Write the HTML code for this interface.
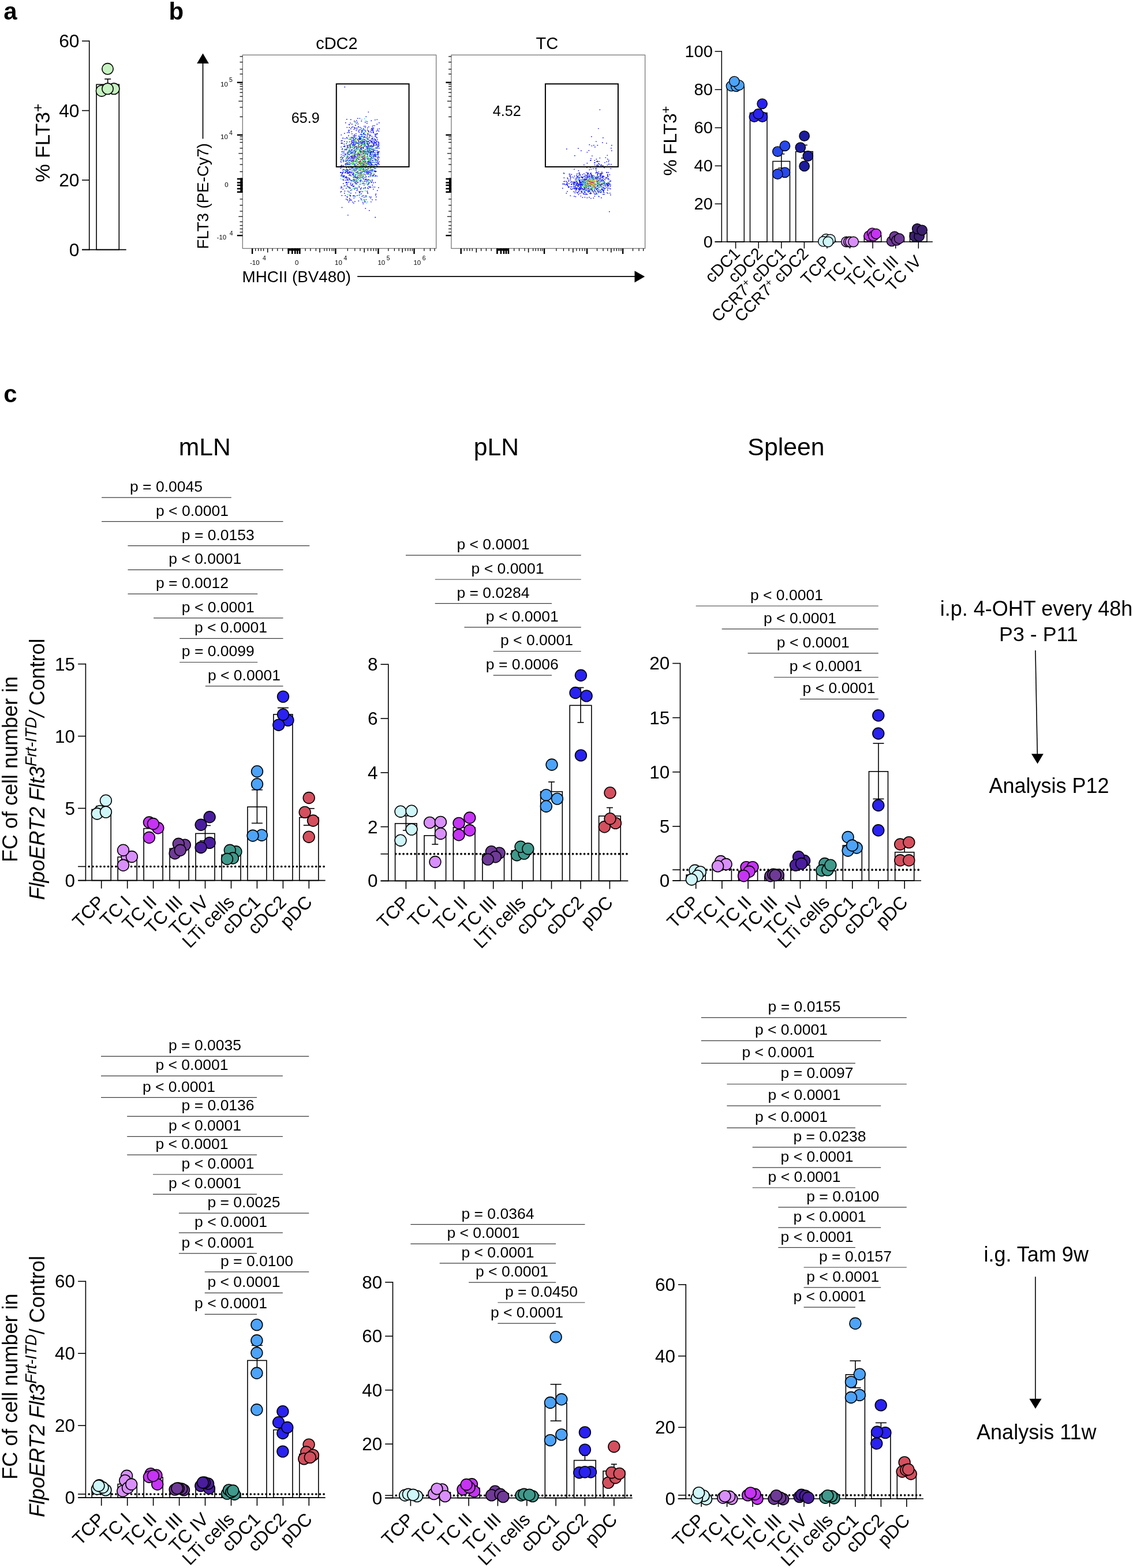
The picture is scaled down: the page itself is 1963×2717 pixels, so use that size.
<!DOCTYPE html>
<html lang="en">
<head>
<meta charset="utf-8">
<title>Figure</title>
<style>
html,body{margin:0;padding:0;background:#fff;}
body{width:1963px;height:2717px;overflow:hidden;font-family:"Liberation Sans", Arial, Helvetica, sans-serif;}
svg{display:block;position:absolute;left:0;top:0;}
svg text{white-space:pre;}
</style>
</head>
<body>
<svg width="1963" height="2717" viewBox="0 0 1963 2717" font-family='"Liberation Sans", Arial, Helvetica, sans-serif' fill="#000" stroke-linecap="butt">
<g class="c">
<text x="6.3" y="34.2" font-size="42" font-weight="bold">a</text>
<text x="292.5" y="34.2" font-size="42" font-weight="bold">b</text>
<text x="6.3" y="697" font-size="42" font-weight="bold">c</text>
<rect x="167.1" y="146.4" width="39.2" height="286.2" fill="#fff" stroke="#000" stroke-width="1.6"/>
<line x1="186.7" y1="136.9" x2="186.7" y2="146.4" stroke="#000" stroke-width="1.6"/>
<line x1="181.2" y1="136.9" x2="192.2" y2="136.9" stroke="#000" stroke-width="1.6"/>
<line x1="154.7" y1="70.3" x2="154.7" y2="433.4" stroke="#000" stroke-width="1.6"/>
<line x1="142" y1="432.6" x2="218.7" y2="432.6" stroke="#000" stroke-width="1.6"/>
<line x1="142" y1="71.1" x2="154.7" y2="71.1" stroke="#000" stroke-width="1.6"/>
<text x="137.5" y="82.1" font-size="31.8" text-anchor="end">60</text>
<line x1="142" y1="191.6" x2="154.7" y2="191.6" stroke="#000" stroke-width="1.6"/>
<text x="137.5" y="202.6" font-size="31.8" text-anchor="end">40</text>
<line x1="142" y1="312.1" x2="154.7" y2="312.1" stroke="#000" stroke-width="1.6"/>
<text x="137.5" y="323.1" font-size="31.8" text-anchor="end">20</text>
<line x1="142" y1="432.6" x2="154.7" y2="432.6" stroke="#000" stroke-width="1.6"/>
<text x="137.5" y="443.6" font-size="31.8" text-anchor="end">0</text>
<g stroke="#000" stroke-width="1.6">
<circle cx="176.1" cy="157.4" r="9.7" fill="#c6f1c0"/>
<circle cx="197.3" cy="153.8" r="9.7" fill="#c6f1c0"/>
<circle cx="186.5" cy="153.8" r="9.7" fill="#c6f1c0"/>
<circle cx="186.5" cy="119.3" r="9.7" fill="#c6f1c0"/>
</g>
<text font-size="35.6" text-anchor="middle" transform="translate(86.2 247.6) rotate(-90)">% FLT3<tspan font-size="25" dy="-12.5">+</tspan></text>
<rect x="420.3" y="95.3" width="335.4" height="335.2" fill="#fff" stroke="#777" stroke-width="1.3"/>
<line x1="410.8" y1="142.9" x2="420.3" y2="142.9" stroke="#000" stroke-width="2.4"/>
<line x1="410.8" y1="233.9" x2="420.3" y2="233.9" stroke="#000" stroke-width="2.4"/>
<line x1="410.8" y1="408.1" x2="420.3" y2="408.1" stroke="#000" stroke-width="2.4"/>
<line x1="415.5" y1="97.9" x2="420.3" y2="97.9" stroke="#000" stroke-width="1.2"/>
<line x1="415.5" y1="107.6" x2="420.3" y2="107.6" stroke="#000" stroke-width="1.2"/>
<line x1="415.5" y1="119.9" x2="420.3" y2="119.9" stroke="#000" stroke-width="1.2"/>
<line x1="415.5" y1="128.3" x2="420.3" y2="128.3" stroke="#000" stroke-width="1.2"/>
<line x1="415.5" y1="146" x2="420.3" y2="146" stroke="#000" stroke-width="1.2"/>
<line x1="415.5" y1="149.7" x2="420.3" y2="149.7" stroke="#000" stroke-width="1.2"/>
<line x1="415.5" y1="154.3" x2="420.3" y2="154.3" stroke="#000" stroke-width="1.2"/>
<line x1="415.5" y1="160.3" x2="420.3" y2="160.3" stroke="#000" stroke-width="1.2"/>
<line x1="415.5" y1="167.1" x2="420.3" y2="167.1" stroke="#000" stroke-width="1.2"/>
<line x1="413.3" y1="175.3" x2="420.3" y2="175.3" stroke="#000" stroke-width="1.2"/>
<line x1="415.5" y1="185.9" x2="420.3" y2="185.9" stroke="#000" stroke-width="1.2"/>
<line x1="415.5" y1="202.4" x2="420.3" y2="202.4" stroke="#000" stroke-width="1.2"/>
<line x1="415.5" y1="237" x2="420.3" y2="237" stroke="#000" stroke-width="1.2"/>
<line x1="415.5" y1="241.2" x2="420.3" y2="241.2" stroke="#000" stroke-width="1.2"/>
<line x1="415.5" y1="246.7" x2="420.3" y2="246.7" stroke="#000" stroke-width="1.2"/>
<line x1="415.5" y1="256.8" x2="420.3" y2="256.8" stroke="#000" stroke-width="1.2"/>
<line x1="413.3" y1="265.9" x2="420.3" y2="265.9" stroke="#000" stroke-width="1.2"/>
<line x1="415.5" y1="275.1" x2="420.3" y2="275.1" stroke="#000" stroke-width="1.2"/>
<line x1="415.5" y1="285.1" x2="420.3" y2="285.1" stroke="#000" stroke-width="1.2"/>
<line x1="415.5" y1="297.5" x2="420.3" y2="297.5" stroke="#000" stroke-width="1.2"/>
<line x1="415.5" y1="345" x2="420.3" y2="345" stroke="#000" stroke-width="1.2"/>
<line x1="415.5" y1="355.6" x2="420.3" y2="355.6" stroke="#000" stroke-width="1.2"/>
<line x1="415.5" y1="366" x2="420.3" y2="366" stroke="#000" stroke-width="1.2"/>
<line x1="413.3" y1="375.2" x2="420.3" y2="375.2" stroke="#000" stroke-width="1.2"/>
<line x1="415.5" y1="384.3" x2="420.3" y2="384.3" stroke="#000" stroke-width="1.2"/>
<line x1="415.5" y1="390.7" x2="420.3" y2="390.7" stroke="#000" stroke-width="1.2"/>
<line x1="415.5" y1="396.6" x2="420.3" y2="396.6" stroke="#000" stroke-width="1.2"/>
<line x1="415.5" y1="402.3" x2="420.3" y2="402.3" stroke="#000" stroke-width="1.2"/>
<rect x="416.3" y="308.4" width="4" height="25.6" fill="#000" stroke="none" stroke-width="0"/>
<line x1="410.8" y1="310" x2="420.3" y2="310" stroke="#000" stroke-width="2.6"/>
<line x1="410.8" y1="316.5" x2="420.3" y2="316.5" stroke="#000" stroke-width="2.6"/>
<line x1="410.8" y1="321" x2="420.3" y2="321" stroke="#000" stroke-width="2.6"/>
<line x1="410.8" y1="327" x2="420.3" y2="327" stroke="#000" stroke-width="2.6"/>
<line x1="410.8" y1="332.7" x2="420.3" y2="332.7" stroke="#000" stroke-width="2.6"/>
<line x1="437.1" y1="430.5" x2="437.1" y2="440" stroke="#000" stroke-width="2.4"/>
<line x1="581.4" y1="430.5" x2="581.4" y2="440" stroke="#000" stroke-width="2.4"/>
<line x1="655.4" y1="430.5" x2="655.4" y2="440" stroke="#000" stroke-width="2.4"/>
<line x1="717.5" y1="430.5" x2="717.5" y2="440" stroke="#000" stroke-width="2.4"/>
<line x1="442.7" y1="430.5" x2="442.7" y2="435" stroke="#000" stroke-width="1.2"/>
<line x1="447.6" y1="430.5" x2="447.6" y2="435" stroke="#000" stroke-width="1.2"/>
<line x1="452.2" y1="430.5" x2="452.2" y2="435" stroke="#000" stroke-width="1.2"/>
<line x1="456.6" y1="430.5" x2="456.6" y2="435" stroke="#000" stroke-width="1.2"/>
<line x1="472" y1="430.5" x2="472" y2="435" stroke="#000" stroke-width="1.2"/>
<line x1="480.8" y1="430.5" x2="480.8" y2="435" stroke="#000" stroke-width="1.2"/>
<line x1="489.6" y1="430.5" x2="489.6" y2="435" stroke="#000" stroke-width="1.2"/>
<line x1="529.1" y1="430.5" x2="529.1" y2="435" stroke="#000" stroke-width="1.2"/>
<line x1="537.9" y1="430.5" x2="537.9" y2="435" stroke="#000" stroke-width="1.2"/>
<line x1="547.4" y1="430.5" x2="547.4" y2="435" stroke="#000" stroke-width="1.2"/>
<line x1="562" y1="430.5" x2="562" y2="435" stroke="#000" stroke-width="1.2"/>
<line x1="566.4" y1="430.5" x2="566.4" y2="435" stroke="#000" stroke-width="1.2"/>
<line x1="570.8" y1="430.5" x2="570.8" y2="435" stroke="#000" stroke-width="1.2"/>
<line x1="575.2" y1="430.5" x2="575.2" y2="435" stroke="#000" stroke-width="1.2"/>
<line x1="578.2" y1="430.5" x2="578.2" y2="435" stroke="#000" stroke-width="1.2"/>
<line x1="602.3" y1="430.5" x2="602.3" y2="435" stroke="#000" stroke-width="1.2"/>
<line x1="614.8" y1="430.5" x2="614.8" y2="435" stroke="#000" stroke-width="1.2"/>
<line x1="624" y1="430.5" x2="624" y2="435" stroke="#000" stroke-width="1.2"/>
<line x1="637.3" y1="430.5" x2="637.3" y2="435" stroke="#000" stroke-width="1.2"/>
<line x1="642.6" y1="430.5" x2="642.6" y2="435" stroke="#000" stroke-width="1.2"/>
<line x1="647.3" y1="430.5" x2="647.3" y2="435" stroke="#000" stroke-width="1.2"/>
<line x1="651.5" y1="430.5" x2="651.5" y2="435" stroke="#000" stroke-width="1.2"/>
<line x1="672.9" y1="430.5" x2="672.9" y2="435" stroke="#000" stroke-width="1.2"/>
<line x1="683.4" y1="430.5" x2="683.4" y2="435" stroke="#000" stroke-width="1.2"/>
<line x1="691.1" y1="430.5" x2="691.1" y2="435" stroke="#000" stroke-width="1.2"/>
<line x1="702.3" y1="430.5" x2="702.3" y2="435" stroke="#000" stroke-width="1.2"/>
<line x1="706.8" y1="430.5" x2="706.8" y2="435" stroke="#000" stroke-width="1.2"/>
<line x1="710.7" y1="430.5" x2="710.7" y2="435" stroke="#000" stroke-width="1.2"/>
<line x1="714.3" y1="430.5" x2="714.3" y2="435" stroke="#000" stroke-width="1.2"/>
<line x1="734.9" y1="430.5" x2="734.9" y2="435" stroke="#000" stroke-width="1.2"/>
<line x1="745.4" y1="430.5" x2="745.4" y2="435" stroke="#000" stroke-width="1.2"/>
<line x1="753" y1="430.5" x2="753" y2="435" stroke="#000" stroke-width="1.2"/>
<line x1="463.7" y1="430.5" x2="463.7" y2="437.5" stroke="#000" stroke-width="1.5"/>
<line x1="554" y1="430.5" x2="554" y2="437.5" stroke="#000" stroke-width="1.5"/>
<line x1="631.2" y1="430.5" x2="631.2" y2="437.5" stroke="#000" stroke-width="1.5"/>
<line x1="697.2" y1="430.5" x2="697.2" y2="437.5" stroke="#000" stroke-width="1.5"/>
<rect x="498.5" y="430.5" width="21.9" height="4" fill="#000" stroke="none" stroke-width="0"/>
<line x1="499.8" y1="430.5" x2="499.8" y2="440" stroke="#000" stroke-width="2.6"/>
<line x1="506.3" y1="430.5" x2="506.3" y2="440" stroke="#000" stroke-width="2.6"/>
<line x1="511.3" y1="430.5" x2="511.3" y2="440" stroke="#000" stroke-width="2.6"/>
<line x1="515.3" y1="430.5" x2="515.3" y2="440" stroke="#000" stroke-width="2.6"/>
<line x1="519.3" y1="430.5" x2="519.3" y2="440" stroke="#000" stroke-width="2.6"/>
<rect x="781.9" y="95.3" width="335.7" height="335.2" fill="#fff" stroke="#777" stroke-width="1.3"/>
<line x1="772.4" y1="142.9" x2="781.9" y2="142.9" stroke="#000" stroke-width="2.4"/>
<line x1="772.4" y1="233.9" x2="781.9" y2="233.9" stroke="#000" stroke-width="2.4"/>
<line x1="772.4" y1="408.1" x2="781.9" y2="408.1" stroke="#000" stroke-width="2.4"/>
<line x1="777.1" y1="97.9" x2="781.9" y2="97.9" stroke="#000" stroke-width="1.2"/>
<line x1="777.1" y1="107.6" x2="781.9" y2="107.6" stroke="#000" stroke-width="1.2"/>
<line x1="777.1" y1="119.9" x2="781.9" y2="119.9" stroke="#000" stroke-width="1.2"/>
<line x1="777.1" y1="128.3" x2="781.9" y2="128.3" stroke="#000" stroke-width="1.2"/>
<line x1="777.1" y1="146" x2="781.9" y2="146" stroke="#000" stroke-width="1.2"/>
<line x1="777.1" y1="149.7" x2="781.9" y2="149.7" stroke="#000" stroke-width="1.2"/>
<line x1="777.1" y1="154.3" x2="781.9" y2="154.3" stroke="#000" stroke-width="1.2"/>
<line x1="777.1" y1="160.3" x2="781.9" y2="160.3" stroke="#000" stroke-width="1.2"/>
<line x1="777.1" y1="167.1" x2="781.9" y2="167.1" stroke="#000" stroke-width="1.2"/>
<line x1="774.9" y1="175.3" x2="781.9" y2="175.3" stroke="#000" stroke-width="1.2"/>
<line x1="777.1" y1="185.9" x2="781.9" y2="185.9" stroke="#000" stroke-width="1.2"/>
<line x1="777.1" y1="202.4" x2="781.9" y2="202.4" stroke="#000" stroke-width="1.2"/>
<line x1="777.1" y1="237" x2="781.9" y2="237" stroke="#000" stroke-width="1.2"/>
<line x1="777.1" y1="241.2" x2="781.9" y2="241.2" stroke="#000" stroke-width="1.2"/>
<line x1="777.1" y1="246.7" x2="781.9" y2="246.7" stroke="#000" stroke-width="1.2"/>
<line x1="777.1" y1="256.8" x2="781.9" y2="256.8" stroke="#000" stroke-width="1.2"/>
<line x1="774.9" y1="265.9" x2="781.9" y2="265.9" stroke="#000" stroke-width="1.2"/>
<line x1="777.1" y1="275.1" x2="781.9" y2="275.1" stroke="#000" stroke-width="1.2"/>
<line x1="777.1" y1="285.1" x2="781.9" y2="285.1" stroke="#000" stroke-width="1.2"/>
<line x1="777.1" y1="297.5" x2="781.9" y2="297.5" stroke="#000" stroke-width="1.2"/>
<line x1="777.1" y1="345" x2="781.9" y2="345" stroke="#000" stroke-width="1.2"/>
<line x1="777.1" y1="355.6" x2="781.9" y2="355.6" stroke="#000" stroke-width="1.2"/>
<line x1="777.1" y1="366" x2="781.9" y2="366" stroke="#000" stroke-width="1.2"/>
<line x1="774.9" y1="375.2" x2="781.9" y2="375.2" stroke="#000" stroke-width="1.2"/>
<line x1="777.1" y1="384.3" x2="781.9" y2="384.3" stroke="#000" stroke-width="1.2"/>
<line x1="777.1" y1="390.7" x2="781.9" y2="390.7" stroke="#000" stroke-width="1.2"/>
<line x1="777.1" y1="396.6" x2="781.9" y2="396.6" stroke="#000" stroke-width="1.2"/>
<line x1="777.1" y1="402.3" x2="781.9" y2="402.3" stroke="#000" stroke-width="1.2"/>
<rect x="777.9" y="308.4" width="4" height="25.6" fill="#000" stroke="none" stroke-width="0"/>
<line x1="772.4" y1="310" x2="781.9" y2="310" stroke="#000" stroke-width="2.6"/>
<line x1="772.4" y1="316.5" x2="781.9" y2="316.5" stroke="#000" stroke-width="2.6"/>
<line x1="772.4" y1="321" x2="781.9" y2="321" stroke="#000" stroke-width="2.6"/>
<line x1="772.4" y1="327" x2="781.9" y2="327" stroke="#000" stroke-width="2.6"/>
<line x1="772.4" y1="332.7" x2="781.9" y2="332.7" stroke="#000" stroke-width="2.6"/>
<line x1="798.7" y1="430.5" x2="798.7" y2="440" stroke="#000" stroke-width="2.4"/>
<line x1="943" y1="430.5" x2="943" y2="440" stroke="#000" stroke-width="2.4"/>
<line x1="1017" y1="430.5" x2="1017" y2="440" stroke="#000" stroke-width="2.4"/>
<line x1="1079.1" y1="430.5" x2="1079.1" y2="440" stroke="#000" stroke-width="2.4"/>
<line x1="804.3" y1="430.5" x2="804.3" y2="435" stroke="#000" stroke-width="1.2"/>
<line x1="809.2" y1="430.5" x2="809.2" y2="435" stroke="#000" stroke-width="1.2"/>
<line x1="813.8" y1="430.5" x2="813.8" y2="435" stroke="#000" stroke-width="1.2"/>
<line x1="818.2" y1="430.5" x2="818.2" y2="435" stroke="#000" stroke-width="1.2"/>
<line x1="833.6" y1="430.5" x2="833.6" y2="435" stroke="#000" stroke-width="1.2"/>
<line x1="842.4" y1="430.5" x2="842.4" y2="435" stroke="#000" stroke-width="1.2"/>
<line x1="851.2" y1="430.5" x2="851.2" y2="435" stroke="#000" stroke-width="1.2"/>
<line x1="890.7" y1="430.5" x2="890.7" y2="435" stroke="#000" stroke-width="1.2"/>
<line x1="899.5" y1="430.5" x2="899.5" y2="435" stroke="#000" stroke-width="1.2"/>
<line x1="909" y1="430.5" x2="909" y2="435" stroke="#000" stroke-width="1.2"/>
<line x1="923.6" y1="430.5" x2="923.6" y2="435" stroke="#000" stroke-width="1.2"/>
<line x1="928" y1="430.5" x2="928" y2="435" stroke="#000" stroke-width="1.2"/>
<line x1="932.4" y1="430.5" x2="932.4" y2="435" stroke="#000" stroke-width="1.2"/>
<line x1="936.8" y1="430.5" x2="936.8" y2="435" stroke="#000" stroke-width="1.2"/>
<line x1="939.8" y1="430.5" x2="939.8" y2="435" stroke="#000" stroke-width="1.2"/>
<line x1="963.9" y1="430.5" x2="963.9" y2="435" stroke="#000" stroke-width="1.2"/>
<line x1="976.4" y1="430.5" x2="976.4" y2="435" stroke="#000" stroke-width="1.2"/>
<line x1="985.6" y1="430.5" x2="985.6" y2="435" stroke="#000" stroke-width="1.2"/>
<line x1="998.9" y1="430.5" x2="998.9" y2="435" stroke="#000" stroke-width="1.2"/>
<line x1="1004.2" y1="430.5" x2="1004.2" y2="435" stroke="#000" stroke-width="1.2"/>
<line x1="1008.9" y1="430.5" x2="1008.9" y2="435" stroke="#000" stroke-width="1.2"/>
<line x1="1013.1" y1="430.5" x2="1013.1" y2="435" stroke="#000" stroke-width="1.2"/>
<line x1="1034.5" y1="430.5" x2="1034.5" y2="435" stroke="#000" stroke-width="1.2"/>
<line x1="1045" y1="430.5" x2="1045" y2="435" stroke="#000" stroke-width="1.2"/>
<line x1="1052.7" y1="430.5" x2="1052.7" y2="435" stroke="#000" stroke-width="1.2"/>
<line x1="1063.9" y1="430.5" x2="1063.9" y2="435" stroke="#000" stroke-width="1.2"/>
<line x1="1068.4" y1="430.5" x2="1068.4" y2="435" stroke="#000" stroke-width="1.2"/>
<line x1="1072.3" y1="430.5" x2="1072.3" y2="435" stroke="#000" stroke-width="1.2"/>
<line x1="1075.9" y1="430.5" x2="1075.9" y2="435" stroke="#000" stroke-width="1.2"/>
<line x1="1096.5" y1="430.5" x2="1096.5" y2="435" stroke="#000" stroke-width="1.2"/>
<line x1="1107" y1="430.5" x2="1107" y2="435" stroke="#000" stroke-width="1.2"/>
<line x1="1114.6" y1="430.5" x2="1114.6" y2="435" stroke="#000" stroke-width="1.2"/>
<line x1="825.3" y1="430.5" x2="825.3" y2="437.5" stroke="#000" stroke-width="1.5"/>
<line x1="915.6" y1="430.5" x2="915.6" y2="437.5" stroke="#000" stroke-width="1.5"/>
<line x1="992.8" y1="430.5" x2="992.8" y2="437.5" stroke="#000" stroke-width="1.5"/>
<line x1="1058.8" y1="430.5" x2="1058.8" y2="437.5" stroke="#000" stroke-width="1.5"/>
<rect x="860.1" y="430.5" width="21.9" height="4" fill="#000" stroke="none" stroke-width="0"/>
<line x1="861.4" y1="430.5" x2="861.4" y2="440" stroke="#000" stroke-width="2.6"/>
<line x1="867.9" y1="430.5" x2="867.9" y2="440" stroke="#000" stroke-width="2.6"/>
<line x1="872.9" y1="430.5" x2="872.9" y2="440" stroke="#000" stroke-width="2.6"/>
<line x1="876.9" y1="430.5" x2="876.9" y2="440" stroke="#000" stroke-width="2.6"/>
<line x1="880.9" y1="430.5" x2="880.9" y2="440" stroke="#000" stroke-width="2.6"/>
<path d="M635.5 238.5h1.6v1.6h-1.6zM611.5 303h1.6v1.6h-1.6zM628 235.5h1.6v1.6h-1.6zM643 288h1.6v1.6h-1.6zM631 294.5h1.6v1.6h-1.6zM637.5 318.5h1.6v1.6h-1.6zM620 271h1.6v1.6h-1.6zM606 251h1.6v1.6h-1.6zM624.5 264h1.6v1.6h-1.6zM636.5 282h1.6v1.6h-1.6zM643.5 222h1.6v1.6h-1.6zM626 233h1.6v1.6h-1.6zM629.5 231.5h1.6v1.6h-1.6zM597 298.5h1.6v1.6h-1.6zM631.5 271.5h1.6v1.6h-1.6zM605.5 277h1.6v1.6h-1.6zM610 301.5h1.6v1.6h-1.6zM631.5 310.5h1.6v1.6h-1.6zM609.5 278h1.6v1.6h-1.6zM630.5 296.5h1.6v1.6h-1.6zM612 321.5h1.6v1.6h-1.6zM627.5 282h1.6v1.6h-1.6zM613 279.5h1.6v1.6h-1.6zM620.5 244.5h1.6v1.6h-1.6zM640.5 302.5h1.6v1.6h-1.6zM634.5 296.5h1.6v1.6h-1.6zM638 279.5h1.6v1.6h-1.6zM638 279h1.6v1.6h-1.6zM649.5 275.5h1.6v1.6h-1.6zM615 306.5h1.6v1.6h-1.6zM614 222h1.6v1.6h-1.6zM636.5 274h1.6v1.6h-1.6zM630 262h1.6v1.6h-1.6zM653 277.5h1.6v1.6h-1.6zM648.5 295h1.6v1.6h-1.6zM628 293h1.6v1.6h-1.6zM617.5 221h1.6v1.6h-1.6zM622 260h1.6v1.6h-1.6zM616 316h1.6v1.6h-1.6zM603.5 260h1.6v1.6h-1.6zM621.5 337.5h1.6v1.6h-1.6zM646 229.5h1.6v1.6h-1.6zM616 239.5h1.6v1.6h-1.6zM633 310.5h1.6v1.6h-1.6zM643.5 222.5h1.6v1.6h-1.6zM624.5 312.5h1.6v1.6h-1.6zM628.5 253h1.6v1.6h-1.6zM603 225h1.6v1.6h-1.6zM652.5 260h1.6v1.6h-1.6zM605 309.5h1.6v1.6h-1.6zM645.5 217h1.6v1.6h-1.6zM642 284h1.6v1.6h-1.6zM590.5 303.5h1.6v1.6h-1.6zM636 271h1.6v1.6h-1.6zM631.5 252h1.6v1.6h-1.6zM618.5 305.5h1.6v1.6h-1.6zM620 280h1.6v1.6h-1.6zM602.5 264.5h1.6v1.6h-1.6zM628 279.5h1.6v1.6h-1.6zM608.5 245h1.6v1.6h-1.6zM613.5 270h1.6v1.6h-1.6zM642 270.5h1.6v1.6h-1.6zM604.5 262.5h1.6v1.6h-1.6zM608.5 237.5h1.6v1.6h-1.6zM619 284.5h1.6v1.6h-1.6zM607 316.5h1.6v1.6h-1.6zM644.5 247h1.6v1.6h-1.6zM597.5 311.5h1.6v1.6h-1.6zM615.5 262.5h1.6v1.6h-1.6zM605 245h1.6v1.6h-1.6zM623 224h1.6v1.6h-1.6zM609 290.5h1.6v1.6h-1.6zM655.5 248h1.6v1.6h-1.6zM627 227.5h1.6v1.6h-1.6zM597.5 298h1.6v1.6h-1.6zM613.5 306h1.6v1.6h-1.6zM620.5 285.5h1.6v1.6h-1.6zM646 280.5h1.6v1.6h-1.6zM655 262.5h1.6v1.6h-1.6zM602.5 294.5h1.6v1.6h-1.6zM642.5 263.5h1.6v1.6h-1.6zM623.5 240.5h1.6v1.6h-1.6zM622.5 268.5h1.6v1.6h-1.6zM649 231.5h1.6v1.6h-1.6zM623.5 245h1.6v1.6h-1.6zM605.5 337.5h1.6v1.6h-1.6zM645.5 270h1.6v1.6h-1.6zM636 295.5h1.6v1.6h-1.6zM646.5 288.5h1.6v1.6h-1.6zM620.5 275h1.6v1.6h-1.6zM610.5 264h1.6v1.6h-1.6zM647.5 249h1.6v1.6h-1.6zM638.5 311h1.6v1.6h-1.6zM637 299h1.6v1.6h-1.6zM624.5 257h1.6v1.6h-1.6zM610 251h1.6v1.6h-1.6zM601 297.5h1.6v1.6h-1.6zM591 271h1.6v1.6h-1.6zM612.5 294.5h1.6v1.6h-1.6zM633 273h1.6v1.6h-1.6zM590.5 247.5h1.6v1.6h-1.6zM627 280.5h1.6v1.6h-1.6zM621.5 241h1.6v1.6h-1.6zM635 282h1.6v1.6h-1.6zM637.5 226h1.6v1.6h-1.6zM592.5 257h1.6v1.6h-1.6zM625 269h1.6v1.6h-1.6zM599 315h1.6v1.6h-1.6zM595.5 321.5h1.6v1.6h-1.6zM605.5 277h1.6v1.6h-1.6zM624 246h1.6v1.6h-1.6zM619.5 315.5h1.6v1.6h-1.6zM596.5 259h1.6v1.6h-1.6zM643.5 273h1.6v1.6h-1.6zM626 292h1.6v1.6h-1.6zM621.5 241h1.6v1.6h-1.6zM618.5 315.5h1.6v1.6h-1.6zM617 278h1.6v1.6h-1.6zM628.5 338h1.6v1.6h-1.6zM641.5 290.5h1.6v1.6h-1.6zM621.5 266.5h1.6v1.6h-1.6zM625 235.5h1.6v1.6h-1.6zM637.5 258h1.6v1.6h-1.6zM654.5 264.5h1.6v1.6h-1.6zM647 301h1.6v1.6h-1.6zM655.5 226.5h1.6v1.6h-1.6zM618.5 274h1.6v1.6h-1.6zM635.5 330.5h1.6v1.6h-1.6zM637 244h1.6v1.6h-1.6zM613.5 327h1.6v1.6h-1.6zM613 251.5h1.6v1.6h-1.6zM630 276.5h1.6v1.6h-1.6zM631 252.5h1.6v1.6h-1.6zM618 247.5h1.6v1.6h-1.6zM611 272h1.6v1.6h-1.6zM644.5 320h1.6v1.6h-1.6zM614.5 239.5h1.6v1.6h-1.6zM612.5 274.5h1.6v1.6h-1.6zM599 325.5h1.6v1.6h-1.6zM624 263h1.6v1.6h-1.6zM621 235h1.6v1.6h-1.6zM642.5 251h1.6v1.6h-1.6zM640 280.5h1.6v1.6h-1.6zM589.5 272h1.6v1.6h-1.6zM598.5 288.5h1.6v1.6h-1.6zM611.5 276.5h1.6v1.6h-1.6zM617 276h1.6v1.6h-1.6zM650 284h1.6v1.6h-1.6zM632.5 264.5h1.6v1.6h-1.6zM596 334h1.6v1.6h-1.6zM611 300.5h1.6v1.6h-1.6zM642 274.5h1.6v1.6h-1.6zM640 255.5h1.6v1.6h-1.6zM601 284.5h1.6v1.6h-1.6zM650 296h1.6v1.6h-1.6zM623.5 308.5h1.6v1.6h-1.6zM622.5 238h1.6v1.6h-1.6zM621 225h1.6v1.6h-1.6zM627 284.5h1.6v1.6h-1.6zM633.5 309.5h1.6v1.6h-1.6zM645 303.5h1.6v1.6h-1.6zM654.5 283h1.6v1.6h-1.6zM626 225h1.6v1.6h-1.6zM637.5 253.5h1.6v1.6h-1.6zM629.5 238h1.6v1.6h-1.6zM597 265.5h1.6v1.6h-1.6zM611.5 299.5h1.6v1.6h-1.6zM594 306h1.6v1.6h-1.6zM605 284h1.6v1.6h-1.6zM642 282.5h1.6v1.6h-1.6zM627.5 297h1.6v1.6h-1.6zM638.5 305.5h1.6v1.6h-1.6zM612.5 277h1.6v1.6h-1.6zM628.5 303.5h1.6v1.6h-1.6zM610.5 219h1.6v1.6h-1.6zM625 287.5h1.6v1.6h-1.6zM635.5 282h1.6v1.6h-1.6zM637 283.5h1.6v1.6h-1.6zM649.5 297h1.6v1.6h-1.6zM619 204.5h1.6v1.6h-1.6zM630 341h1.6v1.6h-1.6zM614.5 262.5h1.6v1.6h-1.6zM652.5 238h1.6v1.6h-1.6zM638.5 264h1.6v1.6h-1.6zM605.5 298h1.6v1.6h-1.6zM646.5 303h1.6v1.6h-1.6zM618.5 328h1.6v1.6h-1.6zM629.5 294h1.6v1.6h-1.6zM613 311h1.6v1.6h-1.6zM610.5 289.5h1.6v1.6h-1.6zM612 283h1.6v1.6h-1.6zM622.5 240h1.6v1.6h-1.6zM640.5 264.5h1.6v1.6h-1.6zM649.5 246h1.6v1.6h-1.6zM598.5 294.5h1.6v1.6h-1.6zM645.5 240.5h1.6v1.6h-1.6zM608.5 269.5h1.6v1.6h-1.6zM601 254h1.6v1.6h-1.6zM612 301h1.6v1.6h-1.6zM589.5 279.5h1.6v1.6h-1.6zM614.5 325h1.6v1.6h-1.6zM605.5 253h1.6v1.6h-1.6zM623.5 300h1.6v1.6h-1.6zM649.5 251h1.6v1.6h-1.6zM628.5 223h1.6v1.6h-1.6zM647.5 301h1.6v1.6h-1.6zM618.5 309h1.6v1.6h-1.6zM591.5 262h1.6v1.6h-1.6zM616 234.5h1.6v1.6h-1.6zM643 253h1.6v1.6h-1.6zM653 329.5h1.6v1.6h-1.6zM649.5 315.5h1.6v1.6h-1.6zM622.5 238h1.6v1.6h-1.6zM599.5 290h1.6v1.6h-1.6zM613 283h1.6v1.6h-1.6zM623.5 263h1.6v1.6h-1.6zM624.5 292h1.6v1.6h-1.6zM613 260.5h1.6v1.6h-1.6zM621 275.5h1.6v1.6h-1.6zM643 284h1.6v1.6h-1.6zM625.5 251.5h1.6v1.6h-1.6zM616.5 266.5h1.6v1.6h-1.6zM613.5 312h1.6v1.6h-1.6zM631.5 244.5h1.6v1.6h-1.6zM593.5 276.5h1.6v1.6h-1.6zM638.5 248h1.6v1.6h-1.6zM615 216.5h1.6v1.6h-1.6zM625 239h1.6v1.6h-1.6zM608.5 274.5h1.6v1.6h-1.6zM636 296.5h1.6v1.6h-1.6zM627.5 245h1.6v1.6h-1.6zM628.5 316.5h1.6v1.6h-1.6zM631.5 275h1.6v1.6h-1.6zM591.5 338h1.6v1.6h-1.6zM596 244.5h1.6v1.6h-1.6zM646 228h1.6v1.6h-1.6zM653.5 282.5h1.6v1.6h-1.6zM638.5 316h1.6v1.6h-1.6zM637.5 299.5h1.6v1.6h-1.6zM640 275h1.6v1.6h-1.6zM637.5 252h1.6v1.6h-1.6zM622.5 266.5h1.6v1.6h-1.6zM625 335h1.6v1.6h-1.6zM646 262h1.6v1.6h-1.6zM629 254.5h1.6v1.6h-1.6zM608 288h1.6v1.6h-1.6zM597 321.5h1.6v1.6h-1.6zM615 270.5h1.6v1.6h-1.6zM639.5 278h1.6v1.6h-1.6zM613 269.5h1.6v1.6h-1.6zM599.5 248h1.6v1.6h-1.6zM647.5 244.5h1.6v1.6h-1.6zM607.5 312.5h1.6v1.6h-1.6zM637 241h1.6v1.6h-1.6zM624.5 265.5h1.6v1.6h-1.6zM648 267.5h1.6v1.6h-1.6zM623 281.5h1.6v1.6h-1.6zM637.5 227h1.6v1.6h-1.6zM626.5 255.5h1.6v1.6h-1.6zM641.5 227.5h1.6v1.6h-1.6zM612.5 236.5h1.6v1.6h-1.6zM623 307.5h1.6v1.6h-1.6zM618.5 241h1.6v1.6h-1.6zM635.5 289h1.6v1.6h-1.6zM626 298.5h1.6v1.6h-1.6zM649.5 270.5h1.6v1.6h-1.6zM636 260.5h1.6v1.6h-1.6zM621.5 290h1.6v1.6h-1.6zM636.5 255h1.6v1.6h-1.6zM622.5 253.5h1.6v1.6h-1.6zM642.5 208.5h1.6v1.6h-1.6zM616.5 313.5h1.6v1.6h-1.6zM620 268h1.6v1.6h-1.6zM603 299.5h1.6v1.6h-1.6zM608 298.5h1.6v1.6h-1.6zM652 230.5h1.6v1.6h-1.6zM644 281h1.6v1.6h-1.6zM644.5 262.5h1.6v1.6h-1.6zM636.5 283.5h1.6v1.6h-1.6zM594.5 278.5h1.6v1.6h-1.6zM642.5 261.5h1.6v1.6h-1.6zM655.5 251.5h1.6v1.6h-1.6zM635 257h1.6v1.6h-1.6zM598 267.5h1.6v1.6h-1.6zM633 286h1.6v1.6h-1.6zM654 265.5h1.6v1.6h-1.6zM637.5 250.5h1.6v1.6h-1.6zM613 288h1.6v1.6h-1.6zM641.5 267h1.6v1.6h-1.6zM616.5 225.5h1.6v1.6h-1.6zM592 243h1.6v1.6h-1.6zM619.5 265.5h1.6v1.6h-1.6zM635.5 248h1.6v1.6h-1.6zM645.5 258h1.6v1.6h-1.6zM635.5 271h1.6v1.6h-1.6zM603.5 263h1.6v1.6h-1.6zM621 272h1.6v1.6h-1.6zM638 252.5h1.6v1.6h-1.6zM628.5 301h1.6v1.6h-1.6zM628 306h1.6v1.6h-1.6zM617 246h1.6v1.6h-1.6zM624 300.5h1.6v1.6h-1.6zM606 303h1.6v1.6h-1.6zM652.5 271h1.6v1.6h-1.6zM642 287h1.6v1.6h-1.6zM646 249.5h1.6v1.6h-1.6zM607.5 320.5h1.6v1.6h-1.6zM609.5 246h1.6v1.6h-1.6zM609.5 294.5h1.6v1.6h-1.6zM642 264h1.6v1.6h-1.6zM620.5 310.5h1.6v1.6h-1.6zM630.5 232h1.6v1.6h-1.6zM621.5 235.5h1.6v1.6h-1.6zM653.5 256h1.6v1.6h-1.6zM643.5 296h1.6v1.6h-1.6zM630.5 236.5h1.6v1.6h-1.6zM606 282.5h1.6v1.6h-1.6zM611.5 269.5h1.6v1.6h-1.6zM592 304h1.6v1.6h-1.6zM620 246.5h1.6v1.6h-1.6zM601 263h1.6v1.6h-1.6zM635 294h1.6v1.6h-1.6zM627 276h1.6v1.6h-1.6zM609 214.5h1.6v1.6h-1.6zM608 262.5h1.6v1.6h-1.6zM613 254h1.6v1.6h-1.6zM622.5 288.5h1.6v1.6h-1.6zM643 268h1.6v1.6h-1.6zM607.5 237.5h1.6v1.6h-1.6zM604 261.5h1.6v1.6h-1.6zM616.5 294h1.6v1.6h-1.6zM627 259.5h1.6v1.6h-1.6zM622 259h1.6v1.6h-1.6zM625.5 284h1.6v1.6h-1.6zM628.5 308.5h1.6v1.6h-1.6zM605.5 251.5h1.6v1.6h-1.6zM643 222.5h1.6v1.6h-1.6zM613.5 271h1.6v1.6h-1.6zM652 243.5h1.6v1.6h-1.6zM623.5 278h1.6v1.6h-1.6zM594 286.5h1.6v1.6h-1.6zM615.5 302h1.6v1.6h-1.6zM629.5 286.5h1.6v1.6h-1.6zM636.5 253h1.6v1.6h-1.6zM655 253h1.6v1.6h-1.6zM651 340.5h1.6v1.6h-1.6zM614 269h1.6v1.6h-1.6zM653 267.5h1.6v1.6h-1.6zM639 285h1.6v1.6h-1.6zM622 290.5h1.6v1.6h-1.6zM613 255.5h1.6v1.6h-1.6zM604 229h1.6v1.6h-1.6zM601 299.5h1.6v1.6h-1.6zM642.5 315.5h1.6v1.6h-1.6zM607 262h1.6v1.6h-1.6zM609.5 258.5h1.6v1.6h-1.6zM612.5 252h1.6v1.6h-1.6zM614.5 241.5h1.6v1.6h-1.6zM608.5 272h1.6v1.6h-1.6zM599 296.5h1.6v1.6h-1.6zM605 324.5h1.6v1.6h-1.6zM599.5 305.5h1.6v1.6h-1.6zM614 286.5h1.6v1.6h-1.6zM631 307h1.6v1.6h-1.6zM602.5 282h1.6v1.6h-1.6zM595.5 304.5h1.6v1.6h-1.6zM619.5 214h1.6v1.6h-1.6zM653 231h1.6v1.6h-1.6zM603.5 227.5h1.6v1.6h-1.6zM599.5 307.5h1.6v1.6h-1.6zM649 288h1.6v1.6h-1.6zM639.5 260.5h1.6v1.6h-1.6zM611.5 238.5h1.6v1.6h-1.6zM606.5 262.5h1.6v1.6h-1.6zM630 284h1.6v1.6h-1.6zM607.5 271.5h1.6v1.6h-1.6zM643.5 263h1.6v1.6h-1.6zM642.5 299h1.6v1.6h-1.6zM651.5 248.5h1.6v1.6h-1.6zM631.5 261h1.6v1.6h-1.6zM589 298h1.6v1.6h-1.6zM641.5 324h1.6v1.6h-1.6zM631 297.5h1.6v1.6h-1.6zM611 261h1.6v1.6h-1.6zM590.5 331h1.6v1.6h-1.6zM631 247h1.6v1.6h-1.6zM631 249.5h1.6v1.6h-1.6zM620 303h1.6v1.6h-1.6zM598.5 294h1.6v1.6h-1.6zM644.5 239.5h1.6v1.6h-1.6zM641 281h1.6v1.6h-1.6zM607.5 240h1.6v1.6h-1.6zM636 298h1.6v1.6h-1.6zM621.5 331h1.6v1.6h-1.6zM604 332h1.6v1.6h-1.6zM623.5 239h1.6v1.6h-1.6zM641 313h1.6v1.6h-1.6zM646.5 263h1.6v1.6h-1.6zM616.5 282h1.6v1.6h-1.6zM614.5 284h1.6v1.6h-1.6zM596 269.5h1.6v1.6h-1.6zM600.5 239h1.6v1.6h-1.6zM629 294h1.6v1.6h-1.6zM612.5 309.5h1.6v1.6h-1.6zM632 211h1.6v1.6h-1.6zM636.5 254.5h1.6v1.6h-1.6zM641.5 253.5h1.6v1.6h-1.6zM636.5 245h1.6v1.6h-1.6zM622.5 246h1.6v1.6h-1.6zM646.5 248h1.6v1.6h-1.6zM612.5 244h1.6v1.6h-1.6zM646 260.5h1.6v1.6h-1.6zM627 225.5h1.6v1.6h-1.6zM625.5 286h1.6v1.6h-1.6zM653 264h1.6v1.6h-1.6zM597.5 284h1.6v1.6h-1.6zM618.5 211h1.6v1.6h-1.6zM605.5 271.5h1.6v1.6h-1.6zM643 315h1.6v1.6h-1.6zM606.5 255.5h1.6v1.6h-1.6zM629 285h1.6v1.6h-1.6zM623 220h1.6v1.6h-1.6zM646 316h1.6v1.6h-1.6zM635 248.5h1.6v1.6h-1.6zM590.5 243.5h1.6v1.6h-1.6zM643.5 293.5h1.6v1.6h-1.6zM619.5 299.5h1.6v1.6h-1.6zM612.5 267h1.6v1.6h-1.6zM655 270.5h1.6v1.6h-1.6zM620.5 254h1.6v1.6h-1.6zM632 324h1.6v1.6h-1.6zM610.5 301h1.6v1.6h-1.6zM628 253h1.6v1.6h-1.6zM619 240.5h1.6v1.6h-1.6zM634.5 265.5h1.6v1.6h-1.6zM616 278.5h1.6v1.6h-1.6zM645 285h1.6v1.6h-1.6zM599.5 277.5h1.6v1.6h-1.6zM593.5 327h1.6v1.6h-1.6zM609.5 263.5h1.6v1.6h-1.6zM610.5 318h1.6v1.6h-1.6zM610.5 270.5h1.6v1.6h-1.6zM637.5 296.5h1.6v1.6h-1.6zM640 270.5h1.6v1.6h-1.6zM647 268h1.6v1.6h-1.6zM615.5 286h1.6v1.6h-1.6zM602 270.5h1.6v1.6h-1.6zM610 277.5h1.6v1.6h-1.6zM644.5 277.5h1.6v1.6h-1.6zM650 242h1.6v1.6h-1.6zM620.5 249.5h1.6v1.6h-1.6zM622.5 260.5h1.6v1.6h-1.6zM620.5 299h1.6v1.6h-1.6zM619 281h1.6v1.6h-1.6zM624.5 311h1.6v1.6h-1.6zM616 318h1.6v1.6h-1.6zM595 305h1.6v1.6h-1.6zM624.5 255.5h1.6v1.6h-1.6zM625 247.5h1.6v1.6h-1.6zM607 265.5h1.6v1.6h-1.6zM626.5 262.5h1.6v1.6h-1.6zM631 237h1.6v1.6h-1.6zM616 310.5h1.6v1.6h-1.6zM623 307.5h1.6v1.6h-1.6zM614 237h1.6v1.6h-1.6zM611.5 243.5h1.6v1.6h-1.6zM590.5 276.5h1.6v1.6h-1.6zM641 260.5h1.6v1.6h-1.6zM621.5 323.5h1.6v1.6h-1.6zM649.5 271h1.6v1.6h-1.6zM625 248h1.6v1.6h-1.6zM608 259.5h1.6v1.6h-1.6zM645.5 273.5h1.6v1.6h-1.6zM598 267.5h1.6v1.6h-1.6zM591.5 286.5h1.6v1.6h-1.6zM655.5 247h1.6v1.6h-1.6zM637 256.5h1.6v1.6h-1.6zM612.5 234.5h1.6v1.6h-1.6zM636 221h1.6v1.6h-1.6zM606 339h1.6v1.6h-1.6zM644 303h1.6v1.6h-1.6zM618.5 292h1.6v1.6h-1.6zM642 302.5h1.6v1.6h-1.6zM614.5 304.5h1.6v1.6h-1.6zM627.5 290.5h1.6v1.6h-1.6zM636.5 267.5h1.6v1.6h-1.6zM637 299.5h1.6v1.6h-1.6zM623 237.5h1.6v1.6h-1.6zM601.5 276.5h1.6v1.6h-1.6zM620.5 285.5h1.6v1.6h-1.6zM631.5 276h1.6v1.6h-1.6zM656 256h1.6v1.6h-1.6zM635.5 236h1.6v1.6h-1.6zM648.5 296h1.6v1.6h-1.6zM656 284h1.6v1.6h-1.6zM629 256h1.6v1.6h-1.6zM641.5 263h1.6v1.6h-1.6zM605 302.5h1.6v1.6h-1.6zM639.5 242.5h1.6v1.6h-1.6zM631.5 248.5h1.6v1.6h-1.6zM615.5 286.5h1.6v1.6h-1.6zM646.5 252.5h1.6v1.6h-1.6zM626.5 246h1.6v1.6h-1.6zM649 269.5h1.6v1.6h-1.6zM632.5 232.5h1.6v1.6h-1.6zM619 297h1.6v1.6h-1.6zM628.5 262.5h1.6v1.6h-1.6zM592.5 298.5h1.6v1.6h-1.6zM630 241h1.6v1.6h-1.6zM627.5 247.5h1.6v1.6h-1.6zM636 280.5h1.6v1.6h-1.6zM596.5 253.5h1.6v1.6h-1.6zM655 245.5h1.6v1.6h-1.6zM609 312h1.6v1.6h-1.6zM650 337.5h1.6v1.6h-1.6zM611 291.5h1.6v1.6h-1.6zM597 307.5h1.6v1.6h-1.6zM610.5 252.5h1.6v1.6h-1.6zM638.5 253.5h1.6v1.6h-1.6zM614 294.5h1.6v1.6h-1.6zM611 322.5h1.6v1.6h-1.6zM610.5 273.5h1.6v1.6h-1.6zM626 282.5h1.6v1.6h-1.6zM645 252h1.6v1.6h-1.6zM637 248.5h1.6v1.6h-1.6zM645 277h1.6v1.6h-1.6zM641 233.5h1.6v1.6h-1.6zM596 230.5h1.6v1.6h-1.6zM614 292h1.6v1.6h-1.6zM624.5 255.5h1.6v1.6h-1.6zM654.5 267.5h1.6v1.6h-1.6zM606 265.5h1.6v1.6h-1.6zM629.5 261.5h1.6v1.6h-1.6zM644 239.5h1.6v1.6h-1.6zM627.5 317.5h1.6v1.6h-1.6zM628 260.5h1.6v1.6h-1.6zM653.5 225.5h1.6v1.6h-1.6zM607.5 297h1.6v1.6h-1.6zM609 272.5h1.6v1.6h-1.6zM640 235h1.6v1.6h-1.6zM655 281.5h1.6v1.6h-1.6zM618 258.5h1.6v1.6h-1.6zM590 298h1.6v1.6h-1.6zM643.5 244h1.6v1.6h-1.6zM600.5 273h1.6v1.6h-1.6zM653.5 273.5h1.6v1.6h-1.6zM608 279h1.6v1.6h-1.6zM649 268.5h1.6v1.6h-1.6zM624.5 240.5h1.6v1.6h-1.6zM644.5 294h1.6v1.6h-1.6zM603.5 307.5h1.6v1.6h-1.6zM631 260h1.6v1.6h-1.6zM615 248.5h1.6v1.6h-1.6zM613 209h1.6v1.6h-1.6zM607 287.5h1.6v1.6h-1.6zM636 274h1.6v1.6h-1.6zM646 271h1.6v1.6h-1.6zM620.5 271.5h1.6v1.6h-1.6zM630 249h1.6v1.6h-1.6zM642.5 224.5h1.6v1.6h-1.6zM643.5 257h1.6v1.6h-1.6zM645 224.5h1.6v1.6h-1.6zM638 287h1.6v1.6h-1.6zM612.5 268.5h1.6v1.6h-1.6zM594 317.5h1.6v1.6h-1.6zM641.5 278h1.6v1.6h-1.6zM622.5 237h1.6v1.6h-1.6zM602.5 251.5h1.6v1.6h-1.6zM605 292.5h1.6v1.6h-1.6zM600 311h1.6v1.6h-1.6zM609 243.5h1.6v1.6h-1.6zM605.5 262h1.6v1.6h-1.6zM637 249.5h1.6v1.6h-1.6zM628 241.5h1.6v1.6h-1.6zM624.5 239h1.6v1.6h-1.6zM636.5 270h1.6v1.6h-1.6zM594 311.5h1.6v1.6h-1.6zM600.5 256h1.6v1.6h-1.6zM601 322h1.6v1.6h-1.6zM604.5 296.5h1.6v1.6h-1.6zM637 291h1.6v1.6h-1.6zM643.5 280.5h1.6v1.6h-1.6zM623 248.5h1.6v1.6h-1.6zM615.5 259h1.6v1.6h-1.6zM632.5 286.5h1.6v1.6h-1.6zM608.5 247.5h1.6v1.6h-1.6zM621.5 282h1.6v1.6h-1.6zM620.5 247.5h1.6v1.6h-1.6zM616 317h1.6v1.6h-1.6zM628.5 305.5h1.6v1.6h-1.6zM608.5 220h1.6v1.6h-1.6zM642.5 288.5h1.6v1.6h-1.6zM630.5 224.5h1.6v1.6h-1.6zM621.5 254.5h1.6v1.6h-1.6zM636 325h1.6v1.6h-1.6zM594.5 277h1.6v1.6h-1.6zM629.5 325.5h1.6v1.6h-1.6zM601 296.5h1.6v1.6h-1.6zM632.5 279h1.6v1.6h-1.6zM633 282.5h1.6v1.6h-1.6zM641 296h1.6v1.6h-1.6zM627 245.5h1.6v1.6h-1.6zM642.5 246h1.6v1.6h-1.6zM619 288.5h1.6v1.6h-1.6zM648 240h1.6v1.6h-1.6zM649 242.5h1.6v1.6h-1.6zM640 269h1.6v1.6h-1.6zM592 274h1.6v1.6h-1.6zM640 285.5h1.6v1.6h-1.6zM596 304h1.6v1.6h-1.6zM650.5 335.5h1.6v1.6h-1.6zM607 334h1.6v1.6h-1.6zM622.5 260h1.6v1.6h-1.6zM615.5 258h1.6v1.6h-1.6zM642 285.5h1.6v1.6h-1.6zM642.5 272h1.6v1.6h-1.6zM614 267.5h1.6v1.6h-1.6zM613 285.5h1.6v1.6h-1.6zM621.5 249.5h1.6v1.6h-1.6zM636.5 254h1.6v1.6h-1.6zM632 264h1.6v1.6h-1.6zM629 275h1.6v1.6h-1.6zM629.5 279.5h1.6v1.6h-1.6zM624.5 259h1.6v1.6h-1.6zM609 231h1.6v1.6h-1.6zM633 266h1.6v1.6h-1.6zM601 252h1.6v1.6h-1.6zM605.5 301.5h1.6v1.6h-1.6zM650 270.5h1.6v1.6h-1.6zM645 266h1.6v1.6h-1.6zM656.5 222.5h1.6v1.6h-1.6zM630 247h1.6v1.6h-1.6zM623.5 283h1.6v1.6h-1.6zM616 266.5h1.6v1.6h-1.6zM627 275h1.6v1.6h-1.6zM607.5 299h1.6v1.6h-1.6zM643 281h1.6v1.6h-1.6zM609.5 255h1.6v1.6h-1.6zM600.5 315.5h1.6v1.6h-1.6zM636 333h1.6v1.6h-1.6zM653.5 254h1.6v1.6h-1.6zM600.5 316.5h1.6v1.6h-1.6zM626 307h1.6v1.6h-1.6zM639.5 297.5h1.6v1.6h-1.6zM606.5 329h1.6v1.6h-1.6zM635.5 267h1.6v1.6h-1.6zM593.5 272h1.6v1.6h-1.6zM643 258.5h1.6v1.6h-1.6zM598 258.5h1.6v1.6h-1.6zM628.5 260h1.6v1.6h-1.6zM603.5 289.5h1.6v1.6h-1.6zM616 313h1.6v1.6h-1.6zM641.5 305h1.6v1.6h-1.6zM613.5 241.5h1.6v1.6h-1.6zM599 279h1.6v1.6h-1.6zM643.5 239h1.6v1.6h-1.6zM647.5 246h1.6v1.6h-1.6zM593.5 303.5h1.6v1.6h-1.6zM595.5 249h1.6v1.6h-1.6zM645.5 242.5h1.6v1.6h-1.6zM642 300h1.6v1.6h-1.6zM656 272.5h1.6v1.6h-1.6zM638 281h1.6v1.6h-1.6zM634 253h1.6v1.6h-1.6zM628.5 282.5h1.6v1.6h-1.6zM644 311h1.6v1.6h-1.6zM633.5 305h1.6v1.6h-1.6zM628 284.5h1.6v1.6h-1.6zM636 224.5h1.6v1.6h-1.6zM624.5 244.5h1.6v1.6h-1.6zM589.5 287h1.6v1.6h-1.6zM625.5 290.5h1.6v1.6h-1.6zM617.5 298h1.6v1.6h-1.6zM621 252.5h1.6v1.6h-1.6zM607.5 278.5h1.6v1.6h-1.6zM593.5 303.5h1.6v1.6h-1.6zM639.5 324h1.6v1.6h-1.6zM625 254.5h1.6v1.6h-1.6zM630.5 252.5h1.6v1.6h-1.6zM624 236.5h1.6v1.6h-1.6zM650 303.5h1.6v1.6h-1.6zM590 276h1.6v1.6h-1.6zM610 301.5h1.6v1.6h-1.6zM634.5 293h1.6v1.6h-1.6zM651 276.5h1.6v1.6h-1.6zM631.5 246.5h1.6v1.6h-1.6zM622 259h1.6v1.6h-1.6zM628.5 269.5h1.6v1.6h-1.6zM606 325.5h1.6v1.6h-1.6zM621.5 323h1.6v1.6h-1.6zM653.5 279.5h1.6v1.6h-1.6zM638.5 283.5h1.6v1.6h-1.6zM604 215h1.6v1.6h-1.6zM615 279h1.6v1.6h-1.6zM598 297.5h1.6v1.6h-1.6zM605 297h1.6v1.6h-1.6zM637 263h1.6v1.6h-1.6zM640.5 243h1.6v1.6h-1.6zM642 243.5h1.6v1.6h-1.6zM629 246h1.6v1.6h-1.6zM630.5 273h1.6v1.6h-1.6zM640 267h1.6v1.6h-1.6zM627 279.5h1.6v1.6h-1.6zM636.5 241h1.6v1.6h-1.6zM601.5 310.5h1.6v1.6h-1.6zM607 222.5h1.6v1.6h-1.6zM645.5 304h1.6v1.6h-1.6zM609.5 278h1.6v1.6h-1.6zM634 314h1.6v1.6h-1.6zM618 273h1.6v1.6h-1.6zM611.5 306.5h1.6v1.6h-1.6zM590 325h1.6v1.6h-1.6zM652.5 267.5h1.6v1.6h-1.6zM638.5 238h1.6v1.6h-1.6zM600 319.5h1.6v1.6h-1.6zM638 277h1.6v1.6h-1.6zM636 233.5h1.6v1.6h-1.6zM616.5 253h1.6v1.6h-1.6zM638 276h1.6v1.6h-1.6zM605 267h1.6v1.6h-1.6zM593 273h1.6v1.6h-1.6zM625.5 232h1.6v1.6h-1.6zM650.5 255.5h1.6v1.6h-1.6zM605 343h1.6v1.6h-1.6zM602.5 323.5h1.6v1.6h-1.6zM593 305h1.6v1.6h-1.6zM619 278.5h1.6v1.6h-1.6zM635 213h1.6v1.6h-1.6zM602.5 254.5h1.6v1.6h-1.6zM609 264.5h1.6v1.6h-1.6zM602.5 311.5h1.6v1.6h-1.6zM603.5 284.5h1.6v1.6h-1.6zM605 258.5h1.6v1.6h-1.6zM635 256.5h1.6v1.6h-1.6zM643.5 235.5h1.6v1.6h-1.6zM622.5 332h1.6v1.6h-1.6zM610 237.5h1.6v1.6h-1.6zM620 269h1.6v1.6h-1.6zM591 247h1.6v1.6h-1.6zM602 300h1.6v1.6h-1.6zM599.5 293.5h1.6v1.6h-1.6zM595.5 304h1.6v1.6h-1.6zM619.5 306.5h1.6v1.6h-1.6zM610.5 297.5h1.6v1.6h-1.6zM643 264h1.6v1.6h-1.6zM645.5 228h1.6v1.6h-1.6zM625 251.5h1.6v1.6h-1.6zM624.5 263.5h1.6v1.6h-1.6zM638.5 260h1.6v1.6h-1.6zM598 306h1.6v1.6h-1.6zM642 294.5h1.6v1.6h-1.6zM610 246h1.6v1.6h-1.6zM655 324.5h1.6v1.6h-1.6zM619 302.5h1.6v1.6h-1.6zM631.5 313h1.6v1.6h-1.6zM651.5 256h1.6v1.6h-1.6zM591.5 324h1.6v1.6h-1.6zM603 266.5h1.6v1.6h-1.6zM618.5 325.5h1.6v1.6h-1.6zM603 288h1.6v1.6h-1.6zM626.5 267.5h1.6v1.6h-1.6zM625.5 209h1.6v1.6h-1.6zM597 266h1.6v1.6h-1.6zM618.5 247.5h1.6v1.6h-1.6zM625 251h1.6v1.6h-1.6zM653.5 245h1.6v1.6h-1.6zM635 261.5h1.6v1.6h-1.6zM629 279h1.6v1.6h-1.6zM637 276h1.6v1.6h-1.6zM627.5 278h1.6v1.6h-1.6zM629 244h1.6v1.6h-1.6zM624.5 261h1.6v1.6h-1.6zM624.5 313h1.6v1.6h-1.6zM619.5 280.5h1.6v1.6h-1.6zM594.5 253h1.6v1.6h-1.6zM611 271h1.6v1.6h-1.6zM596.5 330.5h1.6v1.6h-1.6zM628 296h1.6v1.6h-1.6zM639.5 237.5h1.6v1.6h-1.6zM618.5 267h1.6v1.6h-1.6zM643.5 284.5h1.6v1.6h-1.6zM648.5 267h1.6v1.6h-1.6zM628.5 266h1.6v1.6h-1.6zM648.5 323.5h1.6v1.6h-1.6zM623 289h1.6v1.6h-1.6zM636 319.5h1.6v1.6h-1.6zM589.5 291h1.6v1.6h-1.6zM639 295h1.6v1.6h-1.6zM596.5 252h1.6v1.6h-1.6zM635 210h1.6v1.6h-1.6zM646.5 221h1.6v1.6h-1.6zM612.5 322h1.6v1.6h-1.6zM630.5 314h1.6v1.6h-1.6zM641 297h1.6v1.6h-1.6zM594.5 293.5h1.6v1.6h-1.6zM628 265h1.6v1.6h-1.6zM600 292.5h1.6v1.6h-1.6zM604 298.5h1.6v1.6h-1.6zM601.5 294.5h1.6v1.6h-1.6zM606.5 249h1.6v1.6h-1.6zM645.5 223h1.6v1.6h-1.6zM611.5 310.5h1.6v1.6h-1.6zM617 292h1.6v1.6h-1.6zM624.5 326h1.6v1.6h-1.6zM650 275h1.6v1.6h-1.6zM603.5 315h1.6v1.6h-1.6zM650 266.5h1.6v1.6h-1.6zM656 262h1.6v1.6h-1.6zM592.5 247.5h1.6v1.6h-1.6zM627 280h1.6v1.6h-1.6zM617.5 257.5h1.6v1.6h-1.6zM645 304.5h1.6v1.6h-1.6zM604.5 220h1.6v1.6h-1.6zM611 246.5h1.6v1.6h-1.6zM642 261.5h1.6v1.6h-1.6zM600 237.5h1.6v1.6h-1.6zM624.5 301.5h1.6v1.6h-1.6zM645 222.5h1.6v1.6h-1.6zM622 240.5h1.6v1.6h-1.6zM636 296.5h1.6v1.6h-1.6zM649 264h1.6v1.6h-1.6zM626 242.5h1.6v1.6h-1.6zM629 292h1.6v1.6h-1.6zM631 278h1.6v1.6h-1.6zM625 256.5h1.6v1.6h-1.6zM612.5 250.5h1.6v1.6h-1.6zM616.5 255.5h1.6v1.6h-1.6zM636 231h1.6v1.6h-1.6zM607 206.5h1.6v1.6h-1.6zM641 252.5h1.6v1.6h-1.6zM595.5 269.5h1.6v1.6h-1.6zM618 307.5h1.6v1.6h-1.6zM631 264.5h1.6v1.6h-1.6zM622.5 312.5h1.6v1.6h-1.6zM604.5 280.5h1.6v1.6h-1.6zM610 249.5h1.6v1.6h-1.6zM606 255.5h1.6v1.6h-1.6zM616.5 306.5h1.6v1.6h-1.6zM634.5 263h1.6v1.6h-1.6zM614 270h1.6v1.6h-1.6zM610.5 300.5h1.6v1.6h-1.6zM637.5 288h1.6v1.6h-1.6zM644.5 219.5h1.6v1.6h-1.6zM636.5 301h1.6v1.6h-1.6zM633 238h1.6v1.6h-1.6zM620 218.5h1.6v1.6h-1.6zM618 255.5h1.6v1.6h-1.6zM613 250h1.6v1.6h-1.6zM590.5 289h1.6v1.6h-1.6zM640 233.5h1.6v1.6h-1.6zM635 247h1.6v1.6h-1.6zM609.5 319.5h1.6v1.6h-1.6zM632.5 218h1.6v1.6h-1.6zM646 260.5h1.6v1.6h-1.6zM602 297.5h1.6v1.6h-1.6zM605.5 310.5h1.6v1.6h-1.6zM642 276h1.6v1.6h-1.6zM643.5 284.5h1.6v1.6h-1.6zM629 230h1.6v1.6h-1.6zM651.5 280.5h1.6v1.6h-1.6zM613.5 232.5h1.6v1.6h-1.6zM626.5 280h1.6v1.6h-1.6zM637 281.5h1.6v1.6h-1.6zM604 277.5h1.6v1.6h-1.6zM619 314.5h1.6v1.6h-1.6zM636.5 240h1.6v1.6h-1.6zM592.5 258h1.6v1.6h-1.6zM644.5 289h1.6v1.6h-1.6zM644 225.5h1.6v1.6h-1.6zM614 304h1.6v1.6h-1.6zM593.5 238.5h1.6v1.6h-1.6zM625 247h1.6v1.6h-1.6zM625.5 257.5h1.6v1.6h-1.6zM600.5 281.5h1.6v1.6h-1.6zM634.5 300.5h1.6v1.6h-1.6zM619 264h1.6v1.6h-1.6zM629 222h1.6v1.6h-1.6zM616 247.5h1.6v1.6h-1.6zM609.5 249.5h1.6v1.6h-1.6zM593.5 297.5h1.6v1.6h-1.6zM633 274h1.6v1.6h-1.6zM615 250h1.6v1.6h-1.6zM640.5 263.5h1.6v1.6h-1.6zM605.5 241h1.6v1.6h-1.6zM634.5 244h1.6v1.6h-1.6zM613 259.5h1.6v1.6h-1.6zM606 288.5h1.6v1.6h-1.6zM620.5 241h1.6v1.6h-1.6zM646 268h1.6v1.6h-1.6zM622 333.5h1.6v1.6h-1.6zM590 298.5h1.6v1.6h-1.6zM652.5 263.5h1.6v1.6h-1.6zM652.5 214.5h1.6v1.6h-1.6zM614.5 287h1.6v1.6h-1.6zM653 287.5h1.6v1.6h-1.6zM603 234.5h1.6v1.6h-1.6zM632 242h1.6v1.6h-1.6zM647 251h1.6v1.6h-1.6zM634.5 287h1.6v1.6h-1.6zM653.5 223h1.6v1.6h-1.6zM611.5 241h1.6v1.6h-1.6zM615 266.5h1.6v1.6h-1.6zM614 272h1.6v1.6h-1.6zM639 252.5h1.6v1.6h-1.6zM651 246h1.6v1.6h-1.6zM639 257h1.6v1.6h-1.6zM623 271.5h1.6v1.6h-1.6zM638 244.5h1.6v1.6h-1.6zM600 296.5h1.6v1.6h-1.6zM649.5 278h1.6v1.6h-1.6zM656 212h1.6v1.6h-1.6zM631.5 252h1.6v1.6h-1.6zM637 261.5h1.6v1.6h-1.6zM623.5 232h1.6v1.6h-1.6zM653 252h1.6v1.6h-1.6zM636.5 313h1.6v1.6h-1.6zM628.5 249.5h1.6v1.6h-1.6zM624 327h1.6v1.6h-1.6zM651.5 232.5h1.6v1.6h-1.6zM633.5 298.5h1.6v1.6h-1.6zM624 257.5h1.6v1.6h-1.6zM621.5 228.5h1.6v1.6h-1.6zM615 247.5h1.6v1.6h-1.6zM639 233h1.6v1.6h-1.6zM600.5 340h1.6v1.6h-1.6zM639.5 340.5h1.6v1.6h-1.6zM632.5 360.5h1.6v1.6h-1.6zM614 348.5h1.6v1.6h-1.6zM631.5 349.5h1.6v1.6h-1.6zM644 345.5h1.6v1.6h-1.6zM631.5 348h1.6v1.6h-1.6zM611.5 339h1.6v1.6h-1.6zM603.5 349.5h1.6v1.6h-1.6zM618 338h1.6v1.6h-1.6zM625 345h1.6v1.6h-1.6zM605.5 345h1.6v1.6h-1.6zM608 346h1.6v1.6h-1.6zM620.5 347.5h1.6v1.6h-1.6zM633 340.5h1.6v1.6h-1.6zM601 341h1.6v1.6h-1.6zM628 350h1.6v1.6h-1.6zM599 344.5h1.6v1.6h-1.6zM641.5 342.5h1.6v1.6h-1.6zM633.5 338.5h1.6v1.6h-1.6zM626.5 339.5h1.6v1.6h-1.6zM610.5 349.5h1.6v1.6h-1.6zM606.5 338.5h1.6v1.6h-1.6zM597.5 338h1.6v1.6h-1.6zM650.5 345.5h1.6v1.6h-1.6zM604.5 347h1.6v1.6h-1.6zM630 345.5h1.6v1.6h-1.6zM601.5 345.5h1.6v1.6h-1.6zM596.5 150h1.6v1.6h-1.6zM633.5 201.5h1.6v1.6h-1.6zM649.4 375.8h1.6v1.6h-1.6zM639 364h1.6v1.6h-1.6zM591.7 358.7h1.6v1.6h-1.6zM600 206h1.6v1.6h-1.6zM598 212h1.6v1.6h-1.6z" fill="#1212f2"/>
<path d="M624.5 306h1.6v1.6h-1.6zM607.5 290.5h1.6v1.6h-1.6zM608.5 328.5h1.6v1.6h-1.6zM632 290h1.6v1.6h-1.6zM641.5 281h1.6v1.6h-1.6zM600.5 299.5h1.6v1.6h-1.6zM607.5 277.5h1.6v1.6h-1.6zM642 252h1.6v1.6h-1.6zM600.5 319h1.6v1.6h-1.6zM604 303h1.6v1.6h-1.6zM616.5 256.5h1.6v1.6h-1.6zM616 291h1.6v1.6h-1.6zM650 247.5h1.6v1.6h-1.6zM603.5 298.5h1.6v1.6h-1.6zM615.5 333.5h1.6v1.6h-1.6zM607 270h1.6v1.6h-1.6zM638 296.5h1.6v1.6h-1.6zM612 250h1.6v1.6h-1.6zM614 266.5h1.6v1.6h-1.6zM628.5 256h1.6v1.6h-1.6zM649.5 233.5h1.6v1.6h-1.6zM636.5 296h1.6v1.6h-1.6zM601 229h1.6v1.6h-1.6zM620.5 227h1.6v1.6h-1.6zM616 308.5h1.6v1.6h-1.6zM620 243h1.6v1.6h-1.6zM618.5 270h1.6v1.6h-1.6zM636 281h1.6v1.6h-1.6zM637 274h1.6v1.6h-1.6zM640.5 252.5h1.6v1.6h-1.6zM648 285.5h1.6v1.6h-1.6zM616.5 286h1.6v1.6h-1.6zM654 277h1.6v1.6h-1.6zM621 288h1.6v1.6h-1.6zM629.5 230h1.6v1.6h-1.6zM615 246h1.6v1.6h-1.6zM617.5 272h1.6v1.6h-1.6zM608 248h1.6v1.6h-1.6zM606.5 254h1.6v1.6h-1.6zM630 274.5h1.6v1.6h-1.6zM598 282.5h1.6v1.6h-1.6zM619.5 264.5h1.6v1.6h-1.6zM634.5 311.5h1.6v1.6h-1.6zM627 287h1.6v1.6h-1.6zM633.5 254h1.6v1.6h-1.6zM606.5 284h1.6v1.6h-1.6zM647 257.5h1.6v1.6h-1.6zM635.5 249h1.6v1.6h-1.6zM640.5 322.5h1.6v1.6h-1.6zM620 243.5h1.6v1.6h-1.6zM611.5 264.5h1.6v1.6h-1.6zM597 267h1.6v1.6h-1.6zM651 245h1.6v1.6h-1.6zM608.5 282h1.6v1.6h-1.6zM643 262h1.6v1.6h-1.6zM602 330.5h1.6v1.6h-1.6zM638.5 251h1.6v1.6h-1.6zM602 293.5h1.6v1.6h-1.6zM614 315h1.6v1.6h-1.6zM617.5 277.5h1.6v1.6h-1.6zM612.5 314h1.6v1.6h-1.6zM625.5 229h1.6v1.6h-1.6zM631 259.5h1.6v1.6h-1.6zM634 261.5h1.6v1.6h-1.6zM647.5 260h1.6v1.6h-1.6zM601 265h1.6v1.6h-1.6zM647.5 270.5h1.6v1.6h-1.6zM616.5 271.5h1.6v1.6h-1.6zM631 241.5h1.6v1.6h-1.6zM605 281.5h1.6v1.6h-1.6zM619 285h1.6v1.6h-1.6zM650 304h1.6v1.6h-1.6zM629 296h1.6v1.6h-1.6zM622.5 302h1.6v1.6h-1.6zM616.5 256h1.6v1.6h-1.6zM641.5 266h1.6v1.6h-1.6zM637 273h1.6v1.6h-1.6zM608.5 271h1.6v1.6h-1.6zM630 282h1.6v1.6h-1.6zM601 294h1.6v1.6h-1.6zM629.5 291.5h1.6v1.6h-1.6zM633 296h1.6v1.6h-1.6zM607.5 304h1.6v1.6h-1.6zM644.5 253.5h1.6v1.6h-1.6zM629 293h1.6v1.6h-1.6zM644 313h1.6v1.6h-1.6zM612.5 342.5h1.6v1.6h-1.6zM600.5 251.5h1.6v1.6h-1.6zM644.5 245.5h1.6v1.6h-1.6zM621.5 258h1.6v1.6h-1.6zM608.5 242.5h1.6v1.6h-1.6zM590 304h1.6v1.6h-1.6zM648 217h1.6v1.6h-1.6zM615 216.5h1.6v1.6h-1.6zM631 269.5h1.6v1.6h-1.6zM598.5 316h1.6v1.6h-1.6zM615.5 289h1.6v1.6h-1.6zM628.5 256.5h1.6v1.6h-1.6zM648 286h1.6v1.6h-1.6zM609 270h1.6v1.6h-1.6zM604.5 303h1.6v1.6h-1.6zM618 255h1.6v1.6h-1.6zM648.5 247h1.6v1.6h-1.6zM630 218h1.6v1.6h-1.6zM605.5 260h1.6v1.6h-1.6zM591 285.5h1.6v1.6h-1.6zM645.5 277h1.6v1.6h-1.6zM614.5 221h1.6v1.6h-1.6zM636 245.5h1.6v1.6h-1.6zM635.5 331h1.6v1.6h-1.6zM612 248.5h1.6v1.6h-1.6zM635.5 284.5h1.6v1.6h-1.6zM593 299h1.6v1.6h-1.6zM622.5 282.5h1.6v1.6h-1.6zM632.5 225h1.6v1.6h-1.6zM638.5 228h1.6v1.6h-1.6zM651 249.5h1.6v1.6h-1.6zM651 237h1.6v1.6h-1.6zM640.5 280h1.6v1.6h-1.6zM609.5 264h1.6v1.6h-1.6zM622 279h1.6v1.6h-1.6zM637.5 326h1.6v1.6h-1.6zM622.5 268h1.6v1.6h-1.6zM644 262.5h1.6v1.6h-1.6zM613 288.5h1.6v1.6h-1.6zM640 247h1.6v1.6h-1.6zM645.5 295.5h1.6v1.6h-1.6zM600.5 220h1.6v1.6h-1.6zM613.5 265h1.6v1.6h-1.6zM617.5 223h1.6v1.6h-1.6zM599.5 259h1.6v1.6h-1.6zM636 266h1.6v1.6h-1.6zM637.5 310.5h1.6v1.6h-1.6zM635 298h1.6v1.6h-1.6zM603 278.5h1.6v1.6h-1.6zM652.5 304.5h1.6v1.6h-1.6zM619 280.5h1.6v1.6h-1.6zM654.5 249.5h1.6v1.6h-1.6zM592.5 299.5h1.6v1.6h-1.6zM614 264h1.6v1.6h-1.6zM628 317.5h1.6v1.6h-1.6zM655 263.5h1.6v1.6h-1.6zM631.5 280.5h1.6v1.6h-1.6zM637 259h1.6v1.6h-1.6zM612 293.5h1.6v1.6h-1.6zM630 244h1.6v1.6h-1.6zM646.5 261h1.6v1.6h-1.6zM625 222h1.6v1.6h-1.6zM649.5 232h1.6v1.6h-1.6zM594 297h1.6v1.6h-1.6zM611.5 268h1.6v1.6h-1.6zM600 245h1.6v1.6h-1.6zM647.5 246.5h1.6v1.6h-1.6zM612 273h1.6v1.6h-1.6zM601.5 272.5h1.6v1.6h-1.6zM621.5 308h1.6v1.6h-1.6zM622.5 204.5h1.6v1.6h-1.6zM652.5 206.5h1.6v1.6h-1.6zM616.5 298h1.6v1.6h-1.6zM616 261.5h1.6v1.6h-1.6zM635 258.5h1.6v1.6h-1.6zM625 266.5h1.6v1.6h-1.6zM651.5 226.5h1.6v1.6h-1.6zM602 284h1.6v1.6h-1.6zM594 310.5h1.6v1.6h-1.6zM648.5 285h1.6v1.6h-1.6zM632.5 280.5h1.6v1.6h-1.6zM611 311h1.6v1.6h-1.6zM635.5 262h1.6v1.6h-1.6zM646 226h1.6v1.6h-1.6zM639 247h1.6v1.6h-1.6zM608 260h1.6v1.6h-1.6zM634.5 253.5h1.6v1.6h-1.6zM649 207h1.6v1.6h-1.6zM653.5 262h1.6v1.6h-1.6zM614 291.5h1.6v1.6h-1.6zM649.5 241h1.6v1.6h-1.6zM623.5 314.5h1.6v1.6h-1.6zM593.5 268h1.6v1.6h-1.6zM629 282.5h1.6v1.6h-1.6zM628.5 265.5h1.6v1.6h-1.6zM621 244h1.6v1.6h-1.6zM642.5 241h1.6v1.6h-1.6zM626.5 270.5h1.6v1.6h-1.6zM649 304.5h1.6v1.6h-1.6zM641 294h1.6v1.6h-1.6zM624.5 288h1.6v1.6h-1.6zM645.5 323.5h1.6v1.6h-1.6zM645.5 258h1.6v1.6h-1.6zM597 239.5h1.6v1.6h-1.6zM610.5 272.5h1.6v1.6h-1.6zM638 256.5h1.6v1.6h-1.6zM603 274h1.6v1.6h-1.6zM606 212.5h1.6v1.6h-1.6zM638 257.5h1.6v1.6h-1.6zM630 320h1.6v1.6h-1.6zM606.5 318.5h1.6v1.6h-1.6zM606.5 274.5h1.6v1.6h-1.6zM634.5 244.5h1.6v1.6h-1.6zM616.5 213h1.6v1.6h-1.6zM642 281.5h1.6v1.6h-1.6zM650 235.5h1.6v1.6h-1.6zM640 282h1.6v1.6h-1.6zM616 244.5h1.6v1.6h-1.6zM643.5 245h1.6v1.6h-1.6zM649 241h1.6v1.6h-1.6zM609.5 321h1.6v1.6h-1.6zM611.5 278.5h1.6v1.6h-1.6zM613 246h1.6v1.6h-1.6zM593.5 239h1.6v1.6h-1.6zM653 241h1.6v1.6h-1.6zM646 327h1.6v1.6h-1.6zM619 268.5h1.6v1.6h-1.6zM625 262.5h1.6v1.6h-1.6zM627 255h1.6v1.6h-1.6zM652 251h1.6v1.6h-1.6zM620 285.5h1.6v1.6h-1.6zM626 236h1.6v1.6h-1.6zM623 285h1.6v1.6h-1.6zM633 281.5h1.6v1.6h-1.6zM651 277h1.6v1.6h-1.6zM641 266h1.6v1.6h-1.6zM632.5 262h1.6v1.6h-1.6zM600.5 308.5h1.6v1.6h-1.6zM632.5 264h1.6v1.6h-1.6zM620.5 252h1.6v1.6h-1.6zM605 292.5h1.6v1.6h-1.6zM605.5 276.5h1.6v1.6h-1.6zM628 275.5h1.6v1.6h-1.6zM629.5 232h1.6v1.6h-1.6zM623 298.5h1.6v1.6h-1.6zM625.5 296h1.6v1.6h-1.6zM636.5 310.5h1.6v1.6h-1.6zM632.5 302.5h1.6v1.6h-1.6zM617 208h1.6v1.6h-1.6zM592.5 300.5h1.6v1.6h-1.6zM611.5 338h1.6v1.6h-1.6zM593.5 261.5h1.6v1.6h-1.6zM604.5 225h1.6v1.6h-1.6zM630.5 313.5h1.6v1.6h-1.6zM648.5 291.5h1.6v1.6h-1.6zM639 264.5h1.6v1.6h-1.6zM647 290h1.6v1.6h-1.6zM639 262.5h1.6v1.6h-1.6zM646 286h1.6v1.6h-1.6zM600.5 277h1.6v1.6h-1.6zM609 270.5h1.6v1.6h-1.6zM597.5 278.5h1.6v1.6h-1.6zM616 231h1.6v1.6h-1.6zM631 235.5h1.6v1.6h-1.6zM627 244h1.6v1.6h-1.6zM613.5 252.5h1.6v1.6h-1.6zM644.5 239h1.6v1.6h-1.6zM604.5 250h1.6v1.6h-1.6zM652 249h1.6v1.6h-1.6zM623 304h1.6v1.6h-1.6zM610 276.5h1.6v1.6h-1.6zM629 309.5h1.6v1.6h-1.6zM595.5 262.5h1.6v1.6h-1.6zM600 258h1.6v1.6h-1.6zM647.5 244h1.6v1.6h-1.6zM594 287h1.6v1.6h-1.6zM651 285h1.6v1.6h-1.6zM649 281h1.6v1.6h-1.6zM653 280h1.6v1.6h-1.6zM632 325.5h1.6v1.6h-1.6zM608.5 227.5h1.6v1.6h-1.6zM623 318.5h1.6v1.6h-1.6zM645 259.5h1.6v1.6h-1.6zM640.5 257h1.6v1.6h-1.6zM640 274h1.6v1.6h-1.6zM649 259.5h1.6v1.6h-1.6zM626.5 249h1.6v1.6h-1.6zM628 275h1.6v1.6h-1.6zM629 271.5h1.6v1.6h-1.6zM598.5 285.5h1.6v1.6h-1.6zM604.5 273h1.6v1.6h-1.6zM642 244.5h1.6v1.6h-1.6zM626 249h1.6v1.6h-1.6zM624 279h1.6v1.6h-1.6zM615.5 210.5h1.6v1.6h-1.6zM642.5 229h1.6v1.6h-1.6zM641 289h1.6v1.6h-1.6zM604 309h1.6v1.6h-1.6zM615 263h1.6v1.6h-1.6zM623 261.5h1.6v1.6h-1.6zM595 292.5h1.6v1.6h-1.6zM618 274.5h1.6v1.6h-1.6zM613.5 270h1.6v1.6h-1.6zM606 311.5h1.6v1.6h-1.6zM597.5 299h1.6v1.6h-1.6zM614 254h1.6v1.6h-1.6zM604 267h1.6v1.6h-1.6zM650 291h1.6v1.6h-1.6zM638 219h1.6v1.6h-1.6zM609.5 294.5h1.6v1.6h-1.6zM647 248.5h1.6v1.6h-1.6zM613 220h1.6v1.6h-1.6zM617.5 329.5h1.6v1.6h-1.6zM590.5 233h1.6v1.6h-1.6zM621.5 300h1.6v1.6h-1.6zM604 272.5h1.6v1.6h-1.6zM632.5 258h1.6v1.6h-1.6zM601 269.5h1.6v1.6h-1.6zM597 294h1.6v1.6h-1.6zM620 219.5h1.6v1.6h-1.6zM612.5 223.5h1.6v1.6h-1.6zM611.5 252h1.6v1.6h-1.6zM611 239.5h1.6v1.6h-1.6zM616.5 325.5h1.6v1.6h-1.6zM630 245h1.6v1.6h-1.6zM630 264.5h1.6v1.6h-1.6zM632.5 251h1.6v1.6h-1.6zM630.5 284.5h1.6v1.6h-1.6zM600.5 311h1.6v1.6h-1.6zM621.5 266.5h1.6v1.6h-1.6zM649 284.5h1.6v1.6h-1.6zM612 312h1.6v1.6h-1.6zM648 274.5h1.6v1.6h-1.6zM612.5 257h1.6v1.6h-1.6zM640.5 253h1.6v1.6h-1.6zM640 258h1.6v1.6h-1.6zM640.5 274h1.6v1.6h-1.6zM639 316h1.6v1.6h-1.6zM614.5 295.5h1.6v1.6h-1.6zM643.5 254h1.6v1.6h-1.6zM636 265.5h1.6v1.6h-1.6zM599 284.5h1.6v1.6h-1.6zM617.5 253.5h1.6v1.6h-1.6zM603.5 299.5h1.6v1.6h-1.6zM589.5 332h1.6v1.6h-1.6zM609.5 259h1.6v1.6h-1.6zM617.5 292.5h1.6v1.6h-1.6zM594 264.5h1.6v1.6h-1.6zM636 244.5h1.6v1.6h-1.6zM637.5 231.5h1.6v1.6h-1.6zM624.5 299h1.6v1.6h-1.6zM638.5 257h1.6v1.6h-1.6zM640 299h1.6v1.6h-1.6zM594 279.5h1.6v1.6h-1.6zM645 263.5h1.6v1.6h-1.6zM643.5 254h1.6v1.6h-1.6zM610 280h1.6v1.6h-1.6zM618 290.5h1.6v1.6h-1.6zM621.5 293.5h1.6v1.6h-1.6zM654.5 275.5h1.6v1.6h-1.6zM611 262h1.6v1.6h-1.6zM600.5 282h1.6v1.6h-1.6zM602.5 274.5h1.6v1.6h-1.6zM608 259h1.6v1.6h-1.6zM599 274.5h1.6v1.6h-1.6zM632 227h1.6v1.6h-1.6zM632.5 294h1.6v1.6h-1.6zM639 246.5h1.6v1.6h-1.6zM652 286h1.6v1.6h-1.6zM636.5 279h1.6v1.6h-1.6zM590.5 267.5h1.6v1.6h-1.6zM630.5 317.5h1.6v1.6h-1.6zM625.5 276h1.6v1.6h-1.6zM605.5 311h1.6v1.6h-1.6zM615.5 253.5h1.6v1.6h-1.6zM611 243h1.6v1.6h-1.6zM626 272h1.6v1.6h-1.6zM636 255.5h1.6v1.6h-1.6zM593 294h1.6v1.6h-1.6zM633.5 306.5h1.6v1.6h-1.6zM619.5 288.5h1.6v1.6h-1.6zM655.5 250h1.6v1.6h-1.6zM611.5 243h1.6v1.6h-1.6zM617.5 297.5h1.6v1.6h-1.6zM612.5 267.5h1.6v1.6h-1.6zM627.5 331.5h1.6v1.6h-1.6zM642.5 225h1.6v1.6h-1.6zM621 240h1.6v1.6h-1.6zM635 311.5h1.6v1.6h-1.6zM648 296.5h1.6v1.6h-1.6zM638 305.5h1.6v1.6h-1.6zM624 331.5h1.6v1.6h-1.6zM591 301.5h1.6v1.6h-1.6zM590.5 322.5h1.6v1.6h-1.6zM650.5 268.5h1.6v1.6h-1.6zM614 307h1.6v1.6h-1.6zM606 293.5h1.6v1.6h-1.6zM600 283h1.6v1.6h-1.6zM630 273.5h1.6v1.6h-1.6zM620 254.5h1.6v1.6h-1.6zM642.5 270h1.6v1.6h-1.6zM604 323.5h1.6v1.6h-1.6zM622.5 254h1.6v1.6h-1.6zM651 296.5h1.6v1.6h-1.6zM652.5 284h1.6v1.6h-1.6zM612 247h1.6v1.6h-1.6zM600.5 266h1.6v1.6h-1.6zM599.5 272h1.6v1.6h-1.6zM607 265h1.6v1.6h-1.6zM615.5 288h1.6v1.6h-1.6zM638 322.5h1.6v1.6h-1.6zM654 272.5h1.6v1.6h-1.6zM621.5 238.5h1.6v1.6h-1.6zM610 283.5h1.6v1.6h-1.6zM624.5 291.5h1.6v1.6h-1.6zM624 291.5h1.6v1.6h-1.6zM614.5 315h1.6v1.6h-1.6zM611 303.5h1.6v1.6h-1.6zM636.5 275h1.6v1.6h-1.6zM621 300h1.6v1.6h-1.6zM620 306h1.6v1.6h-1.6zM633.5 310h1.6v1.6h-1.6zM637.5 298h1.6v1.6h-1.6zM631.5 262h1.6v1.6h-1.6zM649 235.5h1.6v1.6h-1.6zM634.5 256h1.6v1.6h-1.6zM614 305.5h1.6v1.6h-1.6zM614 273h1.6v1.6h-1.6zM656 279.5h1.6v1.6h-1.6zM611 276.5h1.6v1.6h-1.6zM604.5 260.5h1.6v1.6h-1.6zM614 262.5h1.6v1.6h-1.6zM612.5 246h1.6v1.6h-1.6zM640 275.5h1.6v1.6h-1.6zM590.5 254h1.6v1.6h-1.6zM634.5 245h1.6v1.6h-1.6zM590.5 280h1.6v1.6h-1.6zM627 271h1.6v1.6h-1.6zM642.5 289h1.6v1.6h-1.6zM632 220.5h1.6v1.6h-1.6zM629 309.5h1.6v1.6h-1.6zM614 234.5h1.6v1.6h-1.6zM648 264.5h1.6v1.6h-1.6zM604.5 215.5h1.6v1.6h-1.6zM613.5 304.5h1.6v1.6h-1.6zM625.5 227h1.6v1.6h-1.6zM637.5 317h1.6v1.6h-1.6zM600.5 307h1.6v1.6h-1.6zM621.5 265h1.6v1.6h-1.6zM617 274.5h1.6v1.6h-1.6zM630.5 229.5h1.6v1.6h-1.6zM618 268h1.6v1.6h-1.6zM627.5 288h1.6v1.6h-1.6zM602 281.5h1.6v1.6h-1.6zM625 246h1.6v1.6h-1.6zM636.5 334.5h1.6v1.6h-1.6zM645.5 293.5h1.6v1.6h-1.6zM606.5 346h1.6v1.6h-1.6zM614.5 340h1.6v1.6h-1.6zM642 340.5h1.6v1.6h-1.6zM633.5 345h1.6v1.6h-1.6zM612 351.5h1.6v1.6h-1.6zM624.5 343h1.6v1.6h-1.6zM601 346h1.6v1.6h-1.6zM628.5 352.5h1.6v1.6h-1.6zM642 349h1.6v1.6h-1.6zM613.5 338.5h1.6v1.6h-1.6zM637.5 193.5h1.6v1.6h-1.6zM602 372h1.6v1.6h-1.6z" fill="#2a2aff"/>
<path d="M637.5 265.5h1.6v1.6h-1.6zM622 294h1.6v1.6h-1.6zM612 325.5h1.6v1.6h-1.6zM623.5 297h1.6v1.6h-1.6zM627.5 279h1.6v1.6h-1.6zM623 315h1.6v1.6h-1.6zM596 270.5h1.6v1.6h-1.6zM597 321.5h1.6v1.6h-1.6zM614 254h1.6v1.6h-1.6zM635 316h1.6v1.6h-1.6zM634.5 279h1.6v1.6h-1.6zM619 252h1.6v1.6h-1.6zM626 280.5h1.6v1.6h-1.6zM626.5 268h1.6v1.6h-1.6zM613.5 304.5h1.6v1.6h-1.6zM592 264.5h1.6v1.6h-1.6zM631 301h1.6v1.6h-1.6zM629 225h1.6v1.6h-1.6zM634 340h1.6v1.6h-1.6zM591 258h1.6v1.6h-1.6zM613 253.5h1.6v1.6h-1.6zM592.5 272h1.6v1.6h-1.6zM605.5 285.5h1.6v1.6h-1.6zM611.5 261h1.6v1.6h-1.6zM611.5 234h1.6v1.6h-1.6zM627.5 272.5h1.6v1.6h-1.6zM626 206.5h1.6v1.6h-1.6zM604.5 259h1.6v1.6h-1.6zM627 284.5h1.6v1.6h-1.6zM612 291.5h1.6v1.6h-1.6zM598 294h1.6v1.6h-1.6zM619 257h1.6v1.6h-1.6zM613 297h1.6v1.6h-1.6zM606 283h1.6v1.6h-1.6zM592.5 304.5h1.6v1.6h-1.6zM633 297h1.6v1.6h-1.6zM627.5 232h1.6v1.6h-1.6zM648.5 276h1.6v1.6h-1.6zM625.5 287h1.6v1.6h-1.6zM628.5 263h1.6v1.6h-1.6zM639.5 277h1.6v1.6h-1.6zM651.5 267h1.6v1.6h-1.6zM620 235h1.6v1.6h-1.6zM625.5 266h1.6v1.6h-1.6zM633 281h1.6v1.6h-1.6zM645.5 298h1.6v1.6h-1.6zM625.5 295h1.6v1.6h-1.6zM629 263.5h1.6v1.6h-1.6zM637.5 248.5h1.6v1.6h-1.6zM621 281h1.6v1.6h-1.6zM638.5 296.5h1.6v1.6h-1.6zM636 281.5h1.6v1.6h-1.6zM637.5 258h1.6v1.6h-1.6zM646.5 273h1.6v1.6h-1.6zM609 268.5h1.6v1.6h-1.6zM621 289.5h1.6v1.6h-1.6zM627.5 280.5h1.6v1.6h-1.6zM638 256.5h1.6v1.6h-1.6zM614 279h1.6v1.6h-1.6zM628 290h1.6v1.6h-1.6zM624.5 291.5h1.6v1.6h-1.6zM622 287.5h1.6v1.6h-1.6zM620.5 255.5h1.6v1.6h-1.6zM615 266.5h1.6v1.6h-1.6zM642.5 256h1.6v1.6h-1.6zM642.5 279.5h1.6v1.6h-1.6zM628.5 236.5h1.6v1.6h-1.6zM618 289h1.6v1.6h-1.6zM628 253h1.6v1.6h-1.6zM630.5 287.5h1.6v1.6h-1.6zM618 318.5h1.6v1.6h-1.6zM631 205h1.6v1.6h-1.6zM648.5 277.5h1.6v1.6h-1.6zM645 295h1.6v1.6h-1.6zM643.5 280.5h1.6v1.6h-1.6zM616 309h1.6v1.6h-1.6zM626.5 303h1.6v1.6h-1.6zM628.5 253h1.6v1.6h-1.6zM608 293h1.6v1.6h-1.6zM633 293h1.6v1.6h-1.6zM617.5 273h1.6v1.6h-1.6zM631 229.5h1.6v1.6h-1.6zM637.5 288h1.6v1.6h-1.6zM608 289h1.6v1.6h-1.6zM592 310h1.6v1.6h-1.6zM631.5 338h1.6v1.6h-1.6zM618 285h1.6v1.6h-1.6zM597 295.5h1.6v1.6h-1.6zM647 271.5h1.6v1.6h-1.6zM636 282.5h1.6v1.6h-1.6zM639.5 255.5h1.6v1.6h-1.6zM630 266h1.6v1.6h-1.6zM626 290.5h1.6v1.6h-1.6zM633 208.5h1.6v1.6h-1.6zM609 284h1.6v1.6h-1.6zM623.5 308.5h1.6v1.6h-1.6zM611 280h1.6v1.6h-1.6zM625.5 241h1.6v1.6h-1.6zM626 330.5h1.6v1.6h-1.6zM623.5 242h1.6v1.6h-1.6zM619.5 281.5h1.6v1.6h-1.6zM607 263.5h1.6v1.6h-1.6zM625.5 268.5h1.6v1.6h-1.6zM620 240.5h1.6v1.6h-1.6zM622 289.5h1.6v1.6h-1.6zM653 244.5h1.6v1.6h-1.6zM635.5 289h1.6v1.6h-1.6zM621 294.5h1.6v1.6h-1.6zM636.5 284.5h1.6v1.6h-1.6zM622.5 285.5h1.6v1.6h-1.6zM616.5 238h1.6v1.6h-1.6zM624.5 291h1.6v1.6h-1.6zM613 282.5h1.6v1.6h-1.6zM619 302h1.6v1.6h-1.6zM625 292.5h1.6v1.6h-1.6zM626.5 281.5h1.6v1.6h-1.6zM632 292h1.6v1.6h-1.6zM648 286.5h1.6v1.6h-1.6zM605 303.5h1.6v1.6h-1.6zM617.5 276h1.6v1.6h-1.6zM628 278h1.6v1.6h-1.6zM627.5 239.5h1.6v1.6h-1.6zM646 305h1.6v1.6h-1.6zM627 280h1.6v1.6h-1.6zM634.5 261.5h1.6v1.6h-1.6zM632 263.5h1.6v1.6h-1.6zM632 259.5h1.6v1.6h-1.6zM597.5 276h1.6v1.6h-1.6zM627 228.5h1.6v1.6h-1.6zM628 294.5h1.6v1.6h-1.6zM617.5 268h1.6v1.6h-1.6zM620.5 292h1.6v1.6h-1.6zM609.5 268h1.6v1.6h-1.6zM626.5 301.5h1.6v1.6h-1.6zM644 266h1.6v1.6h-1.6zM628 272.5h1.6v1.6h-1.6zM624 287.5h1.6v1.6h-1.6zM625.5 221h1.6v1.6h-1.6zM636 296.5h1.6v1.6h-1.6zM601.5 336.5h1.6v1.6h-1.6zM620.5 299h1.6v1.6h-1.6zM626.5 251h1.6v1.6h-1.6zM619.5 305.5h1.6v1.6h-1.6zM643 283h1.6v1.6h-1.6zM622.5 299.5h1.6v1.6h-1.6zM644.5 286h1.6v1.6h-1.6zM646 265.5h1.6v1.6h-1.6zM626.5 251h1.6v1.6h-1.6zM650 261h1.6v1.6h-1.6zM635.5 262h1.6v1.6h-1.6zM643 275h1.6v1.6h-1.6zM589.5 309h1.6v1.6h-1.6zM603.5 277h1.6v1.6h-1.6zM632 260.5h1.6v1.6h-1.6zM635.5 286.5h1.6v1.6h-1.6zM621 246.5h1.6v1.6h-1.6zM615.5 285.5h1.6v1.6h-1.6zM622.5 312h1.6v1.6h-1.6zM635 310.5h1.6v1.6h-1.6zM599 284.5h1.6v1.6h-1.6zM627.5 314h1.6v1.6h-1.6zM624 283.5h1.6v1.6h-1.6zM632.5 305.5h1.6v1.6h-1.6zM615.5 276.5h1.6v1.6h-1.6zM623 336.5h1.6v1.6h-1.6zM617.5 301h1.6v1.6h-1.6zM614 246h1.6v1.6h-1.6zM609.5 314h1.6v1.6h-1.6zM632 297.5h1.6v1.6h-1.6zM634 288h1.6v1.6h-1.6zM643.5 300h1.6v1.6h-1.6zM633.5 270.5h1.6v1.6h-1.6zM622 341h1.6v1.6h-1.6zM636 349h1.6v1.6h-1.6zM626.5 344.5h1.6v1.6h-1.6zM615 339.5h1.6v1.6h-1.6zM634.5 351h1.6v1.6h-1.6zM626.5 347h1.6v1.6h-1.6z" fill="#35d6e8"/>
<path d="M605 238.5h1.6v1.6h-1.6zM627 277h1.6v1.6h-1.6zM631 251.5h1.6v1.6h-1.6zM650.5 291h1.6v1.6h-1.6zM633.5 306.5h1.6v1.6h-1.6zM628 264.5h1.6v1.6h-1.6zM639 286.5h1.6v1.6h-1.6zM633.5 227.5h1.6v1.6h-1.6zM600.5 270.5h1.6v1.6h-1.6zM605 263h1.6v1.6h-1.6zM651 254h1.6v1.6h-1.6zM642.5 280.5h1.6v1.6h-1.6zM611.5 284h1.6v1.6h-1.6zM612.5 252.5h1.6v1.6h-1.6zM622 306.5h1.6v1.6h-1.6zM617.5 278h1.6v1.6h-1.6zM613 279.5h1.6v1.6h-1.6zM610 251.5h1.6v1.6h-1.6zM630 249h1.6v1.6h-1.6zM618.5 287.5h1.6v1.6h-1.6zM606 289h1.6v1.6h-1.6zM645 238h1.6v1.6h-1.6zM623.5 293.5h1.6v1.6h-1.6zM619.5 285.5h1.6v1.6h-1.6zM626.5 243.5h1.6v1.6h-1.6zM614.5 326h1.6v1.6h-1.6zM597 257h1.6v1.6h-1.6zM608.5 238.5h1.6v1.6h-1.6zM631.5 264.5h1.6v1.6h-1.6zM640 291.5h1.6v1.6h-1.6zM614.5 302.5h1.6v1.6h-1.6zM607.5 253h1.6v1.6h-1.6zM619.5 295.5h1.6v1.6h-1.6zM620.5 262.5h1.6v1.6h-1.6zM624.5 259.5h1.6v1.6h-1.6zM625 284h1.6v1.6h-1.6zM644.5 270h1.6v1.6h-1.6zM629.5 295.5h1.6v1.6h-1.6zM602.5 264.5h1.6v1.6h-1.6zM645.5 286.5h1.6v1.6h-1.6zM615 261h1.6v1.6h-1.6zM614 316.5h1.6v1.6h-1.6zM603.5 287.5h1.6v1.6h-1.6zM625 239.5h1.6v1.6h-1.6zM612 268.5h1.6v1.6h-1.6zM620 244.5h1.6v1.6h-1.6zM612 280h1.6v1.6h-1.6zM616.5 280h1.6v1.6h-1.6zM645.5 237.5h1.6v1.6h-1.6zM636.5 292h1.6v1.6h-1.6zM620.5 250.5h1.6v1.6h-1.6zM621 269h1.6v1.6h-1.6zM643 264h1.6v1.6h-1.6zM635.5 283h1.6v1.6h-1.6zM619 291h1.6v1.6h-1.6zM618 257.5h1.6v1.6h-1.6zM647.5 281h1.6v1.6h-1.6zM610.5 279.5h1.6v1.6h-1.6zM637 319.5h1.6v1.6h-1.6zM616.5 286.5h1.6v1.6h-1.6zM639 256.5h1.6v1.6h-1.6zM634 284h1.6v1.6h-1.6zM630.5 265.5h1.6v1.6h-1.6zM611 269h1.6v1.6h-1.6zM634 263h1.6v1.6h-1.6zM625 290h1.6v1.6h-1.6zM629.5 276h1.6v1.6h-1.6zM623.5 314.5h1.6v1.6h-1.6zM619 298h1.6v1.6h-1.6zM651 283.5h1.6v1.6h-1.6zM642.5 257.5h1.6v1.6h-1.6zM638.5 264h1.6v1.6h-1.6zM621 290.5h1.6v1.6h-1.6zM635 257h1.6v1.6h-1.6zM618 299.5h1.6v1.6h-1.6zM628.5 271h1.6v1.6h-1.6zM628 271.5h1.6v1.6h-1.6zM638 259.5h1.6v1.6h-1.6zM613 295h1.6v1.6h-1.6zM631 295.5h1.6v1.6h-1.6zM614 243.5h1.6v1.6h-1.6zM623 284.5h1.6v1.6h-1.6zM635 239.5h1.6v1.6h-1.6zM651.5 266.5h1.6v1.6h-1.6zM613.5 279h1.6v1.6h-1.6zM632 265h1.6v1.6h-1.6zM625.5 300h1.6v1.6h-1.6zM626.5 269.5h1.6v1.6h-1.6zM614 300.5h1.6v1.6h-1.6zM613.5 264h1.6v1.6h-1.6zM635.5 250.5h1.6v1.6h-1.6zM615.5 243.5h1.6v1.6h-1.6zM604.5 255h1.6v1.6h-1.6zM629.5 303.5h1.6v1.6h-1.6zM638 300.5h1.6v1.6h-1.6zM630 247h1.6v1.6h-1.6zM629 326.5h1.6v1.6h-1.6zM632.5 276.5h1.6v1.6h-1.6zM622 303.5h1.6v1.6h-1.6zM627.5 313h1.6v1.6h-1.6zM626 267h1.6v1.6h-1.6zM638.5 311.5h1.6v1.6h-1.6zM639.5 237.5h1.6v1.6h-1.6zM620 262.5h1.6v1.6h-1.6zM613 306.5h1.6v1.6h-1.6zM619.5 268h1.6v1.6h-1.6zM634.5 290h1.6v1.6h-1.6zM607.5 279.5h1.6v1.6h-1.6zM601 283h1.6v1.6h-1.6zM637.5 274.5h1.6v1.6h-1.6zM622.5 308h1.6v1.6h-1.6zM617.5 288h1.6v1.6h-1.6zM623 280.5h1.6v1.6h-1.6zM633.5 234h1.6v1.6h-1.6zM615.5 292h1.6v1.6h-1.6zM604 326h1.6v1.6h-1.6zM636 269.5h1.6v1.6h-1.6zM621 259.5h1.6v1.6h-1.6zM620.5 308h1.6v1.6h-1.6zM612 252h1.6v1.6h-1.6zM611 280.5h1.6v1.6h-1.6zM627.5 243.5h1.6v1.6h-1.6zM613 279.5h1.6v1.6h-1.6zM618.5 272.5h1.6v1.6h-1.6zM613.5 211h1.6v1.6h-1.6zM624 291h1.6v1.6h-1.6zM601.5 245.5h1.6v1.6h-1.6zM612 312.5h1.6v1.6h-1.6zM641 275.5h1.6v1.6h-1.6zM611.5 313.5h1.6v1.6h-1.6zM618 275h1.6v1.6h-1.6zM641 295.5h1.6v1.6h-1.6zM628.5 294.5h1.6v1.6h-1.6zM636 295h1.6v1.6h-1.6zM603.5 257h1.6v1.6h-1.6zM607.5 328.5h1.6v1.6h-1.6zM642 253.5h1.6v1.6h-1.6zM632 250h1.6v1.6h-1.6zM634 242.5h1.6v1.6h-1.6zM628.5 283h1.6v1.6h-1.6zM609.5 266h1.6v1.6h-1.6zM613.5 288.5h1.6v1.6h-1.6zM606 311.5h1.6v1.6h-1.6zM627.5 317h1.6v1.6h-1.6zM626.5 281h1.6v1.6h-1.6zM626.5 286.5h1.6v1.6h-1.6zM633.5 272.5h1.6v1.6h-1.6zM628.5 293.5h1.6v1.6h-1.6zM633 318h1.6v1.6h-1.6zM638.5 264.5h1.6v1.6h-1.6zM610.5 284h1.6v1.6h-1.6zM639 275.5h1.6v1.6h-1.6zM639.5 276h1.6v1.6h-1.6zM625 280.5h1.6v1.6h-1.6zM634.5 266h1.6v1.6h-1.6zM632 284.5h1.6v1.6h-1.6zM621 281h1.6v1.6h-1.6zM637 292.5h1.6v1.6h-1.6zM649.5 256.5h1.6v1.6h-1.6zM624.5 275.5h1.6v1.6h-1.6zM612 269.5h1.6v1.6h-1.6zM615.5 267.5h1.6v1.6h-1.6zM625.5 305.5h1.6v1.6h-1.6zM621.5 270h1.6v1.6h-1.6zM615 298h1.6v1.6h-1.6zM629.5 276.5h1.6v1.6h-1.6zM615 248h1.6v1.6h-1.6zM629 288.5h1.6v1.6h-1.6zM620 273h1.6v1.6h-1.6zM603 240.5h1.6v1.6h-1.6zM618.5 312h1.6v1.6h-1.6zM604 260h1.6v1.6h-1.6zM628.5 287.5h1.6v1.6h-1.6zM636 244h1.6v1.6h-1.6zM599.5 278.5h1.6v1.6h-1.6zM632.5 286.5h1.6v1.6h-1.6zM607 288.5h1.6v1.6h-1.6zM630.5 286.5h1.6v1.6h-1.6zM616.5 277h1.6v1.6h-1.6zM611.5 310.5h1.6v1.6h-1.6zM610 294h1.6v1.6h-1.6zM628.5 247.5h1.6v1.6h-1.6zM624 236.5h1.6v1.6h-1.6zM627 305.5h1.6v1.6h-1.6zM642.5 293h1.6v1.6h-1.6zM622.5 294.5h1.6v1.6h-1.6zM632.5 267h1.6v1.6h-1.6zM624 286.5h1.6v1.6h-1.6zM633 273h1.6v1.6h-1.6zM623 263.5h1.6v1.6h-1.6zM617.5 312.5h1.6v1.6h-1.6zM638.5 302h1.6v1.6h-1.6zM627.5 274.5h1.6v1.6h-1.6zM626 288.5h1.6v1.6h-1.6zM637.5 273h1.6v1.6h-1.6zM632 330h1.6v1.6h-1.6zM623 274.5h1.6v1.6h-1.6zM614.5 248h1.6v1.6h-1.6zM631 284h1.6v1.6h-1.6zM614 239.5h1.6v1.6h-1.6zM634.5 290h1.6v1.6h-1.6zM611.5 281h1.6v1.6h-1.6zM630.5 268.5h1.6v1.6h-1.6zM627.5 264h1.6v1.6h-1.6zM630.5 260h1.6v1.6h-1.6zM626 292.5h1.6v1.6h-1.6zM627.5 275.5h1.6v1.6h-1.6zM613.5 259h1.6v1.6h-1.6zM638.5 314.5h1.6v1.6h-1.6zM621 254h1.6v1.6h-1.6zM612 270h1.6v1.6h-1.6zM613.5 245h1.6v1.6h-1.6zM637 270.5h1.6v1.6h-1.6zM611.5 253h1.6v1.6h-1.6zM618 255h1.6v1.6h-1.6zM628.5 250h1.6v1.6h-1.6zM635.5 246h1.6v1.6h-1.6zM624 283.5h1.6v1.6h-1.6zM610.5 279h1.6v1.6h-1.6zM621.5 307h1.6v1.6h-1.6zM610.5 271.5h1.6v1.6h-1.6zM640 273.5h1.6v1.6h-1.6zM621 321h1.6v1.6h-1.6zM620 269.5h1.6v1.6h-1.6zM617.5 275h1.6v1.6h-1.6zM630.5 278.5h1.6v1.6h-1.6zM643.5 287.5h1.6v1.6h-1.6zM603 293.5h1.6v1.6h-1.6zM619.5 289h1.6v1.6h-1.6zM609.5 280h1.6v1.6h-1.6zM601.5 267.5h1.6v1.6h-1.6zM622.5 253h1.6v1.6h-1.6zM626 291h1.6v1.6h-1.6zM636.5 268h1.6v1.6h-1.6zM613.5 275h1.6v1.6h-1.6zM625.5 297.5h1.6v1.6h-1.6zM640.5 311.5h1.6v1.6h-1.6zM629.5 250.5h1.6v1.6h-1.6zM631 347h1.6v1.6h-1.6z" fill="#36e048"/>
<path d="M618.5 303h1.6v1.6h-1.6zM633.5 281h1.6v1.6h-1.6zM627.5 274h1.6v1.6h-1.6zM609.5 295h1.6v1.6h-1.6zM624 289.5h1.6v1.6h-1.6zM616 308.5h1.6v1.6h-1.6zM621 256.5h1.6v1.6h-1.6zM624.5 243.5h1.6v1.6h-1.6zM612.5 287h1.6v1.6h-1.6zM614.5 277.5h1.6v1.6h-1.6zM630.5 278h1.6v1.6h-1.6zM622 259h1.6v1.6h-1.6zM644.5 259h1.6v1.6h-1.6zM623 270h1.6v1.6h-1.6zM641.5 287.5h1.6v1.6h-1.6zM606 272h1.6v1.6h-1.6zM644 256h1.6v1.6h-1.6zM615 311h1.6v1.6h-1.6zM604.5 268.5h1.6v1.6h-1.6zM639 233.5h1.6v1.6h-1.6zM637.5 259.5h1.6v1.6h-1.6zM635 270.5h1.6v1.6h-1.6zM653.5 278h1.6v1.6h-1.6zM628.5 253.5h1.6v1.6h-1.6zM622 306.5h1.6v1.6h-1.6zM632.5 283.5h1.6v1.6h-1.6zM644 248.5h1.6v1.6h-1.6zM612 309h1.6v1.6h-1.6zM640 286.5h1.6v1.6h-1.6zM631.5 282h1.6v1.6h-1.6zM637.5 254.5h1.6v1.6h-1.6zM599.5 292h1.6v1.6h-1.6zM644 303h1.6v1.6h-1.6zM617.5 260.5h1.6v1.6h-1.6zM600 269.5h1.6v1.6h-1.6zM621.5 265h1.6v1.6h-1.6zM624 275h1.6v1.6h-1.6zM630 294.5h1.6v1.6h-1.6zM610.5 275h1.6v1.6h-1.6zM602 281h1.6v1.6h-1.6zM613 277h1.6v1.6h-1.6zM628.5 301.5h1.6v1.6h-1.6zM594 278h1.6v1.6h-1.6zM638 277h1.6v1.6h-1.6zM625.5 302.5h1.6v1.6h-1.6zM644 289h1.6v1.6h-1.6zM618 317.5h1.6v1.6h-1.6zM613.5 287h1.6v1.6h-1.6zM628 273h1.6v1.6h-1.6zM625 264.5h1.6v1.6h-1.6zM623.5 259h1.6v1.6h-1.6zM611.5 268h1.6v1.6h-1.6zM641.5 296.5h1.6v1.6h-1.6zM610.5 326.5h1.6v1.6h-1.6zM638 276h1.6v1.6h-1.6zM625.5 259h1.6v1.6h-1.6zM619 302.5h1.6v1.6h-1.6zM616 257.5h1.6v1.6h-1.6zM645 278.5h1.6v1.6h-1.6zM606 284h1.6v1.6h-1.6zM628.5 282.5h1.6v1.6h-1.6zM615.5 258h1.6v1.6h-1.6zM599.5 272.5h1.6v1.6h-1.6zM617 273.5h1.6v1.6h-1.6zM626 250h1.6v1.6h-1.6zM629 307h1.6v1.6h-1.6zM639 273.5h1.6v1.6h-1.6zM605 282.5h1.6v1.6h-1.6zM608.5 286.5h1.6v1.6h-1.6zM624 271.5h1.6v1.6h-1.6zM604 280h1.6v1.6h-1.6zM617.5 245.5h1.6v1.6h-1.6zM625.5 318h1.6v1.6h-1.6zM639 268h1.6v1.6h-1.6zM604 337h1.6v1.6h-1.6zM624.5 288h1.6v1.6h-1.6zM624.5 281.5h1.6v1.6h-1.6zM634 317.5h1.6v1.6h-1.6zM630 268.5h1.6v1.6h-1.6zM611 304.5h1.6v1.6h-1.6zM617 296.5h1.6v1.6h-1.6zM619 263.5h1.6v1.6h-1.6zM629.5 300h1.6v1.6h-1.6zM633 292h1.6v1.6h-1.6zM606 266h1.6v1.6h-1.6zM613.5 324.5h1.6v1.6h-1.6zM642 270h1.6v1.6h-1.6zM624.5 268h1.6v1.6h-1.6zM648.5 265h1.6v1.6h-1.6zM615 242h1.6v1.6h-1.6zM627 291h1.6v1.6h-1.6zM643 247.5h1.6v1.6h-1.6zM608 239h1.6v1.6h-1.6zM624.5 281h1.6v1.6h-1.6zM626.5 266h1.6v1.6h-1.6zM618 259.5h1.6v1.6h-1.6zM620 267h1.6v1.6h-1.6zM633.5 228h1.6v1.6h-1.6zM647.5 285.5h1.6v1.6h-1.6zM622 307h1.6v1.6h-1.6zM629.5 221.5h1.6v1.6h-1.6zM638 292h1.6v1.6h-1.6zM610.5 234.5h1.6v1.6h-1.6zM630.5 314h1.6v1.6h-1.6zM618.5 283.5h1.6v1.6h-1.6zM620.5 310.5h1.6v1.6h-1.6zM607.5 289h1.6v1.6h-1.6zM644.5 264h1.6v1.6h-1.6zM626.5 296.5h1.6v1.6h-1.6zM617.5 278.5h1.6v1.6h-1.6zM619 280h1.6v1.6h-1.6zM625 306.5h1.6v1.6h-1.6zM637 277h1.6v1.6h-1.6zM605 254.5h1.6v1.6h-1.6zM617.5 269h1.6v1.6h-1.6zM602 262h1.6v1.6h-1.6zM589 273.5h1.6v1.6h-1.6zM616.5 324h1.6v1.6h-1.6zM620 271.5h1.6v1.6h-1.6zM617 267.5h1.6v1.6h-1.6zM622 265h1.6v1.6h-1.6zM631.5 266.5h1.6v1.6h-1.6zM624.5 264.5h1.6v1.6h-1.6zM617.5 292.5h1.6v1.6h-1.6zM629 303.5h1.6v1.6h-1.6zM630.5 300.5h1.6v1.6h-1.6zM628.5 282.5h1.6v1.6h-1.6zM605 258h1.6v1.6h-1.6zM608 249.5h1.6v1.6h-1.6zM609 276.5h1.6v1.6h-1.6zM641.5 291.5h1.6v1.6h-1.6zM622.5 249h1.6v1.6h-1.6zM609.5 282h1.6v1.6h-1.6zM621.5 263h1.6v1.6h-1.6zM626 256h1.6v1.6h-1.6zM643.5 300.5h1.6v1.6h-1.6zM602.5 278h1.6v1.6h-1.6zM610.5 264.5h1.6v1.6h-1.6zM616 249h1.6v1.6h-1.6zM608 261.5h1.6v1.6h-1.6zM633.5 276.5h1.6v1.6h-1.6zM611.5 256h1.6v1.6h-1.6zM620 270h1.6v1.6h-1.6zM627 279h1.6v1.6h-1.6zM641.5 260h1.6v1.6h-1.6zM638.5 289.5h1.6v1.6h-1.6zM613 301h1.6v1.6h-1.6zM620.5 285h1.6v1.6h-1.6zM624 309h1.6v1.6h-1.6z" fill="#7df060"/>
<path d="M632 271h1.6v1.6h-1.6zM634 280h1.6v1.6h-1.6zM622.5 301h1.6v1.6h-1.6zM601.5 280h1.6v1.6h-1.6zM636 229h1.6v1.6h-1.6zM626.5 269.5h1.6v1.6h-1.6zM625 253h1.6v1.6h-1.6zM614.5 299h1.6v1.6h-1.6zM628 300.5h1.6v1.6h-1.6zM632.5 275h1.6v1.6h-1.6zM601.5 274h1.6v1.6h-1.6zM626 284h1.6v1.6h-1.6zM638.5 252.5h1.6v1.6h-1.6zM622 270h1.6v1.6h-1.6zM606.5 289h1.6v1.6h-1.6zM605 262h1.6v1.6h-1.6zM628 280.5h1.6v1.6h-1.6zM618 238h1.6v1.6h-1.6zM624 246.5h1.6v1.6h-1.6zM635 251.5h1.6v1.6h-1.6zM626.5 288.5h1.6v1.6h-1.6zM625.5 268.5h1.6v1.6h-1.6zM619.5 278.5h1.6v1.6h-1.6zM626 269h1.6v1.6h-1.6zM624 265h1.6v1.6h-1.6zM634.5 285.5h1.6v1.6h-1.6zM617.5 243h1.6v1.6h-1.6zM627.5 260h1.6v1.6h-1.6zM628.5 296h1.6v1.6h-1.6z" fill="#f0e020"/>
<path d="M618 254h1.6v1.6h-1.6zM631 306.5h1.6v1.6h-1.6zM625.5 267h1.6v1.6h-1.6zM631.5 284.5h1.6v1.6h-1.6zM621.5 253h1.6v1.6h-1.6zM622.5 242h1.6v1.6h-1.6zM628 264h1.6v1.6h-1.6zM624 300.5h1.6v1.6h-1.6zM620.5 288.5h1.6v1.6h-1.6zM628 273.5h1.6v1.6h-1.6zM616 309.5h1.6v1.6h-1.6zM618.5 265h1.6v1.6h-1.6zM620.5 281h1.6v1.6h-1.6zM626 286.5h1.6v1.6h-1.6zM622.5 305.5h1.6v1.6h-1.6zM616 265.5h1.6v1.6h-1.6zM613 267h1.6v1.6h-1.6zM620.5 298h1.6v1.6h-1.6zM619 314.5h1.6v1.6h-1.6z" fill="#f59a1e"/>
<path d="M623 280h1.6v1.6h-1.6zM629.5 264.5h1.6v1.6h-1.6zM630.5 270h1.6v1.6h-1.6zM623 294h1.6v1.6h-1.6zM621.5 279.5h1.6v1.6h-1.6zM637 292h1.6v1.6h-1.6zM610.5 278h1.6v1.6h-1.6zM623.5 277.5h1.6v1.6h-1.6zM619.5 284h1.6v1.6h-1.6zM616 274.5h1.6v1.6h-1.6zM628 274h1.6v1.6h-1.6zM624 252.5h1.6v1.6h-1.6zM637 288h1.6v1.6h-1.6zM615 253.5h1.6v1.6h-1.6zM611.5 270.5h1.6v1.6h-1.6zM629 296h1.6v1.6h-1.6zM623.5 294.5h1.6v1.6h-1.6zM625.5 324.5h1.6v1.6h-1.6zM627 272h1.6v1.6h-1.6zM625 303.5h1.6v1.6h-1.6zM630.5 301h1.6v1.6h-1.6zM631.5 280h1.6v1.6h-1.6zM625.5 282.5h1.6v1.6h-1.6zM620 267h1.6v1.6h-1.6zM631 268h1.6v1.6h-1.6zM627 286h1.6v1.6h-1.6z" fill="#ee2a1a"/>
<path d="M1052 319h1.6v1.6h-1.6zM1027.5 342.5h1.6v1.6h-1.6zM1040 300h1.6v1.6h-1.6zM995.5 316h1.6v1.6h-1.6zM1040.5 300.5h1.6v1.6h-1.6zM976.5 307.5h1.6v1.6h-1.6zM998 303h1.6v1.6h-1.6zM1005 320h1.6v1.6h-1.6zM1001.5 320h1.6v1.6h-1.6zM994 292.5h1.6v1.6h-1.6zM1029 318.5h1.6v1.6h-1.6zM987.5 309h1.6v1.6h-1.6zM1042.5 304.5h1.6v1.6h-1.6zM1046.5 317.5h1.6v1.6h-1.6zM982.5 320.5h1.6v1.6h-1.6zM994 315h1.6v1.6h-1.6zM1034 321.5h1.6v1.6h-1.6zM1008 327h1.6v1.6h-1.6zM1020 330h1.6v1.6h-1.6zM1041.5 314h1.6v1.6h-1.6zM1029.5 329h1.6v1.6h-1.6zM1011.5 323.5h1.6v1.6h-1.6zM1002 327h1.6v1.6h-1.6zM1045.5 321h1.6v1.6h-1.6zM1050.5 317h1.6v1.6h-1.6zM1033 334h1.6v1.6h-1.6zM1004.5 319h1.6v1.6h-1.6zM1038.5 311h1.6v1.6h-1.6zM1021 308.5h1.6v1.6h-1.6zM993 319.5h1.6v1.6h-1.6zM1046.5 317h1.6v1.6h-1.6zM1020 341h1.6v1.6h-1.6zM1053 322h1.6v1.6h-1.6zM1001.5 295h1.6v1.6h-1.6zM994 339.5h1.6v1.6h-1.6zM1044 304.5h1.6v1.6h-1.6zM1016.5 336h1.6v1.6h-1.6zM1015 309h1.6v1.6h-1.6zM999.5 321h1.6v1.6h-1.6zM1054.5 317.5h1.6v1.6h-1.6zM1020 331h1.6v1.6h-1.6zM1030 335h1.6v1.6h-1.6zM1031.5 306h1.6v1.6h-1.6zM1052 318h1.6v1.6h-1.6zM1018 312.5h1.6v1.6h-1.6zM993.5 331.5h1.6v1.6h-1.6zM1007 306.5h1.6v1.6h-1.6zM1039 307.5h1.6v1.6h-1.6zM1035 331h1.6v1.6h-1.6zM1011 312.5h1.6v1.6h-1.6zM1035 322h1.6v1.6h-1.6zM1009 326.5h1.6v1.6h-1.6zM1041 312h1.6v1.6h-1.6zM1041 318h1.6v1.6h-1.6zM992.5 314.5h1.6v1.6h-1.6zM1051 298h1.6v1.6h-1.6zM1011 335h1.6v1.6h-1.6zM1017.5 323h1.6v1.6h-1.6zM1041.5 322.5h1.6v1.6h-1.6zM1027.5 304h1.6v1.6h-1.6zM1025 326.5h1.6v1.6h-1.6zM1044.5 313.5h1.6v1.6h-1.6zM1005 314.5h1.6v1.6h-1.6zM1052 301.5h1.6v1.6h-1.6zM981 318h1.6v1.6h-1.6zM1053 317h1.6v1.6h-1.6zM1045 312h1.6v1.6h-1.6zM994 318.5h1.6v1.6h-1.6zM1034.5 301h1.6v1.6h-1.6zM982 331h1.6v1.6h-1.6zM1013.5 316h1.6v1.6h-1.6zM1004 316.5h1.6v1.6h-1.6zM1044.5 330.5h1.6v1.6h-1.6zM1007 318h1.6v1.6h-1.6zM982 319h1.6v1.6h-1.6zM1039 311h1.6v1.6h-1.6zM1010 335h1.6v1.6h-1.6zM984.5 313.5h1.6v1.6h-1.6zM997.5 317.5h1.6v1.6h-1.6zM1018.5 322.5h1.6v1.6h-1.6zM1029 322h1.6v1.6h-1.6zM1056 334h1.6v1.6h-1.6zM1043 328.5h1.6v1.6h-1.6zM1007.5 314.5h1.6v1.6h-1.6zM999 326h1.6v1.6h-1.6zM990 314.5h1.6v1.6h-1.6zM996.5 322h1.6v1.6h-1.6zM980 313.5h1.6v1.6h-1.6zM1052 329h1.6v1.6h-1.6zM1018 299h1.6v1.6h-1.6zM998.5 312.5h1.6v1.6h-1.6zM1038.5 329h1.6v1.6h-1.6zM1057 312.5h1.6v1.6h-1.6zM1011 305h1.6v1.6h-1.6zM1043 299.5h1.6v1.6h-1.6zM1036.5 315.5h1.6v1.6h-1.6zM1045 315.5h1.6v1.6h-1.6zM982 318.5h1.6v1.6h-1.6zM986.5 301h1.6v1.6h-1.6zM1036.5 327h1.6v1.6h-1.6zM1003.5 308h1.6v1.6h-1.6zM996 320h1.6v1.6h-1.6zM1016.5 326.5h1.6v1.6h-1.6zM1033 308.5h1.6v1.6h-1.6zM1040.5 303h1.6v1.6h-1.6zM1043 306.5h1.6v1.6h-1.6zM1003.5 324h1.6v1.6h-1.6zM1004 334.5h1.6v1.6h-1.6zM1027.5 309.5h1.6v1.6h-1.6zM1012.5 331.5h1.6v1.6h-1.6zM1014.5 311h1.6v1.6h-1.6zM1005 319.5h1.6v1.6h-1.6zM1029.5 322h1.6v1.6h-1.6zM998.5 306.5h1.6v1.6h-1.6zM995.5 333.5h1.6v1.6h-1.6zM1052 302.5h1.6v1.6h-1.6zM1003.5 327h1.6v1.6h-1.6zM996 311h1.6v1.6h-1.6zM1010.5 316h1.6v1.6h-1.6zM1015.5 336h1.6v1.6h-1.6zM1004.5 302.5h1.6v1.6h-1.6zM1025.5 330h1.6v1.6h-1.6zM1039.5 308h1.6v1.6h-1.6zM1037 300h1.6v1.6h-1.6zM1057 337h1.6v1.6h-1.6zM1021.5 315h1.6v1.6h-1.6zM1023.5 313.5h1.6v1.6h-1.6zM1021.5 328h1.6v1.6h-1.6zM1012 311h1.6v1.6h-1.6zM1053.5 298h1.6v1.6h-1.6zM1023.5 327.5h1.6v1.6h-1.6zM1015 324.5h1.6v1.6h-1.6zM1032.5 297h1.6v1.6h-1.6zM1008.5 317.5h1.6v1.6h-1.6zM999 315.5h1.6v1.6h-1.6zM1039 303.5h1.6v1.6h-1.6zM1046.5 314.5h1.6v1.6h-1.6zM1011 300.5h1.6v1.6h-1.6zM976.5 314h1.6v1.6h-1.6zM1052 304h1.6v1.6h-1.6zM1057 320h1.6v1.6h-1.6zM989.5 327.5h1.6v1.6h-1.6zM1000 321.5h1.6v1.6h-1.6zM1043.5 328h1.6v1.6h-1.6zM994.5 304.5h1.6v1.6h-1.6zM1040.5 329.5h1.6v1.6h-1.6zM1029.5 313.5h1.6v1.6h-1.6zM1050.5 307h1.6v1.6h-1.6zM1045 325.5h1.6v1.6h-1.6zM1021 305.5h1.6v1.6h-1.6zM998 327.5h1.6v1.6h-1.6zM1003 312.5h1.6v1.6h-1.6zM1003.5 318.5h1.6v1.6h-1.6zM1020.5 293.5h1.6v1.6h-1.6zM985 323h1.6v1.6h-1.6zM1045 331.5h1.6v1.6h-1.6zM1002 331h1.6v1.6h-1.6zM1001 322.5h1.6v1.6h-1.6zM1018.5 325.5h1.6v1.6h-1.6zM1044.5 311.5h1.6v1.6h-1.6zM1005.5 328h1.6v1.6h-1.6zM985 317.5h1.6v1.6h-1.6zM1010 317.5h1.6v1.6h-1.6zM1019 317.5h1.6v1.6h-1.6zM1012.5 320h1.6v1.6h-1.6zM1001.5 319.5h1.6v1.6h-1.6zM1041.5 322.5h1.6v1.6h-1.6zM1019.5 327h1.6v1.6h-1.6zM1042.5 317.5h1.6v1.6h-1.6zM1028.5 304.5h1.6v1.6h-1.6zM1025 310h1.6v1.6h-1.6zM1017.5 314.5h1.6v1.6h-1.6zM977 313.5h1.6v1.6h-1.6zM1001.5 320h1.6v1.6h-1.6zM1005 316h1.6v1.6h-1.6zM1028.5 307h1.6v1.6h-1.6zM1024 305h1.6v1.6h-1.6zM1045 304.5h1.6v1.6h-1.6zM1012.5 316.5h1.6v1.6h-1.6zM1030.5 309h1.6v1.6h-1.6zM1035.5 306.5h1.6v1.6h-1.6zM1023.5 301.5h1.6v1.6h-1.6zM1027 331.5h1.6v1.6h-1.6zM1000.5 318h1.6v1.6h-1.6zM1027 291.5h1.6v1.6h-1.6zM1050 298h1.6v1.6h-1.6zM976 318h1.6v1.6h-1.6zM1034 320.5h1.6v1.6h-1.6zM1014.5 314.5h1.6v1.6h-1.6zM1043 311.5h1.6v1.6h-1.6zM996.5 340h1.6v1.6h-1.6zM1000 333h1.6v1.6h-1.6zM1033.5 298.5h1.6v1.6h-1.6zM1031.5 308.5h1.6v1.6h-1.6zM1012 332h1.6v1.6h-1.6zM1007.5 313.5h1.6v1.6h-1.6zM1048 325.5h1.6v1.6h-1.6zM1018.5 332h1.6v1.6h-1.6zM1011 310.5h1.6v1.6h-1.6zM1029.5 311h1.6v1.6h-1.6zM1003.5 301h1.6v1.6h-1.6zM987.5 306h1.6v1.6h-1.6zM1032.5 326.5h1.6v1.6h-1.6zM1013 325h1.6v1.6h-1.6zM1041 320.5h1.6v1.6h-1.6zM1024.5 309.5h1.6v1.6h-1.6zM1034.5 325.5h1.6v1.6h-1.6zM1048.5 320h1.6v1.6h-1.6zM1046 328.5h1.6v1.6h-1.6zM1013 327h1.6v1.6h-1.6zM976.5 300h1.6v1.6h-1.6zM1052 318.5h1.6v1.6h-1.6zM1022.5 335h1.6v1.6h-1.6zM1016.5 314.5h1.6v1.6h-1.6zM1043 327.5h1.6v1.6h-1.6zM1032 306h1.6v1.6h-1.6zM1015 329h1.6v1.6h-1.6zM1014 306.5h1.6v1.6h-1.6zM1035.5 313h1.6v1.6h-1.6zM1013 319h1.6v1.6h-1.6zM974 325.5h1.6v1.6h-1.6zM1055.5 302h1.6v1.6h-1.6zM1037 309h1.6v1.6h-1.6zM1025.5 308.5h1.6v1.6h-1.6zM1025.5 312.5h1.6v1.6h-1.6zM1003.5 315h1.6v1.6h-1.6zM990 318.5h1.6v1.6h-1.6zM1004 313h1.6v1.6h-1.6zM1016 306h1.6v1.6h-1.6zM1018 330h1.6v1.6h-1.6zM1036.5 320.5h1.6v1.6h-1.6zM1000.5 317.5h1.6v1.6h-1.6zM1039 308.5h1.6v1.6h-1.6zM1035.5 308.5h1.6v1.6h-1.6zM1015.5 303.5h1.6v1.6h-1.6zM998.5 319h1.6v1.6h-1.6zM1001.5 326h1.6v1.6h-1.6zM1032.5 328h1.6v1.6h-1.6zM1004 315h1.6v1.6h-1.6zM1017.5 313.5h1.6v1.6h-1.6zM1043 314h1.6v1.6h-1.6zM1020.5 302.5h1.6v1.6h-1.6zM1009.5 318.5h1.6v1.6h-1.6zM1032.5 335.5h1.6v1.6h-1.6zM1006.5 320h1.6v1.6h-1.6zM1021 305.5h1.6v1.6h-1.6zM1007 331h1.6v1.6h-1.6zM1016.5 327h1.6v1.6h-1.6zM993 325h1.6v1.6h-1.6zM1034.5 307h1.6v1.6h-1.6zM1007 319.5h1.6v1.6h-1.6zM984 324h1.6v1.6h-1.6zM1015 311h1.6v1.6h-1.6zM1021 334.5h1.6v1.6h-1.6zM1006.5 315.5h1.6v1.6h-1.6zM1016 309.5h1.6v1.6h-1.6zM1005 321.5h1.6v1.6h-1.6zM1039 305h1.6v1.6h-1.6zM1037 313.5h1.6v1.6h-1.6zM1022 322h1.6v1.6h-1.6zM1014 319h1.6v1.6h-1.6zM1019 329.5h1.6v1.6h-1.6zM1034.5 302.5h1.6v1.6h-1.6zM1041 342h1.6v1.6h-1.6zM1051.5 320h1.6v1.6h-1.6zM988 326.5h1.6v1.6h-1.6zM1002 321.5h1.6v1.6h-1.6zM1048.5 307.5h1.6v1.6h-1.6zM1020 313.5h1.6v1.6h-1.6zM1041 318.5h1.6v1.6h-1.6zM1003 328h1.6v1.6h-1.6zM1035 314h1.6v1.6h-1.6zM1003 313.5h1.6v1.6h-1.6zM1031.5 299h1.6v1.6h-1.6zM998.5 320.5h1.6v1.6h-1.6zM1042 322.5h1.6v1.6h-1.6zM1015.5 317h1.6v1.6h-1.6zM1036.5 339.5h1.6v1.6h-1.6zM1039.5 314h1.6v1.6h-1.6zM1041.5 327h1.6v1.6h-1.6zM998.5 320.5h1.6v1.6h-1.6zM1003 318h1.6v1.6h-1.6zM1011 328.5h1.6v1.6h-1.6zM1036.5 324h1.6v1.6h-1.6zM1044.5 324h1.6v1.6h-1.6zM1041 299.5h1.6v1.6h-1.6zM1042.5 310.5h1.6v1.6h-1.6zM1025.5 319h1.6v1.6h-1.6zM1019.5 328.5h1.6v1.6h-1.6zM1008 306h1.6v1.6h-1.6zM1012.5 308h1.6v1.6h-1.6zM1035.5 330h1.6v1.6h-1.6zM1027 303.5h1.6v1.6h-1.6zM1039 320.5h1.6v1.6h-1.6zM1024 302.5h1.6v1.6h-1.6zM1039 332h1.6v1.6h-1.6zM1036.5 305h1.6v1.6h-1.6zM1014 326.5h1.6v1.6h-1.6zM1025.5 305.5h1.6v1.6h-1.6zM1013.5 321.5h1.6v1.6h-1.6zM1019.5 305.5h1.6v1.6h-1.6zM1046 336h1.6v1.6h-1.6zM1007.5 332.5h1.6v1.6h-1.6zM1014 310h1.6v1.6h-1.6zM1027 317.5h1.6v1.6h-1.6zM1045.5 305.5h1.6v1.6h-1.6zM1005 320h1.6v1.6h-1.6zM1050.5 318.5h1.6v1.6h-1.6zM1015 322.5h1.6v1.6h-1.6zM1018 306.5h1.6v1.6h-1.6zM980.5 319h1.6v1.6h-1.6zM1034 315h1.6v1.6h-1.6zM1052.5 305.5h1.6v1.6h-1.6zM1036.5 312.5h1.6v1.6h-1.6zM1020.5 306h1.6v1.6h-1.6zM1047 310h1.6v1.6h-1.6zM1025.5 325.5h1.6v1.6h-1.6zM1006 319h1.6v1.6h-1.6zM994 316h1.6v1.6h-1.6zM998 326h1.6v1.6h-1.6zM1044.5 308h1.6v1.6h-1.6zM1012 324.5h1.6v1.6h-1.6zM1045 325h1.6v1.6h-1.6zM1025.5 303.5h1.6v1.6h-1.6zM1033 313.5h1.6v1.6h-1.6zM990 318.5h1.6v1.6h-1.6zM988 323h1.6v1.6h-1.6zM1054.5 319.5h1.6v1.6h-1.6zM1018.5 300h1.6v1.6h-1.6zM1006 331h1.6v1.6h-1.6zM1030 330.5h1.6v1.6h-1.6zM1023.5 326.5h1.6v1.6h-1.6zM1040 321.5h1.6v1.6h-1.6zM1033.5 308.5h1.6v1.6h-1.6zM1037 319.5h1.6v1.6h-1.6zM1022.5 333h1.6v1.6h-1.6zM989.5 301.5h1.6v1.6h-1.6zM1048 322h1.6v1.6h-1.6zM1033.5 325.5h1.6v1.6h-1.6zM1008.5 316.5h1.6v1.6h-1.6zM1001.5 336.5h1.6v1.6h-1.6zM1009 306.5h1.6v1.6h-1.6zM1049.5 308h1.6v1.6h-1.6zM1015 310h1.6v1.6h-1.6zM1051.5 321h1.6v1.6h-1.6zM1039 301h1.6v1.6h-1.6zM999 324.5h1.6v1.6h-1.6zM1045.5 333h1.6v1.6h-1.6zM998 314h1.6v1.6h-1.6zM1012 325.5h1.6v1.6h-1.6zM1024 312h1.6v1.6h-1.6zM1051 323.5h1.6v1.6h-1.6zM991.5 326.5h1.6v1.6h-1.6zM1035 316h1.6v1.6h-1.6zM1023.5 334.5h1.6v1.6h-1.6zM992.5 317h1.6v1.6h-1.6zM1024 315.5h1.6v1.6h-1.6zM1008.5 341.5h1.6v1.6h-1.6zM974 318h1.6v1.6h-1.6zM1017 304.5h1.6v1.6h-1.6zM1003.5 318.5h1.6v1.6h-1.6zM1027 320.5h1.6v1.6h-1.6zM993.5 322h1.6v1.6h-1.6zM1004.5 314.5h1.6v1.6h-1.6zM1032 294h1.6v1.6h-1.6zM1006.5 324h1.6v1.6h-1.6zM980.5 334h1.6v1.6h-1.6zM1028 310h1.6v1.6h-1.6zM1023.5 307h1.6v1.6h-1.6zM1046 315h1.6v1.6h-1.6zM1028.5 307h1.6v1.6h-1.6zM977 318h1.6v1.6h-1.6zM1011 335.5h1.6v1.6h-1.6zM1042 318.5h1.6v1.6h-1.6zM1008 321h1.6v1.6h-1.6zM1025 316h1.6v1.6h-1.6zM1009 310h1.6v1.6h-1.6zM1026 330h1.6v1.6h-1.6zM1009.5 315.5h1.6v1.6h-1.6zM1015 317.5h1.6v1.6h-1.6zM1003 312h1.6v1.6h-1.6zM999 300.5h1.6v1.6h-1.6zM1031.5 332h1.6v1.6h-1.6zM1038 316h1.6v1.6h-1.6zM1025 328.5h1.6v1.6h-1.6zM1012 314.5h1.6v1.6h-1.6zM1028 324h1.6v1.6h-1.6zM998 309.5h1.6v1.6h-1.6zM997.5 328.5h1.6v1.6h-1.6zM985.5 301h1.6v1.6h-1.6zM977 318h1.6v1.6h-1.6zM1006.5 325.5h1.6v1.6h-1.6zM1003.5 315.5h1.6v1.6h-1.6zM1016.5 321.5h1.6v1.6h-1.6zM999.5 316.5h1.6v1.6h-1.6zM1054 320h1.6v1.6h-1.6zM1014.5 335h1.6v1.6h-1.6zM1017.5 314.5h1.6v1.6h-1.6zM1019 326.5h1.6v1.6h-1.6zM1039.5 319h1.6v1.6h-1.6zM1037.5 331.5h1.6v1.6h-1.6zM1044 336h1.6v1.6h-1.6zM997 308.5h1.6v1.6h-1.6zM999.5 317h1.6v1.6h-1.6zM997 325h1.6v1.6h-1.6zM983 309h1.6v1.6h-1.6zM989 314.5h1.6v1.6h-1.6zM1023.5 303h1.6v1.6h-1.6zM1021 331h1.6v1.6h-1.6zM1009 307.5h1.6v1.6h-1.6zM1040.5 318.5h1.6v1.6h-1.6zM1025 305h1.6v1.6h-1.6zM1056 318h1.6v1.6h-1.6zM993.5 318h1.6v1.6h-1.6zM1009 307h1.6v1.6h-1.6zM1042 297.5h1.6v1.6h-1.6zM1055 314.5h1.6v1.6h-1.6zM1056.5 322.5h1.6v1.6h-1.6zM1023 299h1.6v1.6h-1.6zM999 317h1.6v1.6h-1.6zM1033.5 309.5h1.6v1.6h-1.6zM1044.5 329h1.6v1.6h-1.6zM1003.5 308h1.6v1.6h-1.6zM1012.5 318.5h1.6v1.6h-1.6zM1007 311h1.6v1.6h-1.6zM1029 323.5h1.6v1.6h-1.6zM1052 326.5h1.6v1.6h-1.6zM1005.5 327h1.6v1.6h-1.6zM1016.5 320.5h1.6v1.6h-1.6zM1046.5 326h1.6v1.6h-1.6zM1041.5 301h1.6v1.6h-1.6zM1045.5 317h1.6v1.6h-1.6zM1053.5 309h1.6v1.6h-1.6zM1044 286.5h1.6v1.6h-1.6zM1042.5 287h1.6v1.6h-1.6zM1029.5 277.5h1.6v1.6h-1.6zM1057.5 288.5h1.6v1.6h-1.6zM1054.5 284h1.6v1.6h-1.6zM1030 254h1.6v1.6h-1.6zM1032.5 286h1.6v1.6h-1.6zM1046 290h1.6v1.6h-1.6zM1032.5 291h1.6v1.6h-1.6zM1052 275h1.6v1.6h-1.6zM1032.5 275h1.6v1.6h-1.6zM1023 277h1.6v1.6h-1.6zM1058 256h1.6v1.6h-1.6zM1019.5 260h1.6v1.6h-1.6zM1033 279h1.6v1.6h-1.6zM1040 287.5h1.6v1.6h-1.6zM1022 277.5h1.6v1.6h-1.6zM1034.5 251h1.6v1.6h-1.6zM1060 288h1.6v1.6h-1.6zM1029 281.5h1.6v1.6h-1.6zM1034.5 279.5h1.6v1.6h-1.6zM995 269h1.6v1.6h-1.6zM1048 288h1.6v1.6h-1.6zM1057.5 291.5h1.6v1.6h-1.6zM1036 287h1.6v1.6h-1.6zM1031 291.5h1.6v1.6h-1.6zM1034.5 278.5h1.6v1.6h-1.6zM1028 251h1.6v1.6h-1.6zM1035 286h1.6v1.6h-1.6zM1037 283.5h1.6v1.6h-1.6zM1020.5 250h1.6v1.6h-1.6zM1037 279h1.6v1.6h-1.6zM1043 246.5h1.6v1.6h-1.6zM1016.5 282h1.6v1.6h-1.6zM1040 285.5h1.6v1.6h-1.6zM1058 284h1.6v1.6h-1.6zM1029.5 285h1.6v1.6h-1.6zM1030 281h1.6v1.6h-1.6zM1041.5 285h1.6v1.6h-1.6zM1011 285h1.6v1.6h-1.6zM1053.5 279.5h1.6v1.6h-1.6zM1034 287.5h1.6v1.6h-1.6zM1024 236h1.6v1.6h-1.6zM981 257.5h1.6v1.6h-1.6zM1001 256.5h1.6v1.6h-1.6zM1059 251h1.6v1.6h-1.6zM1055 366h1.6v1.6h-1.6zM1006 260.5h1.6v1.6h-1.6zM1059 260.5h1.6v1.6h-1.6zM1044 238h1.6v1.6h-1.6z" fill="#1212f2"/>
<path d="M1002 311.5h1.6v1.6h-1.6zM1011.5 311.5h1.6v1.6h-1.6zM992 316.5h1.6v1.6h-1.6zM996.5 330.5h1.6v1.6h-1.6zM1024.5 304.5h1.6v1.6h-1.6zM1013 314h1.6v1.6h-1.6zM1005.5 317.5h1.6v1.6h-1.6zM1017 307.5h1.6v1.6h-1.6zM984.5 311.5h1.6v1.6h-1.6zM1000 305.5h1.6v1.6h-1.6zM1010 328h1.6v1.6h-1.6zM1026.5 319.5h1.6v1.6h-1.6zM978.5 319.5h1.6v1.6h-1.6zM1045 324.5h1.6v1.6h-1.6zM1039 302.5h1.6v1.6h-1.6zM1004.5 303h1.6v1.6h-1.6zM1019.5 303.5h1.6v1.6h-1.6zM1009 320.5h1.6v1.6h-1.6zM1036 332.5h1.6v1.6h-1.6zM1019.5 314h1.6v1.6h-1.6zM1000.5 307.5h1.6v1.6h-1.6zM1029 328h1.6v1.6h-1.6zM1012.5 304.5h1.6v1.6h-1.6zM1017 299.5h1.6v1.6h-1.6zM1019 311h1.6v1.6h-1.6zM1009.5 321h1.6v1.6h-1.6zM1012 325h1.6v1.6h-1.6zM1034.5 329.5h1.6v1.6h-1.6zM1007.5 316h1.6v1.6h-1.6zM995.5 325.5h1.6v1.6h-1.6zM1014.5 312h1.6v1.6h-1.6zM985 323.5h1.6v1.6h-1.6zM1017 301.5h1.6v1.6h-1.6zM1003.5 329h1.6v1.6h-1.6zM1028 333.5h1.6v1.6h-1.6zM1003.5 306.5h1.6v1.6h-1.6zM1003.5 319.5h1.6v1.6h-1.6zM1044.5 317.5h1.6v1.6h-1.6zM994.5 316.5h1.6v1.6h-1.6zM1045.5 316.5h1.6v1.6h-1.6zM982 316.5h1.6v1.6h-1.6zM1031.5 307h1.6v1.6h-1.6zM1034.5 316.5h1.6v1.6h-1.6zM986 304h1.6v1.6h-1.6zM989 318h1.6v1.6h-1.6zM1026 315h1.6v1.6h-1.6zM1051 333h1.6v1.6h-1.6zM998.5 332.5h1.6v1.6h-1.6zM1031.5 309h1.6v1.6h-1.6zM1009 313h1.6v1.6h-1.6zM1029.5 339.5h1.6v1.6h-1.6zM1021.5 305h1.6v1.6h-1.6zM1005 322.5h1.6v1.6h-1.6zM1026.5 308.5h1.6v1.6h-1.6zM1054 325h1.6v1.6h-1.6zM1022 322h1.6v1.6h-1.6zM1000.5 318.5h1.6v1.6h-1.6zM1014.5 311h1.6v1.6h-1.6zM987.5 305.5h1.6v1.6h-1.6zM1028.5 314h1.6v1.6h-1.6zM1008 326h1.6v1.6h-1.6zM987.5 303.5h1.6v1.6h-1.6zM1039.5 305.5h1.6v1.6h-1.6zM1032.5 311h1.6v1.6h-1.6zM995.5 314h1.6v1.6h-1.6zM999 305.5h1.6v1.6h-1.6zM1001 319.5h1.6v1.6h-1.6zM1012.5 319.5h1.6v1.6h-1.6zM1039 308.5h1.6v1.6h-1.6zM1005 323h1.6v1.6h-1.6zM1002.5 327.5h1.6v1.6h-1.6zM1019 321h1.6v1.6h-1.6zM1028 318.5h1.6v1.6h-1.6zM1029 330.5h1.6v1.6h-1.6zM1008 313.5h1.6v1.6h-1.6zM995 317h1.6v1.6h-1.6zM1003.5 314h1.6v1.6h-1.6zM1023.5 292.5h1.6v1.6h-1.6zM1002 318h1.6v1.6h-1.6zM994.5 326.5h1.6v1.6h-1.6zM1046 317h1.6v1.6h-1.6zM1011 324.5h1.6v1.6h-1.6zM1017 299h1.6v1.6h-1.6zM1025.5 304h1.6v1.6h-1.6zM1033 308h1.6v1.6h-1.6zM1015 298h1.6v1.6h-1.6zM1014 323h1.6v1.6h-1.6zM1042 307.5h1.6v1.6h-1.6zM993.5 307.5h1.6v1.6h-1.6zM1011 332h1.6v1.6h-1.6zM1013.5 329h1.6v1.6h-1.6zM1034.5 303h1.6v1.6h-1.6zM989 319h1.6v1.6h-1.6zM1040 333h1.6v1.6h-1.6zM1036.5 311.5h1.6v1.6h-1.6zM994.5 319h1.6v1.6h-1.6zM1012.5 341h1.6v1.6h-1.6zM1017.5 331.5h1.6v1.6h-1.6zM1010 314.5h1.6v1.6h-1.6zM988 307h1.6v1.6h-1.6zM1013.5 312h1.6v1.6h-1.6zM987.5 311.5h1.6v1.6h-1.6zM1030.5 325h1.6v1.6h-1.6zM1007.5 330.5h1.6v1.6h-1.6zM1003 325h1.6v1.6h-1.6zM1005.5 320h1.6v1.6h-1.6zM1025.5 323.5h1.6v1.6h-1.6zM1046 316h1.6v1.6h-1.6zM988 315h1.6v1.6h-1.6zM1036 333h1.6v1.6h-1.6zM991 306h1.6v1.6h-1.6zM1001.5 331.5h1.6v1.6h-1.6zM1028.5 306.5h1.6v1.6h-1.6zM1015.5 306.5h1.6v1.6h-1.6zM1042.5 319h1.6v1.6h-1.6zM1034 318h1.6v1.6h-1.6zM1054 317h1.6v1.6h-1.6zM1029 317h1.6v1.6h-1.6zM1035.5 312.5h1.6v1.6h-1.6zM1030 326h1.6v1.6h-1.6zM1007.5 319.5h1.6v1.6h-1.6zM1042 306.5h1.6v1.6h-1.6zM1040.5 311h1.6v1.6h-1.6zM1019.5 309.5h1.6v1.6h-1.6zM1045 313.5h1.6v1.6h-1.6zM1013 304.5h1.6v1.6h-1.6zM1013 333h1.6v1.6h-1.6zM1024.5 306.5h1.6v1.6h-1.6zM1001.5 306h1.6v1.6h-1.6zM1005.5 322.5h1.6v1.6h-1.6zM1045 316.5h1.6v1.6h-1.6zM996 327h1.6v1.6h-1.6zM1034 305h1.6v1.6h-1.6zM1017.5 311.5h1.6v1.6h-1.6zM1053 320.5h1.6v1.6h-1.6zM1021.5 310h1.6v1.6h-1.6zM1005.5 339h1.6v1.6h-1.6zM1031.5 323.5h1.6v1.6h-1.6zM1038 315h1.6v1.6h-1.6zM1041.5 322.5h1.6v1.6h-1.6zM1000.5 334h1.6v1.6h-1.6zM999.5 304.5h1.6v1.6h-1.6zM987.5 338.5h1.6v1.6h-1.6zM1004.5 311h1.6v1.6h-1.6zM1006.5 322h1.6v1.6h-1.6zM1038 323h1.6v1.6h-1.6zM1045 305h1.6v1.6h-1.6zM1021 321h1.6v1.6h-1.6zM1003.5 315h1.6v1.6h-1.6zM1004 326.5h1.6v1.6h-1.6zM1011 317.5h1.6v1.6h-1.6zM1036.5 319h1.6v1.6h-1.6zM1013.5 310h1.6v1.6h-1.6zM1023 300.5h1.6v1.6h-1.6zM1005 326h1.6v1.6h-1.6zM1025.5 309h1.6v1.6h-1.6zM1052.5 309.5h1.6v1.6h-1.6zM1001 309.5h1.6v1.6h-1.6zM1039 318h1.6v1.6h-1.6zM1023 322.5h1.6v1.6h-1.6zM1012 310h1.6v1.6h-1.6zM1045.5 325h1.6v1.6h-1.6zM1043 306h1.6v1.6h-1.6zM1025 327h1.6v1.6h-1.6zM1023 325.5h1.6v1.6h-1.6zM998 325h1.6v1.6h-1.6zM1034 322h1.6v1.6h-1.6zM1002 328.5h1.6v1.6h-1.6zM1047.5 319.5h1.6v1.6h-1.6zM1014 325h1.6v1.6h-1.6zM1036.5 297h1.6v1.6h-1.6zM1057 326.5h1.6v1.6h-1.6zM1013 336.5h1.6v1.6h-1.6zM1023.5 325.5h1.6v1.6h-1.6zM1005 325h1.6v1.6h-1.6zM1028.5 322h1.6v1.6h-1.6zM1002 303h1.6v1.6h-1.6zM1007.5 333.5h1.6v1.6h-1.6zM999 315h1.6v1.6h-1.6zM1008.5 302h1.6v1.6h-1.6zM1045.5 315.5h1.6v1.6h-1.6zM1029 311.5h1.6v1.6h-1.6zM1003.5 300.5h1.6v1.6h-1.6zM1030 336.5h1.6v1.6h-1.6zM1016.5 303h1.6v1.6h-1.6zM994.5 326h1.6v1.6h-1.6zM1007.5 307.5h1.6v1.6h-1.6zM1019 311h1.6v1.6h-1.6zM996 315h1.6v1.6h-1.6zM1011.5 327h1.6v1.6h-1.6zM1002 299.5h1.6v1.6h-1.6zM990 323h1.6v1.6h-1.6zM1042.5 325h1.6v1.6h-1.6zM1026.5 307h1.6v1.6h-1.6zM1019.5 322.5h1.6v1.6h-1.6zM1013.5 310.5h1.6v1.6h-1.6zM998 319.5h1.6v1.6h-1.6zM1026.5 310.5h1.6v1.6h-1.6zM1028 320h1.6v1.6h-1.6zM1010.5 319.5h1.6v1.6h-1.6zM995.5 324.5h1.6v1.6h-1.6zM1006 305.5h1.6v1.6h-1.6zM1041.5 313h1.6v1.6h-1.6zM1034 327h1.6v1.6h-1.6zM1017.5 305h1.6v1.6h-1.6zM1009.5 327h1.6v1.6h-1.6zM993.5 322.5h1.6v1.6h-1.6zM1011 313h1.6v1.6h-1.6zM1007.5 318h1.6v1.6h-1.6zM1018 301h1.6v1.6h-1.6zM1035 321h1.6v1.6h-1.6zM1036.5 316.5h1.6v1.6h-1.6zM1002.5 325h1.6v1.6h-1.6zM1016 329h1.6v1.6h-1.6zM1023 343h1.6v1.6h-1.6zM1037 340h1.6v1.6h-1.6zM1035 299.5h1.6v1.6h-1.6zM1049 317.5h1.6v1.6h-1.6zM976 299h1.6v1.6h-1.6zM1003 298.5h1.6v1.6h-1.6zM995.5 323h1.6v1.6h-1.6zM1036 308h1.6v1.6h-1.6zM1057 313.5h1.6v1.6h-1.6zM1013.5 302.5h1.6v1.6h-1.6zM1047 315.5h1.6v1.6h-1.6zM1034.5 298.5h1.6v1.6h-1.6zM1003.5 325h1.6v1.6h-1.6zM1016.5 342h1.6v1.6h-1.6zM1031 307.5h1.6v1.6h-1.6zM1054.5 311h1.6v1.6h-1.6zM1051 320.5h1.6v1.6h-1.6zM1056 326.5h1.6v1.6h-1.6zM981.5 315h1.6v1.6h-1.6zM1052.5 334.5h1.6v1.6h-1.6zM1052.5 315.5h1.6v1.6h-1.6zM1007.5 314.5h1.6v1.6h-1.6zM1005 321.5h1.6v1.6h-1.6zM1030 319.5h1.6v1.6h-1.6zM1008 319h1.6v1.6h-1.6zM1021 330h1.6v1.6h-1.6zM1006.5 325h1.6v1.6h-1.6zM982.5 307.5h1.6v1.6h-1.6zM1041 327.5h1.6v1.6h-1.6zM1022 300h1.6v1.6h-1.6zM1013.5 329h1.6v1.6h-1.6zM1052.5 308.5h1.6v1.6h-1.6zM1041 331.5h1.6v1.6h-1.6zM1033 326h1.6v1.6h-1.6zM1003.5 311h1.6v1.6h-1.6zM983.5 322h1.6v1.6h-1.6zM1034 307h1.6v1.6h-1.6zM1037 318.5h1.6v1.6h-1.6zM1015 324h1.6v1.6h-1.6zM1054 277h1.6v1.6h-1.6zM1016 289.5h1.6v1.6h-1.6zM1023 274h1.6v1.6h-1.6zM1024.5 252h1.6v1.6h-1.6zM1025 269.5h1.6v1.6h-1.6zM1047 281h1.6v1.6h-1.6zM1051.5 285.5h1.6v1.6h-1.6zM1034 284.5h1.6v1.6h-1.6zM1038.5 273h1.6v1.6h-1.6zM1050 279.5h1.6v1.6h-1.6zM1022 289.5h1.6v1.6h-1.6zM1048.5 272.5h1.6v1.6h-1.6zM1032 244.5h1.6v1.6h-1.6zM1054 283.5h1.6v1.6h-1.6zM1036 282.5h1.6v1.6h-1.6zM1051.5 268.5h1.6v1.6h-1.6zM1037.5 284h1.6v1.6h-1.6zM995 288.5h1.6v1.6h-1.6zM1038.5 189.5h1.6v1.6h-1.6zM1036 222h1.6v1.6h-1.6zM1016.5 263h1.6v1.6h-1.6zM1050 247.5h1.6v1.6h-1.6z" fill="#2a2aff"/>
<path d="M1023 307.5h1.6v1.6h-1.6zM1033.5 310.5h1.6v1.6h-1.6zM1044 325h1.6v1.6h-1.6zM1002 309h1.6v1.6h-1.6zM1011 321h1.6v1.6h-1.6zM1027 313h1.6v1.6h-1.6zM1030 320.5h1.6v1.6h-1.6zM1020 329h1.6v1.6h-1.6zM1033.5 315.5h1.6v1.6h-1.6zM1030 320h1.6v1.6h-1.6zM1018.5 318h1.6v1.6h-1.6zM1009.5 317.5h1.6v1.6h-1.6zM1012.5 329.5h1.6v1.6h-1.6zM1027.5 303.5h1.6v1.6h-1.6zM1047 316h1.6v1.6h-1.6zM1035 316h1.6v1.6h-1.6zM1010 312h1.6v1.6h-1.6zM1016.5 321h1.6v1.6h-1.6zM1013 313h1.6v1.6h-1.6zM1045 315.5h1.6v1.6h-1.6zM1014.5 317h1.6v1.6h-1.6zM1028 306.5h1.6v1.6h-1.6zM1037 314h1.6v1.6h-1.6zM1041.5 322h1.6v1.6h-1.6zM1013.5 324h1.6v1.6h-1.6zM1007 316.5h1.6v1.6h-1.6zM1009.5 322.5h1.6v1.6h-1.6zM1012.5 315.5h1.6v1.6h-1.6zM1035 316h1.6v1.6h-1.6zM1036.5 328h1.6v1.6h-1.6zM1027 311h1.6v1.6h-1.6zM1027 316.5h1.6v1.6h-1.6zM1008.5 328.5h1.6v1.6h-1.6zM1007 313.5h1.6v1.6h-1.6zM1011.5 318.5h1.6v1.6h-1.6zM1001.5 310.5h1.6v1.6h-1.6zM1015.5 311h1.6v1.6h-1.6zM1020 319.5h1.6v1.6h-1.6zM1029 312.5h1.6v1.6h-1.6zM1020.5 309.5h1.6v1.6h-1.6zM1011 319.5h1.6v1.6h-1.6zM1029.5 314h1.6v1.6h-1.6zM1013 322h1.6v1.6h-1.6zM1017 319h1.6v1.6h-1.6zM1033 319h1.6v1.6h-1.6zM1040 318h1.6v1.6h-1.6zM1038 315.5h1.6v1.6h-1.6zM1015.5 314.5h1.6v1.6h-1.6zM1046.5 319.5h1.6v1.6h-1.6zM1027.5 308.5h1.6v1.6h-1.6zM1021.5 312h1.6v1.6h-1.6zM1031 318h1.6v1.6h-1.6zM1016 320h1.6v1.6h-1.6zM1027 318h1.6v1.6h-1.6zM1011.5 313.5h1.6v1.6h-1.6zM1034 336.5h1.6v1.6h-1.6zM1020 307h1.6v1.6h-1.6zM1006.5 321h1.6v1.6h-1.6zM1010.5 319.5h1.6v1.6h-1.6zM1020 322h1.6v1.6h-1.6zM1033 322.5h1.6v1.6h-1.6zM1023.5 319h1.6v1.6h-1.6zM1028 316.5h1.6v1.6h-1.6zM1017.5 316.5h1.6v1.6h-1.6zM1016.5 317h1.6v1.6h-1.6zM1029.5 320h1.6v1.6h-1.6zM1029 320h1.6v1.6h-1.6zM1044.5 320.5h1.6v1.6h-1.6z" fill="#35d6e8"/>
<path d="M1035.5 311.5h1.6v1.6h-1.6zM1029.5 320.5h1.6v1.6h-1.6zM1018 322.5h1.6v1.6h-1.6zM1035.5 312.5h1.6v1.6h-1.6zM1037 324.5h1.6v1.6h-1.6zM1026.5 322h1.6v1.6h-1.6zM1028.5 319.5h1.6v1.6h-1.6zM1024.5 312h1.6v1.6h-1.6zM1022 317h1.6v1.6h-1.6zM1011 314h1.6v1.6h-1.6zM1024.5 324.5h1.6v1.6h-1.6zM1011 319h1.6v1.6h-1.6zM999 312h1.6v1.6h-1.6zM1016.5 311.5h1.6v1.6h-1.6zM1003.5 321h1.6v1.6h-1.6zM1017 313.5h1.6v1.6h-1.6zM1026 309h1.6v1.6h-1.6zM1026.5 317.5h1.6v1.6h-1.6zM1009 317h1.6v1.6h-1.6zM1050.5 324.5h1.6v1.6h-1.6zM1024 330h1.6v1.6h-1.6zM1037.5 322.5h1.6v1.6h-1.6zM1008 317h1.6v1.6h-1.6zM1013.5 307h1.6v1.6h-1.6zM994.5 318h1.6v1.6h-1.6zM1028 327h1.6v1.6h-1.6zM1022.5 312h1.6v1.6h-1.6zM1041 330h1.6v1.6h-1.6zM1041.5 320h1.6v1.6h-1.6zM1028.5 317h1.6v1.6h-1.6zM1033.5 306h1.6v1.6h-1.6zM1013 306.5h1.6v1.6h-1.6zM1032.5 325.5h1.6v1.6h-1.6zM1035.5 317.5h1.6v1.6h-1.6zM1023.5 311h1.6v1.6h-1.6zM1017.5 313.5h1.6v1.6h-1.6zM1028 314h1.6v1.6h-1.6zM1013 324.5h1.6v1.6h-1.6zM1036.5 320.5h1.6v1.6h-1.6zM1017.5 313h1.6v1.6h-1.6zM1007.5 324h1.6v1.6h-1.6zM1036 319h1.6v1.6h-1.6zM1039.5 324h1.6v1.6h-1.6zM1019.5 309.5h1.6v1.6h-1.6zM1014.5 314h1.6v1.6h-1.6zM1025.5 325.5h1.6v1.6h-1.6zM1036 313h1.6v1.6h-1.6zM1012.5 322h1.6v1.6h-1.6zM1023.5 321.5h1.6v1.6h-1.6zM1025.5 312.5h1.6v1.6h-1.6zM1029 311h1.6v1.6h-1.6zM1045.5 313.5h1.6v1.6h-1.6zM1016.5 321h1.6v1.6h-1.6zM1029 328.5h1.6v1.6h-1.6zM1022 326.5h1.6v1.6h-1.6zM1010.5 323.5h1.6v1.6h-1.6zM1025 326h1.6v1.6h-1.6zM1029.5 331h1.6v1.6h-1.6zM1013.5 322h1.6v1.6h-1.6zM1032 325h1.6v1.6h-1.6zM1042.5 314h1.6v1.6h-1.6zM1016.5 317h1.6v1.6h-1.6zM1032 325h1.6v1.6h-1.6zM1027 319h1.6v1.6h-1.6z" fill="#36e048"/>
<path d="M1014.5 314h1.6v1.6h-1.6zM1011.5 316h1.6v1.6h-1.6zM1028.5 323h1.6v1.6h-1.6zM1032 310.5h1.6v1.6h-1.6zM1015.5 323h1.6v1.6h-1.6zM1010.5 322.5h1.6v1.6h-1.6zM1044 313.5h1.6v1.6h-1.6zM1045.5 319h1.6v1.6h-1.6zM1020 313.5h1.6v1.6h-1.6zM1011 317.5h1.6v1.6h-1.6zM1014.5 318.5h1.6v1.6h-1.6zM1013 312.5h1.6v1.6h-1.6zM1028.5 314.5h1.6v1.6h-1.6zM1025 310h1.6v1.6h-1.6zM1024.5 325.5h1.6v1.6h-1.6zM1048 311h1.6v1.6h-1.6zM1018.5 319.5h1.6v1.6h-1.6zM1020 324.5h1.6v1.6h-1.6zM1043.5 320h1.6v1.6h-1.6zM1027.5 304.5h1.6v1.6h-1.6zM1034.5 319.5h1.6v1.6h-1.6zM1023 318h1.6v1.6h-1.6zM1031.5 315h1.6v1.6h-1.6zM1037.5 314.5h1.6v1.6h-1.6zM1022.5 319.5h1.6v1.6h-1.6zM1011.5 319.5h1.6v1.6h-1.6zM1032 309.5h1.6v1.6h-1.6zM1016 317.5h1.6v1.6h-1.6zM1023.5 314.5h1.6v1.6h-1.6zM1053.5 315.5h1.6v1.6h-1.6zM1022.5 318h1.6v1.6h-1.6zM1031.5 313.5h1.6v1.6h-1.6zM1017.5 315.5h1.6v1.6h-1.6zM1012 318.5h1.6v1.6h-1.6zM1015.5 320.5h1.6v1.6h-1.6zM1026.5 325.5h1.6v1.6h-1.6zM1010 320.5h1.6v1.6h-1.6zM1038.5 317.5h1.6v1.6h-1.6zM1044.5 316h1.6v1.6h-1.6zM1017.5 317h1.6v1.6h-1.6zM1021.5 318.5h1.6v1.6h-1.6zM1026 320h1.6v1.6h-1.6zM1020 327h1.6v1.6h-1.6zM1021 312.5h1.6v1.6h-1.6zM1023 321.5h1.6v1.6h-1.6zM1044.5 315.5h1.6v1.6h-1.6zM1009 321.5h1.6v1.6h-1.6zM1027 319.5h1.6v1.6h-1.6zM1042 333h1.6v1.6h-1.6zM1041.5 323.5h1.6v1.6h-1.6zM1041 321h1.6v1.6h-1.6zM1036 314.5h1.6v1.6h-1.6zM1038.5 306.5h1.6v1.6h-1.6zM1016.5 316.5h1.6v1.6h-1.6zM1025.5 321h1.6v1.6h-1.6zM1029 318h1.6v1.6h-1.6zM1024.5 320h1.6v1.6h-1.6zM1041 313.5h1.6v1.6h-1.6zM1021 317.5h1.6v1.6h-1.6zM1022 317h1.6v1.6h-1.6zM1009 316h1.6v1.6h-1.6z" fill="#7df060"/>
<path d="M1021 312h1.6v1.6h-1.6zM1031.5 322h1.6v1.6h-1.6zM1025.5 322h1.6v1.6h-1.6zM1024 312.5h1.6v1.6h-1.6zM1022.5 320h1.6v1.6h-1.6zM1029.5 311h1.6v1.6h-1.6zM1023.5 318.5h1.6v1.6h-1.6zM1023 316.5h1.6v1.6h-1.6zM1027.5 318.5h1.6v1.6h-1.6zM1014 326h1.6v1.6h-1.6zM1028.5 324h1.6v1.6h-1.6zM1037 316h1.6v1.6h-1.6zM1018.5 316.5h1.6v1.6h-1.6zM1015.5 312.5h1.6v1.6h-1.6zM1028 320h1.6v1.6h-1.6zM1024.5 311h1.6v1.6h-1.6zM1012 321.5h1.6v1.6h-1.6zM1029.5 312.5h1.6v1.6h-1.6zM1023.5 320h1.6v1.6h-1.6zM1029 322h1.6v1.6h-1.6zM1019.5 317h1.6v1.6h-1.6zM1035.5 308.5h1.6v1.6h-1.6zM1022.5 316.5h1.6v1.6h-1.6zM1022 313h1.6v1.6h-1.6zM1013 313h1.6v1.6h-1.6zM1024.5 321.5h1.6v1.6h-1.6zM1015 317h1.6v1.6h-1.6zM1018 315h1.6v1.6h-1.6zM1025.5 318h1.6v1.6h-1.6z" fill="#f0e020"/>
<path d="M1014.5 313h1.6v1.6h-1.6zM1048 311h1.6v1.6h-1.6zM1018.5 310.5h1.6v1.6h-1.6zM1025 313.5h1.6v1.6h-1.6zM1015 317.5h1.6v1.6h-1.6zM1020 314h1.6v1.6h-1.6zM1028 314.5h1.6v1.6h-1.6zM1019 314.5h1.6v1.6h-1.6zM1018 318h1.6v1.6h-1.6zM1027 315.5h1.6v1.6h-1.6zM1032 311.5h1.6v1.6h-1.6zM1028 312h1.6v1.6h-1.6zM1028 320h1.6v1.6h-1.6zM1031 320.5h1.6v1.6h-1.6zM1025.5 313h1.6v1.6h-1.6zM1028.5 314.5h1.6v1.6h-1.6zM1035.5 317h1.6v1.6h-1.6zM1032.5 314.5h1.6v1.6h-1.6zM1029 315h1.6v1.6h-1.6zM1028 320.5h1.6v1.6h-1.6zM1027.5 319.5h1.6v1.6h-1.6zM1016.5 321h1.6v1.6h-1.6z" fill="#f59a1e"/>
<path d="M1028.5 323h1.6v1.6h-1.6zM1040 319h1.6v1.6h-1.6zM1034.5 311h1.6v1.6h-1.6zM1021.5 317h1.6v1.6h-1.6zM1027.5 316h1.6v1.6h-1.6zM1016 317h1.6v1.6h-1.6zM1023.5 316.5h1.6v1.6h-1.6zM1018 318.5h1.6v1.6h-1.6zM1022.5 320h1.6v1.6h-1.6zM1022 314.5h1.6v1.6h-1.6zM1035 317.5h1.6v1.6h-1.6zM1021 313h1.6v1.6h-1.6zM1018 317h1.6v1.6h-1.6zM1021 317.5h1.6v1.6h-1.6zM1020 313.5h1.6v1.6h-1.6zM1031.5 318.5h1.6v1.6h-1.6zM1015.5 320h1.6v1.6h-1.6zM1024 319h1.6v1.6h-1.6zM1020 325h1.6v1.6h-1.6zM1024.5 315.5h1.6v1.6h-1.6z" fill="#ee2a1a"/>
<rect x="582.8" y="145.4" width="125.8" height="143.7" fill="none" stroke="#000" stroke-width="2"/>
<rect x="944.9" y="145.4" width="126" height="143.7" fill="none" stroke="#000" stroke-width="2"/>
<text x="529.2" y="212.8" font-size="25.2" text-anchor="middle">65.9</text>
<text x="878.2" y="201.1" font-size="25.2" text-anchor="middle">4.52</text>
<text x="583.4" y="85.4" font-size="29" text-anchor="middle">cDC2</text>
<text x="947.8" y="85.4" font-size="29" text-anchor="middle">TC</text>
<text x="382" y="149.8" font-size="11.5">10<tspan font-size="10.5" dx="2.2" dy="-7.6">5</tspan></text>
<text x="382" y="241.2" font-size="11.5">10<tspan font-size="10.5" dx="2.2" dy="-7.6">4</tspan></text>
<text x="389.2" y="323.6" font-size="11.5">0</text>
<text x="375.6" y="415.4" font-size="11.5">-10<tspan font-size="10.5" dx="5.6" dy="-7.6">4</tspan></text>
<text x="433" y="458.6" font-size="11.5">-10<tspan font-size="10.5" dx="5.3" dy="-7.6">4</tspan></text>
<text x="511" y="458.6" font-size="11.5">0</text>
<text x="580" y="458.6" font-size="11.5">10<tspan font-size="10.5" dx="2.6" dy="-7.6">4</tspan></text>
<text x="654.4" y="458.6" font-size="11.5">10<tspan font-size="10.5" dx="2.6" dy="-7.6">5</tspan></text>
<text x="716.4" y="458.6" font-size="11.5">10<tspan font-size="10.5" dx="2.6" dy="-7.6">6</tspan></text>
<text font-size="27.6" transform="translate(361 431.5) rotate(-90)">FLT3 (PE-Cy7)</text>
<line x1="351.5" y1="240.5" x2="351.5" y2="110" stroke="#000" stroke-width="1.7"/>
<polygon points="341.2,110 361.8,110 351.5,92.4" fill="#000"/>
<text x="419.5" y="488.8" font-size="27.8">MHCII (BV480)</text>
<line x1="619.2" y1="479.2" x2="1100" y2="479.2" stroke="#000" stroke-width="1.7"/>
<polygon points="1099.5,469.2 1099.5,489.4 1117.2,479.3" fill="#000"/>
<rect x="1259.8" y="150.4" width="29.5" height="268.7" fill="#fff" stroke="#000" stroke-width="1.5"/>
<rect x="1299.5" y="195.6" width="29.5" height="223.5" fill="#fff" stroke="#000" stroke-width="1.5"/>
<rect x="1339" y="279.5" width="29.5" height="139.6" fill="#fff" stroke="#000" stroke-width="1.5"/>
<rect x="1378.7" y="262.6" width="29.5" height="156.5" fill="#fff" stroke="#000" stroke-width="1.5"/>
<rect x="1418.2" y="417.5" width="29.5" height="1.6" fill="#fff" stroke="#000" stroke-width="1.5"/>
<rect x="1457.8" y="418" width="29.5" height="1.1" fill="#fff" stroke="#000" stroke-width="1.5"/>
<rect x="1497.3" y="408" width="29.5" height="11.1" fill="#fff" stroke="#000" stroke-width="1.5"/>
<rect x="1537" y="416" width="29.5" height="3.1" fill="#fff" stroke="#000" stroke-width="1.5"/>
<rect x="1576.5" y="403" width="29.5" height="16.1" fill="#fff" stroke="#000" stroke-width="1.5"/>
<line x1="1314.2" y1="189.7" x2="1314.2" y2="195.6" stroke="#000" stroke-width="1.5"/>
<line x1="1308.7" y1="189.7" x2="1319.7" y2="189.7" stroke="#000" stroke-width="1.5"/>
<line x1="1353.8" y1="266.8" x2="1353.8" y2="291.3" stroke="#000" stroke-width="1.5"/>
<line x1="1348.3" y1="266.8" x2="1359.3" y2="266.8" stroke="#000" stroke-width="1.5"/>
<line x1="1348.3" y1="291.3" x2="1359.3" y2="291.3" stroke="#000" stroke-width="1.5"/>
<line x1="1393.4" y1="251.4" x2="1393.4" y2="273.9" stroke="#000" stroke-width="1.5"/>
<line x1="1387.9" y1="251.4" x2="1398.9" y2="251.4" stroke="#000" stroke-width="1.5"/>
<line x1="1387.9" y1="273.9" x2="1398.9" y2="273.9" stroke="#000" stroke-width="1.5"/>
<line x1="1250.3" y1="88.3" x2="1250.3" y2="419.9" stroke="#000" stroke-width="1.5"/>
<line x1="1238.6" y1="419.1" x2="1615.9" y2="419.1" stroke="#000" stroke-width="1.5"/>
<line x1="1238.6" y1="89.1" x2="1250.3" y2="89.1" stroke="#000" stroke-width="1.5"/>
<text x="1234.8" y="99.1" font-size="29" text-anchor="end">100</text>
<line x1="1238.6" y1="155.3" x2="1250.3" y2="155.3" stroke="#000" stroke-width="1.5"/>
<text x="1234.8" y="165.3" font-size="29" text-anchor="end">80</text>
<line x1="1238.6" y1="221.4" x2="1250.3" y2="221.4" stroke="#000" stroke-width="1.5"/>
<text x="1234.8" y="231.4" font-size="29" text-anchor="end">60</text>
<line x1="1238.6" y1="287.4" x2="1250.3" y2="287.4" stroke="#000" stroke-width="1.5"/>
<text x="1234.8" y="297.4" font-size="29" text-anchor="end">40</text>
<line x1="1238.6" y1="353.3" x2="1250.3" y2="353.3" stroke="#000" stroke-width="1.5"/>
<text x="1234.8" y="363.3" font-size="29" text-anchor="end">20</text>
<line x1="1238.6" y1="419.1" x2="1250.3" y2="419.1" stroke="#000" stroke-width="1.5"/>
<text x="1234.8" y="429.1" font-size="29" text-anchor="end">0</text>
<line x1="1274.6" y1="419.1" x2="1274.6" y2="430.6" stroke="#000" stroke-width="1.5"/>
<line x1="1314.2" y1="419.1" x2="1314.2" y2="430.6" stroke="#000" stroke-width="1.5"/>
<line x1="1353.8" y1="419.1" x2="1353.8" y2="430.6" stroke="#000" stroke-width="1.5"/>
<line x1="1393.4" y1="419.1" x2="1393.4" y2="430.6" stroke="#000" stroke-width="1.5"/>
<line x1="1432.9" y1="419.1" x2="1432.9" y2="430.6" stroke="#000" stroke-width="1.5"/>
<line x1="1472.5" y1="419.1" x2="1472.5" y2="430.6" stroke="#000" stroke-width="1.5"/>
<line x1="1512.1" y1="419.1" x2="1512.1" y2="430.6" stroke="#000" stroke-width="1.5"/>
<line x1="1551.7" y1="419.1" x2="1551.7" y2="430.6" stroke="#000" stroke-width="1.5"/>
<line x1="1591.3" y1="419.1" x2="1591.3" y2="430.6" stroke="#000" stroke-width="1.5"/>
<g stroke="#000" stroke-width="1.4">
<circle cx="1267" cy="149.2" r="8.7" fill="#4da3f7"/>
<circle cx="1275.4" cy="149.8" r="8.7" fill="#4da3f7"/>
<circle cx="1280.5" cy="147.6" r="8.7" fill="#4da3f7"/>
<circle cx="1272.3" cy="141.1" r="8.7" fill="#4da3f7"/>
<circle cx="1306.9" cy="202.6" r="8.7" fill="#2a22f0"/>
<circle cx="1320.9" cy="202.6" r="8.7" fill="#2a22f0"/>
<circle cx="1313.9" cy="197.5" r="8.7" fill="#2a22f0"/>
<circle cx="1320.6" cy="179.8" r="8.7" fill="#2a22f0"/>
<circle cx="1347.3" cy="262.6" r="8.7" fill="#2848ea"/>
<circle cx="1359.9" cy="252.8" r="8.7" fill="#2848ea"/>
<circle cx="1359.9" cy="298.8" r="8.7" fill="#2848ea"/>
<circle cx="1347.3" cy="301.7" r="8.7" fill="#2848ea"/>
<circle cx="1386.8" cy="255.6" r="8.7" fill="#1c1c9c"/>
<circle cx="1393.6" cy="235.7" r="8.7" fill="#1c1c9c"/>
<circle cx="1399.8" cy="270.5" r="8.7" fill="#1c1c9c"/>
<circle cx="1393.6" cy="287.9" r="8.7" fill="#1c1c9c"/>
<circle cx="1431.2" cy="414.2" r="8.7" fill="#cff6f8"/>
<circle cx="1438.5" cy="415" r="8.7" fill="#cff6f8"/>
<circle cx="1426.4" cy="418.4" r="8.7" fill="#cff6f8"/>
<circle cx="1434.8" cy="419" r="8.7" fill="#cff6f8"/>
<circle cx="1466.3" cy="419" r="8.7" fill="#d98ffa"/>
<circle cx="1470.5" cy="419" r="8.7" fill="#d98ffa"/>
<circle cx="1473.3" cy="419" r="8.7" fill="#d98ffa"/>
<circle cx="1478.6" cy="419" r="8.7" fill="#d98ffa"/>
<circle cx="1505.6" cy="408.9" r="8.7" fill="#c633f5"/>
<circle cx="1511.2" cy="403.8" r="8.7" fill="#c633f5"/>
<circle cx="1513.4" cy="408.9" r="8.7" fill="#c633f5"/>
<circle cx="1517.9" cy="405.2" r="8.7" fill="#c633f5"/>
<circle cx="1545.1" cy="417.9" r="8.7" fill="#6f3a97"/>
<circle cx="1549.9" cy="410" r="8.7" fill="#6f3a97"/>
<circle cx="1553.6" cy="416.4" r="8.7" fill="#6f3a97"/>
<circle cx="1558.1" cy="413.4" r="8.7" fill="#6f3a97"/>
<circle cx="1584.7" cy="409.4" r="8.7" fill="#3c2070"/>
<circle cx="1592.6" cy="409.4" r="8.7" fill="#3c2070"/>
<circle cx="1589.2" cy="396.5" r="8.7" fill="#3c2070"/>
<circle cx="1597.6" cy="398.8" r="8.7" fill="#3c2070"/>
</g>
<text font-size="28.5" text-anchor="end" transform="translate(1283.7 441.2) rotate(-45)">cDC1</text>
<text font-size="28.5" text-anchor="end" transform="translate(1323.3 441.2) rotate(-45)">cDC2</text>
<text font-size="28.5" text-anchor="end" transform="translate(1362.9 441.2) rotate(-45)">CCR7<tspan font-size="18" dy="-10">+</tspan><tspan dy="10"> </tspan>cDC1</text>
<text font-size="28.5" text-anchor="end" transform="translate(1402.5 441.2) rotate(-45)">CCR7<tspan font-size="18" dy="-10">+</tspan><tspan dy="10"> </tspan>cDC2</text>
<text font-size="28.5" text-anchor="end" transform="translate(1439.6 454.6) rotate(-45)">TCP</text>
<text font-size="28.5" text-anchor="end" transform="translate(1479.2 454.6) rotate(-45)">TC I</text>
<text font-size="28.5" text-anchor="end" transform="translate(1518.8 454.6) rotate(-45)">TC II</text>
<text font-size="28.5" text-anchor="end" transform="translate(1558.4 454.6) rotate(-45)">TC III</text>
<text font-size="28.5" text-anchor="end" transform="translate(1598 454.6) rotate(-45)">TC IV</text>
<text font-size="31.5" text-anchor="middle" transform="translate(1172.4 244) rotate(-90)">% FLT3<tspan font-size="22" dy="-11.5">+</tspan></text>
<text x="354.7" y="789.3" font-size="42.6" text-anchor="middle">mLN</text>
<text x="859.9" y="789.3" font-size="42.6" text-anchor="middle">pLN</text>
<text x="1362" y="789.3" font-size="42.8" text-anchor="middle">Spleen</text>
<text font-size="36" text-anchor="middle" transform="translate(30 1333) rotate(-90)">FC of cell number in</text>
<text font-size="36" text-anchor="middle" transform="translate(77.2 1333) rotate(-90)"><tspan font-style="italic">FlpoERT2 Flt3</tspan><tspan font-style="italic" font-size="27" dy="-13.8">Frt-ITD</tspan><tspan font-style="italic" dy="13.8">/</tspan> Control</text>
<text font-size="36" text-anchor="middle" transform="translate(30 2402.6) rotate(-90)">FC of cell number in</text>
<text font-size="36" text-anchor="middle" transform="translate(77.2 2402.6) rotate(-90)"><tspan font-style="italic">FlpoERT2 Flt3</tspan><tspan font-style="italic" font-size="27" dy="-13.8">Frt-ITD</tspan><tspan dy="13.8">/</tspan> Control</text>
<rect x="159.2" y="1402.6" width="33" height="123" fill="#fff" stroke="#000" stroke-width="1.6"/>
<rect x="204.2" y="1485" width="33" height="40.6" fill="#fff" stroke="#000" stroke-width="1.6"/>
<rect x="249.1" y="1435.6" width="33" height="90" fill="#fff" stroke="#000" stroke-width="1.6"/>
<rect x="294.1" y="1470.3" width="33" height="55.3" fill="#fff" stroke="#000" stroke-width="1.6"/>
<rect x="339" y="1444.3" width="33" height="81.3" fill="#fff" stroke="#000" stroke-width="1.6"/>
<rect x="384" y="1481.3" width="33" height="44.3" fill="#fff" stroke="#000" stroke-width="1.6"/>
<rect x="428.9" y="1398.2" width="33" height="127.4" fill="#fff" stroke="#000" stroke-width="1.6"/>
<rect x="473.9" y="1237.9" width="33" height="287.7" fill="#fff" stroke="#000" stroke-width="1.6"/>
<rect x="518.8" y="1416.5" width="33" height="109.1" fill="#fff" stroke="#000" stroke-width="1.6"/>
<line x1="175.7" y1="1397" x2="175.7" y2="1402.6" stroke="#000" stroke-width="1.6"/>
<line x1="166.2" y1="1397" x2="185.2" y2="1397" stroke="#000" stroke-width="1.6"/>
<line x1="265.6" y1="1431.5" x2="265.6" y2="1435.6" stroke="#000" stroke-width="1.6"/>
<line x1="256.1" y1="1431.5" x2="275.1" y2="1431.5" stroke="#000" stroke-width="1.6"/>
<line x1="355.5" y1="1430.4" x2="355.5" y2="1456.8" stroke="#000" stroke-width="1.6"/>
<line x1="346" y1="1430.4" x2="365" y2="1430.4" stroke="#000" stroke-width="1.6"/>
<line x1="346" y1="1456.8" x2="365" y2="1456.8" stroke="#000" stroke-width="1.6"/>
<line x1="445.4" y1="1368.6" x2="445.4" y2="1426.4" stroke="#000" stroke-width="1.6"/>
<line x1="435.9" y1="1368.6" x2="454.9" y2="1368.6" stroke="#000" stroke-width="1.6"/>
<line x1="435.9" y1="1426.4" x2="454.9" y2="1426.4" stroke="#000" stroke-width="1.6"/>
<line x1="490.4" y1="1226.5" x2="490.4" y2="1249" stroke="#000" stroke-width="1.6"/>
<line x1="480.9" y1="1226.5" x2="499.9" y2="1226.5" stroke="#000" stroke-width="1.6"/>
<line x1="480.9" y1="1249" x2="499.9" y2="1249" stroke="#000" stroke-width="1.6"/>
<line x1="535.3" y1="1401" x2="535.3" y2="1430" stroke="#000" stroke-width="1.6"/>
<line x1="525.8" y1="1401" x2="544.8" y2="1401" stroke="#000" stroke-width="1.6"/>
<line x1="525.8" y1="1430" x2="544.8" y2="1430" stroke="#000" stroke-width="1.6"/>
<line x1="148.4" y1="1149.8" x2="148.4" y2="1526.4" stroke="#000" stroke-width="1.6"/>
<line x1="135.4" y1="1525.6" x2="563.7" y2="1525.6" stroke="#000" stroke-width="1.6"/>
<line x1="135.1" y1="1150.6" x2="148.4" y2="1150.6" stroke="#000" stroke-width="1.6"/>
<text x="130.1" y="1161.5" font-size="31.5" text-anchor="end">15</text>
<line x1="135.1" y1="1275.6" x2="148.4" y2="1275.6" stroke="#000" stroke-width="1.6"/>
<text x="130.1" y="1286.5" font-size="31.5" text-anchor="end">10</text>
<line x1="135.1" y1="1400.6" x2="148.4" y2="1400.6" stroke="#000" stroke-width="1.6"/>
<text x="130.1" y="1411.5" font-size="31.5" text-anchor="end">5</text>
<line x1="135.1" y1="1525.6" x2="148.4" y2="1525.6" stroke="#000" stroke-width="1.6"/>
<text x="130.1" y="1536.5" font-size="31.5" text-anchor="end">0</text>
<line x1="175.7" y1="1525.6" x2="175.7" y2="1539.6" stroke="#000" stroke-width="1.6"/>
<line x1="220.7" y1="1525.6" x2="220.7" y2="1539.6" stroke="#000" stroke-width="1.6"/>
<line x1="265.6" y1="1525.6" x2="265.6" y2="1539.6" stroke="#000" stroke-width="1.6"/>
<line x1="310.6" y1="1525.6" x2="310.6" y2="1539.6" stroke="#000" stroke-width="1.6"/>
<line x1="355.5" y1="1525.6" x2="355.5" y2="1539.6" stroke="#000" stroke-width="1.6"/>
<line x1="400.5" y1="1525.6" x2="400.5" y2="1539.6" stroke="#000" stroke-width="1.6"/>
<line x1="445.4" y1="1525.6" x2="445.4" y2="1539.6" stroke="#000" stroke-width="1.6"/>
<line x1="490.4" y1="1525.6" x2="490.4" y2="1539.6" stroke="#000" stroke-width="1.6"/>
<line x1="535.3" y1="1525.6" x2="535.3" y2="1539.6" stroke="#000" stroke-width="1.6"/>
<line x1="135.1" y1="1501.5" x2="148.4" y2="1501.5" stroke="#000" stroke-width="1.6"/>
<line x1="154.2" y1="1501.5" x2="563.7" y2="1501.5" stroke="#000" stroke-width="3.7" stroke-linecap="round" stroke-dasharray="0.01 6.66"/>
<g stroke="#000" stroke-width="1.6">
<circle cx="173.2" cy="1405.6" r="9.9" fill="#cff6f8"/>
<circle cx="168.3" cy="1410" r="9.9" fill="#cff6f8"/>
<circle cx="183.4" cy="1387.2" r="9.9" fill="#cff6f8"/>
<circle cx="183.4" cy="1407.1" r="9.9" fill="#cff6f8"/>
<circle cx="220" cy="1484.5" r="9.9" fill="#d98ffa"/>
<circle cx="228.4" cy="1484.5" r="9.9" fill="#d98ffa"/>
<circle cx="213.5" cy="1473.2" r="9.9" fill="#d98ffa"/>
<circle cx="213.5" cy="1499.3" r="9.9" fill="#d98ffa"/>
<circle cx="258.4" cy="1451.3" r="9.9" fill="#c633f5"/>
<circle cx="273.8" cy="1434.8" r="9.9" fill="#c633f5"/>
<circle cx="258.4" cy="1425" r="9.9" fill="#c633f5"/>
<circle cx="265.4" cy="1427.5" r="9.9" fill="#c633f5"/>
<circle cx="320.3" cy="1464.1" r="9.9" fill="#6f3a97"/>
<circle cx="309.3" cy="1462.3" r="9.9" fill="#6f3a97"/>
<circle cx="303.1" cy="1478.7" r="9.9" fill="#6f3a97"/>
<circle cx="312.3" cy="1473.3" r="9.9" fill="#6f3a97"/>
<circle cx="348.1" cy="1429.3" r="9.9" fill="#4a1d9e"/>
<circle cx="363.1" cy="1415.8" r="9.9" fill="#4a1d9e"/>
<circle cx="363.1" cy="1460.4" r="9.9" fill="#4a1d9e"/>
<circle cx="348.1" cy="1468.5" r="9.9" fill="#4a1d9e"/>
<circle cx="408.9" cy="1475.8" r="9.9" fill="#3f9a8c"/>
<circle cx="398.3" cy="1473.3" r="9.9" fill="#3f9a8c"/>
<circle cx="403.4" cy="1487" r="9.9" fill="#3f9a8c"/>
<circle cx="393.5" cy="1488.5" r="9.9" fill="#3f9a8c"/>
<circle cx="445.5" cy="1336.7" r="9.9" fill="#4da3f7"/>
<circle cx="445.5" cy="1358.7" r="9.9" fill="#4da3f7"/>
<circle cx="453.4" cy="1447.2" r="9.9" fill="#4da3f7"/>
<circle cx="438" cy="1448" r="9.9" fill="#4da3f7"/>
<circle cx="490.5" cy="1207.1" r="9.9" fill="#2a22f0"/>
<circle cx="499" cy="1248.1" r="9.9" fill="#2a22f0"/>
<circle cx="482.8" cy="1256.2" r="9.9" fill="#2a22f0"/>
<circle cx="490.5" cy="1238.2" r="9.9" fill="#2a22f0"/>
<circle cx="535.2" cy="1382.5" r="9.9" fill="#d4505e"/>
<circle cx="528.2" cy="1407.4" r="9.9" fill="#d4505e"/>
<circle cx="542.5" cy="1422" r="9.9" fill="#d4505e"/>
<circle cx="535.2" cy="1450.2" r="9.9" fill="#d4505e"/>
</g>
<text font-size="31.5" text-anchor="end" transform="translate(183.2 1565.1) rotate(-45)">TCP</text>
<text font-size="31.5" text-anchor="end" transform="translate(228.2 1565.1) rotate(-45)">TC I</text>
<text font-size="31.5" text-anchor="end" transform="translate(273.1 1565.1) rotate(-45)">TC II</text>
<text font-size="31.5" text-anchor="end" transform="translate(318.1 1565.1) rotate(-45)">TC III</text>
<text font-size="31.5" text-anchor="end" transform="translate(363 1565.1) rotate(-45)">TC IV</text>
<text font-size="31.5" text-anchor="end" transform="translate(408 1565.1) rotate(-45)">LTi cells</text>
<text font-size="31.5" text-anchor="end" transform="translate(452.9 1565.1) rotate(-45)">cDC1</text>
<text font-size="31.5" text-anchor="end" transform="translate(497.9 1565.1) rotate(-45)">cDC2</text>
<text font-size="31.5" text-anchor="end" transform="translate(542.8 1565.1) rotate(-45)">pDC</text>
<line x1="176.1" y1="862.2" x2="400.8" y2="862.2" stroke="#3a3a3a" stroke-width="1.2"/>
<text x="225" y="852.1" font-size="26.5">p = 0.0045</text>
<line x1="176.1" y1="903.6" x2="490.5" y2="903.6" stroke="#3a3a3a" stroke-width="1.2"/>
<text x="270" y="893.5" font-size="26.5">p &lt; 0.0001</text>
<line x1="221.5" y1="945.7" x2="536.3" y2="945.7" stroke="#3a3a3a" stroke-width="1.2"/>
<text x="314.8" y="935.6" font-size="26.5">p = 0.0153</text>
<line x1="221.5" y1="987.4" x2="490.5" y2="987.4" stroke="#3a3a3a" stroke-width="1.2"/>
<text x="292.2" y="977.3" font-size="26.5">p &lt; 0.0001</text>
<line x1="221.5" y1="1029.1" x2="446.2" y2="1029.1" stroke="#3a3a3a" stroke-width="1.2"/>
<text x="270" y="1019" font-size="26.5">p = 0.0012</text>
<line x1="266.1" y1="1070.9" x2="490.5" y2="1070.9" stroke="#3a3a3a" stroke-width="1.2"/>
<text x="314.8" y="1060.8" font-size="26.5">p &lt; 0.0001</text>
<line x1="311.2" y1="1106.4" x2="490.5" y2="1106.4" stroke="#3a3a3a" stroke-width="1.2"/>
<text x="336.9" y="1096.3" font-size="26.5">p &lt; 0.0001</text>
<line x1="311.2" y1="1147.5" x2="446.2" y2="1147.5" stroke="#3a3a3a" stroke-width="1.2"/>
<text x="314.8" y="1137.4" font-size="26.5">p = 0.0099</text>
<line x1="355.8" y1="1188.8" x2="490.5" y2="1188.8" stroke="#3a3a3a" stroke-width="1.2"/>
<text x="359.9" y="1178.7" font-size="26.5">p &lt; 0.0001</text>
<rect x="684.6" y="1427" width="37.6" height="99.4" fill="#fff" stroke="#000" stroke-width="1.6"/>
<rect x="735" y="1447.9" width="37.6" height="78.5" fill="#fff" stroke="#000" stroke-width="1.6"/>
<rect x="785.4" y="1433.8" width="37.6" height="92.6" fill="#fff" stroke="#000" stroke-width="1.6"/>
<rect x="835.9" y="1480.7" width="37.6" height="45.7" fill="#fff" stroke="#000" stroke-width="1.6"/>
<rect x="886.3" y="1474" width="37.6" height="52.4" fill="#fff" stroke="#000" stroke-width="1.6"/>
<rect x="936.7" y="1371.7" width="37.6" height="154.7" fill="#fff" stroke="#000" stroke-width="1.6"/>
<rect x="987.2" y="1222.3" width="37.6" height="304.1" fill="#fff" stroke="#000" stroke-width="1.6"/>
<rect x="1037.6" y="1414" width="37.6" height="112.4" fill="#fff" stroke="#000" stroke-width="1.6"/>
<line x1="703.4" y1="1413.6" x2="703.4" y2="1438.8" stroke="#000" stroke-width="1.6"/>
<line x1="697.9" y1="1413.6" x2="708.9" y2="1413.6" stroke="#000" stroke-width="1.6"/>
<line x1="697.9" y1="1438.8" x2="708.9" y2="1438.8" stroke="#000" stroke-width="1.6"/>
<line x1="753.8" y1="1430" x2="753.8" y2="1463" stroke="#000" stroke-width="1.6"/>
<line x1="748.3" y1="1430" x2="759.3" y2="1430" stroke="#000" stroke-width="1.6"/>
<line x1="748.3" y1="1463" x2="759.3" y2="1463" stroke="#000" stroke-width="1.6"/>
<line x1="955.5" y1="1354.9" x2="955.5" y2="1371.7" stroke="#000" stroke-width="1.6"/>
<line x1="950" y1="1354.9" x2="961" y2="1354.9" stroke="#000" stroke-width="1.6"/>
<line x1="1006" y1="1191.5" x2="1006" y2="1251.9" stroke="#000" stroke-width="1.6"/>
<line x1="1000.5" y1="1191.5" x2="1011.5" y2="1191.5" stroke="#000" stroke-width="1.6"/>
<line x1="1000.5" y1="1251.9" x2="1011.5" y2="1251.9" stroke="#000" stroke-width="1.6"/>
<line x1="1056.4" y1="1399.5" x2="1056.4" y2="1414" stroke="#000" stroke-width="1.6"/>
<line x1="1050.9" y1="1399.5" x2="1061.9" y2="1399.5" stroke="#000" stroke-width="1.6"/>
<line x1="672.8" y1="1150.4" x2="672.8" y2="1527.2" stroke="#000" stroke-width="1.6"/>
<line x1="659.7" y1="1526.4" x2="1088.3" y2="1526.4" stroke="#000" stroke-width="1.6"/>
<line x1="659.5" y1="1151.2" x2="672.8" y2="1151.2" stroke="#000" stroke-width="1.6"/>
<text x="654.5" y="1162.1" font-size="31.5" text-anchor="end">8</text>
<line x1="659.5" y1="1245" x2="672.8" y2="1245" stroke="#000" stroke-width="1.6"/>
<text x="654.5" y="1255.9" font-size="31.5" text-anchor="end">6</text>
<line x1="659.5" y1="1338.8" x2="672.8" y2="1338.8" stroke="#000" stroke-width="1.6"/>
<text x="654.5" y="1349.7" font-size="31.5" text-anchor="end">4</text>
<line x1="659.5" y1="1432.6" x2="672.8" y2="1432.6" stroke="#000" stroke-width="1.6"/>
<text x="654.5" y="1443.5" font-size="31.5" text-anchor="end">2</text>
<line x1="659.5" y1="1526.4" x2="672.8" y2="1526.4" stroke="#000" stroke-width="1.6"/>
<text x="654.5" y="1537.3" font-size="31.5" text-anchor="end">0</text>
<line x1="703.4" y1="1526.4" x2="703.4" y2="1540.4" stroke="#000" stroke-width="1.6"/>
<line x1="753.8" y1="1526.4" x2="753.8" y2="1540.4" stroke="#000" stroke-width="1.6"/>
<line x1="804.2" y1="1526.4" x2="804.2" y2="1540.4" stroke="#000" stroke-width="1.6"/>
<line x1="854.7" y1="1526.4" x2="854.7" y2="1540.4" stroke="#000" stroke-width="1.6"/>
<line x1="905.1" y1="1526.4" x2="905.1" y2="1540.4" stroke="#000" stroke-width="1.6"/>
<line x1="955.5" y1="1526.4" x2="955.5" y2="1540.4" stroke="#000" stroke-width="1.6"/>
<line x1="1006" y1="1526.4" x2="1006" y2="1540.4" stroke="#000" stroke-width="1.6"/>
<line x1="1056.4" y1="1526.4" x2="1056.4" y2="1540.4" stroke="#000" stroke-width="1.6"/>
<line x1="659.5" y1="1479.7" x2="672.8" y2="1479.7" stroke="#000" stroke-width="1.6"/>
<line x1="685.7" y1="1479.7" x2="1088.3" y2="1479.7" stroke="#000" stroke-width="3.7" stroke-linecap="round" stroke-dasharray="0.01 6.66"/>
<g stroke="#000" stroke-width="1.6">
<circle cx="694" cy="1406.2" r="9.9" fill="#cff6f8"/>
<circle cx="713.1" cy="1405.2" r="9.9" fill="#cff6f8"/>
<circle cx="713.1" cy="1437.1" r="9.9" fill="#cff6f8"/>
<circle cx="694" cy="1456.2" r="9.9" fill="#cff6f8"/>
<circle cx="744.6" cy="1425.4" r="9.9" fill="#d98ffa"/>
<circle cx="763.4" cy="1424.4" r="9.9" fill="#d98ffa"/>
<circle cx="763.4" cy="1444.5" r="9.9" fill="#d98ffa"/>
<circle cx="754" cy="1493.5" r="9.9" fill="#d98ffa"/>
<circle cx="795" cy="1426.4" r="9.9" fill="#c633f5"/>
<circle cx="813.8" cy="1417" r="9.9" fill="#c633f5"/>
<circle cx="813.8" cy="1438.8" r="9.9" fill="#c633f5"/>
<circle cx="795" cy="1446.8" r="9.9" fill="#c633f5"/>
<circle cx="865.1" cy="1478.1" r="9.9" fill="#6f3a97"/>
<circle cx="851.3" cy="1475.7" r="9.9" fill="#6f3a97"/>
<circle cx="858.4" cy="1484.8" r="9.9" fill="#6f3a97"/>
<circle cx="845.3" cy="1489.1" r="9.9" fill="#6f3a97"/>
<circle cx="895.6" cy="1481.7" r="9.9" fill="#3f9a8c"/>
<circle cx="908.1" cy="1479.1" r="9.9" fill="#3f9a8c"/>
<circle cx="902" cy="1467.3" r="9.9" fill="#3f9a8c"/>
<circle cx="914.8" cy="1470.7" r="9.9" fill="#3f9a8c"/>
<circle cx="956" cy="1325" r="9.9" fill="#4da3f7"/>
<circle cx="946.3" cy="1377.7" r="9.9" fill="#4da3f7"/>
<circle cx="965.4" cy="1384.1" r="9.9" fill="#4da3f7"/>
<circle cx="946.3" cy="1397.2" r="9.9" fill="#4da3f7"/>
<circle cx="1006.4" cy="1170.3" r="9.9" fill="#2a22f0"/>
<circle cx="997" cy="1200.5" r="9.9" fill="#2a22f0"/>
<circle cx="1016.1" cy="1205.9" r="9.9" fill="#2a22f0"/>
<circle cx="1006.4" cy="1308.9" r="9.9" fill="#2a22f0"/>
<circle cx="1057" cy="1373.7" r="9.9" fill="#d4505e"/>
<circle cx="1047.3" cy="1432.8" r="9.9" fill="#d4505e"/>
<circle cx="1066.4" cy="1426.4" r="9.9" fill="#d4505e"/>
<circle cx="1057" cy="1418.7" r="9.9" fill="#d4505e"/>
</g>
<text font-size="31.5" text-anchor="end" transform="translate(710.9 1565.9) rotate(-45)">TCP</text>
<text font-size="31.5" text-anchor="end" transform="translate(761.3 1565.9) rotate(-45)">TC I</text>
<text font-size="31.5" text-anchor="end" transform="translate(811.7 1565.9) rotate(-45)">TC II</text>
<text font-size="31.5" text-anchor="end" transform="translate(862.2 1565.9) rotate(-45)">TC III</text>
<text font-size="31.5" text-anchor="end" transform="translate(912.6 1565.9) rotate(-45)">LTi cells</text>
<text font-size="31.5" text-anchor="end" transform="translate(963 1565.9) rotate(-45)">cDC1</text>
<text font-size="31.5" text-anchor="end" transform="translate(1013.5 1565.9) rotate(-45)">cDC2</text>
<text font-size="31.5" text-anchor="end" transform="translate(1063.9 1565.9) rotate(-45)">pDC</text>
<line x1="703" y1="962.1" x2="1006.7" y2="962.1" stroke="#3a3a3a" stroke-width="1.2"/>
<text x="791.4" y="952" font-size="26.5">p &lt; 0.0001</text>
<line x1="753.7" y1="1004" x2="1006.7" y2="1004" stroke="#3a3a3a" stroke-width="1.2"/>
<text x="816.6" y="993.9" font-size="26.5">p &lt; 0.0001</text>
<line x1="753.7" y1="1045.6" x2="956" y2="1045.6" stroke="#3a3a3a" stroke-width="1.2"/>
<text x="791.4" y="1035.5" font-size="26.5">p = 0.0284</text>
<line x1="804.4" y1="1086.9" x2="1006.7" y2="1086.9" stroke="#3a3a3a" stroke-width="1.2"/>
<text x="841.8" y="1076.8" font-size="26.5">p &lt; 0.0001</text>
<line x1="854.7" y1="1128.5" x2="1006.7" y2="1128.5" stroke="#3a3a3a" stroke-width="1.2"/>
<text x="867" y="1118.4" font-size="26.5">p &lt; 0.0001</text>
<line x1="854.7" y1="1170.1" x2="956" y2="1170.1" stroke="#3a3a3a" stroke-width="1.2"/>
<text x="841.8" y="1160" font-size="26.5">p = 0.0006</text>
<rect x="1189.2" y="1516" width="33" height="10" fill="#fff" stroke="#000" stroke-width="1.6"/>
<rect x="1234.4" y="1505.9" width="33" height="20.1" fill="#fff" stroke="#000" stroke-width="1.6"/>
<rect x="1279.6" y="1509.3" width="33" height="16.7" fill="#fff" stroke="#000" stroke-width="1.6"/>
<rect x="1324.8" y="1519" width="33" height="7" fill="#fff" stroke="#000" stroke-width="1.6"/>
<rect x="1370" y="1499.2" width="33" height="26.8" fill="#fff" stroke="#000" stroke-width="1.6"/>
<rect x="1415.1" y="1509" width="33" height="17" fill="#fff" stroke="#000" stroke-width="1.6"/>
<rect x="1460.3" y="1465" width="33" height="61" fill="#fff" stroke="#000" stroke-width="1.6"/>
<rect x="1505.5" y="1336.8" width="33" height="189.2" fill="#fff" stroke="#000" stroke-width="1.6"/>
<rect x="1550.7" y="1476.7" width="33" height="49.3" fill="#fff" stroke="#000" stroke-width="1.6"/>
<line x1="1522" y1="1288.1" x2="1522" y2="1384.4" stroke="#000" stroke-width="1.6"/>
<line x1="1512.5" y1="1288.1" x2="1531.5" y2="1288.1" stroke="#000" stroke-width="1.6"/>
<line x1="1512.5" y1="1384.4" x2="1531.5" y2="1384.4" stroke="#000" stroke-width="1.6"/>
<line x1="1567.2" y1="1468" x2="1567.2" y2="1476.7" stroke="#000" stroke-width="1.6"/>
<line x1="1557.7" y1="1468" x2="1576.7" y2="1468" stroke="#000" stroke-width="1.6"/>
<line x1="1178.5" y1="1148.7" x2="1178.5" y2="1526.8" stroke="#000" stroke-width="1.6"/>
<line x1="1165.4" y1="1526" x2="1596" y2="1526" stroke="#000" stroke-width="1.6"/>
<line x1="1165.2" y1="1149.5" x2="1178.5" y2="1149.5" stroke="#000" stroke-width="1.6"/>
<text x="1160.2" y="1160.4" font-size="31.5" text-anchor="end">20</text>
<line x1="1165.2" y1="1243.6" x2="1178.5" y2="1243.6" stroke="#000" stroke-width="1.6"/>
<text x="1160.2" y="1254.5" font-size="31.5" text-anchor="end">15</text>
<line x1="1165.2" y1="1337.7" x2="1178.5" y2="1337.7" stroke="#000" stroke-width="1.6"/>
<text x="1160.2" y="1348.6" font-size="31.5" text-anchor="end">10</text>
<line x1="1165.2" y1="1431.9" x2="1178.5" y2="1431.9" stroke="#000" stroke-width="1.6"/>
<text x="1160.2" y="1442.8" font-size="31.5" text-anchor="end">5</text>
<line x1="1165.2" y1="1526" x2="1178.5" y2="1526" stroke="#000" stroke-width="1.6"/>
<text x="1160.2" y="1536.9" font-size="31.5" text-anchor="end">0</text>
<line x1="1205.7" y1="1526" x2="1205.7" y2="1540" stroke="#000" stroke-width="1.6"/>
<line x1="1250.9" y1="1526" x2="1250.9" y2="1540" stroke="#000" stroke-width="1.6"/>
<line x1="1296.1" y1="1526" x2="1296.1" y2="1540" stroke="#000" stroke-width="1.6"/>
<line x1="1341.3" y1="1526" x2="1341.3" y2="1540" stroke="#000" stroke-width="1.6"/>
<line x1="1386.5" y1="1526" x2="1386.5" y2="1540" stroke="#000" stroke-width="1.6"/>
<line x1="1431.6" y1="1526" x2="1431.6" y2="1540" stroke="#000" stroke-width="1.6"/>
<line x1="1476.8" y1="1526" x2="1476.8" y2="1540" stroke="#000" stroke-width="1.6"/>
<line x1="1522" y1="1526" x2="1522" y2="1540" stroke="#000" stroke-width="1.6"/>
<line x1="1567.2" y1="1526" x2="1567.2" y2="1540" stroke="#000" stroke-width="1.6"/>
<line x1="1165.2" y1="1507.2" x2="1178.5" y2="1507.2" stroke="#000" stroke-width="1.6"/>
<line x1="1184.3" y1="1507.2" x2="1596" y2="1507.2" stroke="#000" stroke-width="3.7" stroke-linecap="round" stroke-dasharray="0.01 6.66"/>
<g stroke="#000" stroke-width="1.6">
<circle cx="1204" cy="1508.3" r="9.9" fill="#cff6f8"/>
<circle cx="1213.4" cy="1510.9" r="9.9" fill="#cff6f8"/>
<circle cx="1208.4" cy="1517.7" r="9.9" fill="#cff6f8"/>
<circle cx="1198.3" cy="1524" r="9.9" fill="#cff6f8"/>
<circle cx="1253" cy="1497" r="9.9" fill="#d98ffa"/>
<circle cx="1248.7" cy="1492.5" r="9.9" fill="#d98ffa"/>
<circle cx="1258.1" cy="1497.5" r="9.9" fill="#d98ffa"/>
<circle cx="1243.6" cy="1500.9" r="9.9" fill="#d98ffa"/>
<circle cx="1293" cy="1502.6" r="9.9" fill="#c633f5"/>
<circle cx="1304" cy="1502.6" r="9.9" fill="#c633f5"/>
<circle cx="1298" cy="1510.3" r="9.9" fill="#c633f5"/>
<circle cx="1288.6" cy="1517.7" r="9.9" fill="#c633f5"/>
<circle cx="1334.9" cy="1517.7" r="9.9" fill="#6f3a97"/>
<circle cx="1339.9" cy="1515.3" r="9.9" fill="#6f3a97"/>
<circle cx="1348.3" cy="1516" r="9.9" fill="#6f3a97"/>
<circle cx="1343.3" cy="1516.6" r="9.9" fill="#6f3a97"/>
<circle cx="1393.6" cy="1491.5" r="9.9" fill="#4a1d9e"/>
<circle cx="1383.6" cy="1484.8" r="9.9" fill="#4a1d9e"/>
<circle cx="1378.5" cy="1499.2" r="9.9" fill="#4a1d9e"/>
<circle cx="1388.6" cy="1496.5" r="9.9" fill="#4a1d9e"/>
<circle cx="1428.9" cy="1496.5" r="9.9" fill="#3f9a8c"/>
<circle cx="1423.8" cy="1508.3" r="9.9" fill="#3f9a8c"/>
<circle cx="1433.9" cy="1507.6" r="9.9" fill="#3f9a8c"/>
<circle cx="1438.9" cy="1499.2" r="9.9" fill="#3f9a8c"/>
<circle cx="1484.2" cy="1469" r="9.9" fill="#4da3f7"/>
<circle cx="1469.1" cy="1450.5" r="9.9" fill="#4da3f7"/>
<circle cx="1469.1" cy="1474" r="9.9" fill="#4da3f7"/>
<circle cx="1476.5" cy="1465" r="9.9" fill="#4da3f7"/>
<circle cx="1521.8" cy="1239.8" r="9.9" fill="#2a22f0"/>
<circle cx="1521.8" cy="1271" r="9.9" fill="#2a22f0"/>
<circle cx="1521.8" cy="1395.5" r="9.9" fill="#2a22f0"/>
<circle cx="1521.8" cy="1438.8" r="9.9" fill="#2a22f0"/>
<circle cx="1559.7" cy="1463" r="9.9" fill="#d4505e"/>
<circle cx="1574.8" cy="1459.6" r="9.9" fill="#d4505e"/>
<circle cx="1559.7" cy="1490.8" r="9.9" fill="#d4505e"/>
<circle cx="1574.8" cy="1490.8" r="9.9" fill="#d4505e"/>
</g>
<text font-size="31.5" text-anchor="end" transform="translate(1213.2 1565.5) rotate(-45)">TCP</text>
<text font-size="31.5" text-anchor="end" transform="translate(1258.4 1565.5) rotate(-45)">TC I</text>
<text font-size="31.5" text-anchor="end" transform="translate(1303.6 1565.5) rotate(-45)">TC II</text>
<text font-size="31.5" text-anchor="end" transform="translate(1348.8 1565.5) rotate(-45)">TC III</text>
<text font-size="31.5" text-anchor="end" transform="translate(1394 1565.5) rotate(-45)">TC IV</text>
<text font-size="31.5" text-anchor="end" transform="translate(1439.1 1565.5) rotate(-45)">LTi cells</text>
<text font-size="31.5" text-anchor="end" transform="translate(1484.3 1565.5) rotate(-45)">cDC1</text>
<text font-size="31.5" text-anchor="end" transform="translate(1529.5 1565.5) rotate(-45)">cDC2</text>
<text font-size="31.5" text-anchor="end" transform="translate(1574.7 1565.5) rotate(-45)">pDC</text>
<line x1="1205.7" y1="1050" x2="1521.8" y2="1050" stroke="#3a3a3a" stroke-width="1.2"/>
<text x="1299.9" y="1039.9" font-size="26.5">p &lt; 0.0001</text>
<line x1="1250.7" y1="1089.9" x2="1521.8" y2="1089.9" stroke="#3a3a3a" stroke-width="1.2"/>
<text x="1323" y="1079.8" font-size="26.5">p &lt; 0.0001</text>
<line x1="1295.6" y1="1131.9" x2="1521.8" y2="1131.9" stroke="#3a3a3a" stroke-width="1.2"/>
<text x="1345.8" y="1121.8" font-size="26.5">p &lt; 0.0001</text>
<line x1="1340.9" y1="1173.5" x2="1521.8" y2="1173.5" stroke="#3a3a3a" stroke-width="1.2"/>
<text x="1367.8" y="1163.4" font-size="26.5">p &lt; 0.0001</text>
<line x1="1385.9" y1="1211.4" x2="1521.8" y2="1211.4" stroke="#3a3a3a" stroke-width="1.2"/>
<text x="1390.6" y="1201.3" font-size="26.5">p &lt; 0.0001</text>
<rect x="159.2" y="2583.7" width="33" height="11.4" fill="#fff" stroke="#000" stroke-width="1.6"/>
<rect x="204.2" y="2571.6" width="33" height="23.5" fill="#fff" stroke="#000" stroke-width="1.6"/>
<rect x="249.1" y="2559.9" width="33" height="35.2" fill="#fff" stroke="#000" stroke-width="1.6"/>
<rect x="294.1" y="2583.7" width="33" height="11.4" fill="#fff" stroke="#000" stroke-width="1.6"/>
<rect x="339" y="2580" width="33" height="15.1" fill="#fff" stroke="#000" stroke-width="1.6"/>
<rect x="384" y="2587.4" width="33" height="7.7" fill="#fff" stroke="#000" stroke-width="1.6"/>
<rect x="428.9" y="2357.4" width="33" height="237.7" fill="#fff" stroke="#000" stroke-width="1.6"/>
<rect x="473.9" y="2477.6" width="33" height="117.5" fill="#fff" stroke="#000" stroke-width="1.6"/>
<rect x="518.8" y="2519.6" width="33" height="75.5" fill="#fff" stroke="#000" stroke-width="1.6"/>
<line x1="445.4" y1="2331.3" x2="445.4" y2="2383.5" stroke="#000" stroke-width="1.6"/>
<line x1="435.9" y1="2331.3" x2="454.9" y2="2331.3" stroke="#000" stroke-width="1.6"/>
<line x1="435.9" y1="2383.5" x2="454.9" y2="2383.5" stroke="#000" stroke-width="1.6"/>
<line x1="148.4" y1="2219.5" x2="148.4" y2="2595.9" stroke="#000" stroke-width="1.6"/>
<line x1="135.4" y1="2595.1" x2="563.7" y2="2595.1" stroke="#000" stroke-width="1.6"/>
<line x1="135.1" y1="2220.3" x2="148.4" y2="2220.3" stroke="#000" stroke-width="1.6"/>
<text x="130.1" y="2231.2" font-size="31.5" text-anchor="end">60</text>
<line x1="135.1" y1="2345.2" x2="148.4" y2="2345.2" stroke="#000" stroke-width="1.6"/>
<text x="130.1" y="2356.1" font-size="31.5" text-anchor="end">40</text>
<line x1="135.1" y1="2470.2" x2="148.4" y2="2470.2" stroke="#000" stroke-width="1.6"/>
<text x="130.1" y="2481.1" font-size="31.5" text-anchor="end">20</text>
<line x1="135.1" y1="2595.1" x2="148.4" y2="2595.1" stroke="#000" stroke-width="1.6"/>
<text x="130.1" y="2606" font-size="31.5" text-anchor="end">0</text>
<line x1="175.7" y1="2595.1" x2="175.7" y2="2609.1" stroke="#000" stroke-width="1.6"/>
<line x1="220.7" y1="2595.1" x2="220.7" y2="2609.1" stroke="#000" stroke-width="1.6"/>
<line x1="265.6" y1="2595.1" x2="265.6" y2="2609.1" stroke="#000" stroke-width="1.6"/>
<line x1="310.6" y1="2595.1" x2="310.6" y2="2609.1" stroke="#000" stroke-width="1.6"/>
<line x1="355.5" y1="2595.1" x2="355.5" y2="2609.1" stroke="#000" stroke-width="1.6"/>
<line x1="400.5" y1="2595.1" x2="400.5" y2="2609.1" stroke="#000" stroke-width="1.6"/>
<line x1="445.4" y1="2595.1" x2="445.4" y2="2609.1" stroke="#000" stroke-width="1.6"/>
<line x1="490.4" y1="2595.1" x2="490.4" y2="2609.1" stroke="#000" stroke-width="1.6"/>
<line x1="535.3" y1="2595.1" x2="535.3" y2="2609.1" stroke="#000" stroke-width="1.6"/>
<line x1="135.1" y1="2589" x2="148.4" y2="2589" stroke="#000" stroke-width="1.6"/>
<line x1="154.2" y1="2589" x2="563.7" y2="2589" stroke="#000" stroke-width="3.7" stroke-linecap="round" stroke-dasharray="0.01 6.66"/>
<g stroke="#000" stroke-width="1.6">
<circle cx="168.4" cy="2580" r="9.9" fill="#cff6f8"/>
<circle cx="183" cy="2581.9" r="9.9" fill="#cff6f8"/>
<circle cx="172" cy="2573.8" r="9.9" fill="#cff6f8"/>
<circle cx="178" cy="2577.5" r="9.9" fill="#cff6f8"/>
<circle cx="171" cy="2574.5" r="9.9" fill="#cff6f8"/>
<circle cx="219.6" cy="2557.3" r="9.9" fill="#d98ffa"/>
<circle cx="216.7" cy="2565.4" r="9.9" fill="#d98ffa"/>
<circle cx="212.7" cy="2583.7" r="9.9" fill="#d98ffa"/>
<circle cx="221.5" cy="2578.2" r="9.9" fill="#d98ffa"/>
<circle cx="227.7" cy="2572" r="9.9" fill="#d98ffa"/>
<circle cx="261" cy="2553.7" r="9.9" fill="#c633f5"/>
<circle cx="258.4" cy="2559.2" r="9.9" fill="#c633f5"/>
<circle cx="270.9" cy="2556.2" r="9.9" fill="#c633f5"/>
<circle cx="272.7" cy="2572" r="9.9" fill="#c633f5"/>
<circle cx="265.4" cy="2557.3" r="9.9" fill="#c633f5"/>
<circle cx="303.1" cy="2581.1" r="9.9" fill="#6f3a97"/>
<circle cx="318.5" cy="2581.9" r="9.9" fill="#6f3a97"/>
<circle cx="314.8" cy="2580" r="9.9" fill="#6f3a97"/>
<circle cx="309.3" cy="2579" r="9.9" fill="#6f3a97"/>
<circle cx="306.8" cy="2579" r="9.9" fill="#6f3a97"/>
<circle cx="347.8" cy="2574.6" r="9.9" fill="#4a1d9e"/>
<circle cx="362.4" cy="2579" r="9.9" fill="#4a1d9e"/>
<circle cx="360.6" cy="2570.9" r="9.9" fill="#4a1d9e"/>
<circle cx="354.4" cy="2569" r="9.9" fill="#4a1d9e"/>
<circle cx="351.4" cy="2569" r="9.9" fill="#4a1d9e"/>
<circle cx="393.5" cy="2588.1" r="9.9" fill="#3f9a8c"/>
<circle cx="396.5" cy="2581.9" r="9.9" fill="#3f9a8c"/>
<circle cx="406.3" cy="2589.2" r="9.9" fill="#3f9a8c"/>
<circle cx="400.8" cy="2585.5" r="9.9" fill="#3f9a8c"/>
<circle cx="403.8" cy="2583" r="9.9" fill="#3f9a8c"/>
<circle cx="444.9" cy="2295.6" r="9.9" fill="#4da3f7"/>
<circle cx="444.9" cy="2322.8" r="9.9" fill="#4da3f7"/>
<circle cx="444.9" cy="2344.3" r="9.9" fill="#4da3f7"/>
<circle cx="444.9" cy="2379.3" r="9.9" fill="#4da3f7"/>
<circle cx="444.9" cy="2442.8" r="9.9" fill="#4da3f7"/>
<circle cx="489.9" cy="2445.7" r="9.9" fill="#2a22f0"/>
<circle cx="482.6" cy="2464.7" r="9.9" fill="#2a22f0"/>
<circle cx="489.9" cy="2483.5" r="9.9" fill="#2a22f0"/>
<circle cx="497.8" cy="2473.5" r="9.9" fill="#2a22f0"/>
<circle cx="489.9" cy="2515.1" r="9.9" fill="#2a22f0"/>
<circle cx="535.1" cy="2503.1" r="9.9" fill="#d4505e"/>
<circle cx="530.7" cy="2516" r="9.9" fill="#d4505e"/>
<circle cx="542.4" cy="2521.4" r="9.9" fill="#d4505e"/>
<circle cx="526.8" cy="2527.9" r="9.9" fill="#d4505e"/>
<circle cx="537.3" cy="2525.4" r="9.9" fill="#d4505e"/>
</g>
<text font-size="31.5" text-anchor="end" transform="translate(183.2 2634.6) rotate(-45)">TCP</text>
<text font-size="31.5" text-anchor="end" transform="translate(228.2 2634.6) rotate(-45)">TC I</text>
<text font-size="31.5" text-anchor="end" transform="translate(273.1 2634.6) rotate(-45)">TC II</text>
<text font-size="31.5" text-anchor="end" transform="translate(318.1 2634.6) rotate(-45)">TC III</text>
<text font-size="31.5" text-anchor="end" transform="translate(363 2634.6) rotate(-45)">TC IV</text>
<text font-size="31.5" text-anchor="end" transform="translate(408 2634.6) rotate(-45)">LTi cells</text>
<text font-size="31.5" text-anchor="end" transform="translate(452.9 2634.6) rotate(-45)">cDC1</text>
<text font-size="31.5" text-anchor="end" transform="translate(497.9 2634.6) rotate(-45)">cDC2</text>
<text font-size="31.5" text-anchor="end" transform="translate(542.8 2634.6) rotate(-45)">pDC</text>
<line x1="175" y1="1830.3" x2="535.3" y2="1830.3" stroke="#3a3a3a" stroke-width="1.2"/>
<text x="292" y="1820.2" font-size="26.5">p = 0.0035</text>
<line x1="175" y1="1864.4" x2="489.9" y2="1864.4" stroke="#3a3a3a" stroke-width="1.2"/>
<text x="269.4" y="1854.3" font-size="26.5">p &lt; 0.0001</text>
<line x1="175" y1="1901.6" x2="445" y2="1901.6" stroke="#3a3a3a" stroke-width="1.2"/>
<text x="246.9" y="1891.5" font-size="26.5">p &lt; 0.0001</text>
<line x1="220.2" y1="1934.3" x2="535.3" y2="1934.3" stroke="#3a3a3a" stroke-width="1.2"/>
<text x="314.6" y="1924.2" font-size="26.5">p = 0.0136</text>
<line x1="220.2" y1="1969.4" x2="489.9" y2="1969.4" stroke="#3a3a3a" stroke-width="1.2"/>
<text x="292" y="1959.3" font-size="26.5">p &lt; 0.0001</text>
<line x1="220.2" y1="2001.1" x2="445" y2="2001.1" stroke="#3a3a3a" stroke-width="1.2"/>
<text x="269.4" y="1991" font-size="26.5">p &lt; 0.0001</text>
<line x1="265" y1="2035" x2="489.9" y2="2035" stroke="#3a3a3a" stroke-width="1.2"/>
<text x="314.6" y="2024.9" font-size="26.5">p &lt; 0.0001</text>
<line x1="265" y1="2069.4" x2="445" y2="2069.4" stroke="#3a3a3a" stroke-width="1.2"/>
<text x="292" y="2059.3" font-size="26.5">p &lt; 0.0001</text>
<line x1="309.9" y1="2102.1" x2="535.3" y2="2102.1" stroke="#3a3a3a" stroke-width="1.2"/>
<text x="359.4" y="2092" font-size="26.5">p = 0.0025</text>
<line x1="309.9" y1="2136.2" x2="489.9" y2="2136.2" stroke="#3a3a3a" stroke-width="1.2"/>
<text x="337.1" y="2126.1" font-size="26.5">p &lt; 0.0001</text>
<line x1="309.9" y1="2171.8" x2="445" y2="2171.8" stroke="#3a3a3a" stroke-width="1.2"/>
<text x="314.6" y="2161.7" font-size="26.5">p &lt; 0.0001</text>
<line x1="354.7" y1="2203.8" x2="535.3" y2="2203.8" stroke="#3a3a3a" stroke-width="1.2"/>
<text x="382" y="2193.7" font-size="26.5">p = 0.0100</text>
<line x1="354.7" y1="2240.4" x2="489.9" y2="2240.4" stroke="#3a3a3a" stroke-width="1.2"/>
<text x="359.4" y="2230.3" font-size="26.5">p &lt; 0.0001</text>
<line x1="354.7" y1="2277.3" x2="445" y2="2277.3" stroke="#3a3a3a" stroke-width="1.2"/>
<text x="337.1" y="2267.2" font-size="26.5">p &lt; 0.0001</text>
<rect x="692.6" y="2590.5" width="37.6" height="5.1" fill="#fff" stroke="#000" stroke-width="1.6"/>
<rect x="742.9" y="2586" width="37.6" height="9.6" fill="#fff" stroke="#000" stroke-width="1.6"/>
<rect x="793.3" y="2578.5" width="37.6" height="17.1" fill="#fff" stroke="#000" stroke-width="1.6"/>
<rect x="843.6" y="2588" width="37.6" height="7.6" fill="#fff" stroke="#000" stroke-width="1.6"/>
<rect x="894" y="2591" width="37.6" height="4.6" fill="#fff" stroke="#000" stroke-width="1.6"/>
<rect x="944.3" y="2431.5" width="37.6" height="164.1" fill="#fff" stroke="#000" stroke-width="1.6"/>
<rect x="994.6" y="2530.5" width="37.6" height="65.1" fill="#fff" stroke="#000" stroke-width="1.6"/>
<rect x="1045" y="2549" width="37.6" height="46.6" fill="#fff" stroke="#000" stroke-width="1.6"/>
<line x1="963.1" y1="2398.7" x2="963.1" y2="2462.1" stroke="#000" stroke-width="1.6"/>
<line x1="953.6" y1="2398.7" x2="972.6" y2="2398.7" stroke="#000" stroke-width="1.6"/>
<line x1="953.6" y1="2462.1" x2="972.6" y2="2462.1" stroke="#000" stroke-width="1.6"/>
<line x1="1013.4" y1="2522" x2="1013.4" y2="2530.5" stroke="#000" stroke-width="1.6"/>
<line x1="1008.4" y1="2522" x2="1018.4" y2="2522" stroke="#000" stroke-width="1.6"/>
<line x1="1063.8" y1="2537.2" x2="1063.8" y2="2549" stroke="#000" stroke-width="1.6"/>
<line x1="1058.8" y1="2537.2" x2="1068.8" y2="2537.2" stroke="#000" stroke-width="1.6"/>
<line x1="680.5" y1="2221" x2="680.5" y2="2596.4" stroke="#000" stroke-width="1.6"/>
<line x1="667.1" y1="2595.6" x2="1095.6" y2="2595.6" stroke="#000" stroke-width="1.6"/>
<line x1="667.2" y1="2221.8" x2="680.5" y2="2221.8" stroke="#000" stroke-width="1.6"/>
<text x="662.2" y="2232.7" font-size="31.5" text-anchor="end">80</text>
<line x1="667.2" y1="2315.3" x2="680.5" y2="2315.3" stroke="#000" stroke-width="1.6"/>
<text x="662.2" y="2326.2" font-size="31.5" text-anchor="end">60</text>
<line x1="667.2" y1="2408.7" x2="680.5" y2="2408.7" stroke="#000" stroke-width="1.6"/>
<text x="662.2" y="2419.6" font-size="31.5" text-anchor="end">40</text>
<line x1="667.2" y1="2502.2" x2="680.5" y2="2502.2" stroke="#000" stroke-width="1.6"/>
<text x="662.2" y="2513.1" font-size="31.5" text-anchor="end">20</text>
<line x1="667.2" y1="2595.6" x2="680.5" y2="2595.6" stroke="#000" stroke-width="1.6"/>
<text x="662.2" y="2606.5" font-size="31.5" text-anchor="end">0</text>
<line x1="711.4" y1="2595.6" x2="711.4" y2="2609.6" stroke="#000" stroke-width="1.6"/>
<line x1="761.7" y1="2595.6" x2="761.7" y2="2609.6" stroke="#000" stroke-width="1.6"/>
<line x1="812.1" y1="2595.6" x2="812.1" y2="2609.6" stroke="#000" stroke-width="1.6"/>
<line x1="862.4" y1="2595.6" x2="862.4" y2="2609.6" stroke="#000" stroke-width="1.6"/>
<line x1="912.8" y1="2595.6" x2="912.8" y2="2609.6" stroke="#000" stroke-width="1.6"/>
<line x1="963.1" y1="2595.6" x2="963.1" y2="2609.6" stroke="#000" stroke-width="1.6"/>
<line x1="1013.4" y1="2595.6" x2="1013.4" y2="2609.6" stroke="#000" stroke-width="1.6"/>
<line x1="1063.8" y1="2595.6" x2="1063.8" y2="2609.6" stroke="#000" stroke-width="1.6"/>
<line x1="667.2" y1="2591.3" x2="680.5" y2="2591.3" stroke="#000" stroke-width="1.6"/>
<line x1="686.3" y1="2591.3" x2="1095.6" y2="2591.3" stroke="#000" stroke-width="3.7" stroke-linecap="round" stroke-dasharray="0.01 6.66"/>
<g stroke="#000" stroke-width="1.6">
<circle cx="701.7" cy="2591" r="9.9" fill="#cff6f8"/>
<circle cx="707.4" cy="2589.3" r="9.9" fill="#cff6f8"/>
<circle cx="722.5" cy="2592.6" r="9.9" fill="#cff6f8"/>
<circle cx="715.8" cy="2590.3" r="9.9" fill="#cff6f8"/>
<circle cx="766.1" cy="2580.9" r="9.9" fill="#d98ffa"/>
<circle cx="751.7" cy="2588.6" r="9.9" fill="#d98ffa"/>
<circle cx="757" cy="2579.9" r="9.9" fill="#d98ffa"/>
<circle cx="771.1" cy="2592.6" r="9.9" fill="#d98ffa"/>
<circle cx="817.4" cy="2571.8" r="9.9" fill="#c633f5"/>
<circle cx="802" cy="2580.9" r="9.9" fill="#c633f5"/>
<circle cx="821.5" cy="2584.2" r="9.9" fill="#c633f5"/>
<circle cx="813.1" cy="2577.5" r="9.9" fill="#c633f5"/>
<circle cx="808.1" cy="2572.5" r="9.9" fill="#c633f5"/>
<circle cx="857.7" cy="2584.2" r="9.9" fill="#6f3a97"/>
<circle cx="851.7" cy="2590.9" r="9.9" fill="#6f3a97"/>
<circle cx="866.8" cy="2589.3" r="9.9" fill="#6f3a97"/>
<circle cx="871.8" cy="2593.6" r="9.9" fill="#6f3a97"/>
<circle cx="903" cy="2591" r="9.9" fill="#3f9a8c"/>
<circle cx="908" cy="2589.3" r="9.9" fill="#3f9a8c"/>
<circle cx="922.8" cy="2592.6" r="9.9" fill="#3f9a8c"/>
<circle cx="917.1" cy="2590.3" r="9.9" fill="#3f9a8c"/>
<circle cx="963.1" cy="2316.8" r="9.9" fill="#4da3f7"/>
<circle cx="953.4" cy="2430.5" r="9.9" fill="#4da3f7"/>
<circle cx="972.8" cy="2424.8" r="9.9" fill="#4da3f7"/>
<circle cx="972.8" cy="2485.9" r="9.9" fill="#4da3f7"/>
<circle cx="953.4" cy="2495.6" r="9.9" fill="#4da3f7"/>
<circle cx="1013.4" cy="2481.9" r="9.9" fill="#2a22f0"/>
<circle cx="1013.4" cy="2512.1" r="9.9" fill="#2a22f0"/>
<circle cx="1003.7" cy="2551.7" r="9.9" fill="#2a22f0"/>
<circle cx="1023.5" cy="2550.7" r="9.9" fill="#2a22f0"/>
<circle cx="1013.4" cy="2550.7" r="9.9" fill="#2a22f0"/>
<circle cx="1063.8" cy="2506.7" r="9.9" fill="#d4505e"/>
<circle cx="1054" cy="2569.1" r="9.9" fill="#d4505e"/>
<circle cx="1066.4" cy="2560.7" r="9.9" fill="#d4505e"/>
<circle cx="1059.7" cy="2551.7" r="9.9" fill="#d4505e"/>
<circle cx="1073.2" cy="2553.4" r="9.9" fill="#d4505e"/>
</g>
<text font-size="31.5" text-anchor="end" transform="translate(718.9 2635.1) rotate(-45)">TCP</text>
<text font-size="31.5" text-anchor="end" transform="translate(769.2 2635.1) rotate(-45)">TC I</text>
<text font-size="31.5" text-anchor="end" transform="translate(819.6 2635.1) rotate(-45)">TC II</text>
<text font-size="31.5" text-anchor="end" transform="translate(869.9 2635.1) rotate(-45)">TC III</text>
<text font-size="31.5" text-anchor="end" transform="translate(920.3 2635.1) rotate(-45)">LTi cells</text>
<text font-size="31.5" text-anchor="end" transform="translate(970.6 2635.1) rotate(-45)">cDC1</text>
<text font-size="31.5" text-anchor="end" transform="translate(1020.9 2635.1) rotate(-45)">cDC2</text>
<text font-size="31.5" text-anchor="end" transform="translate(1071.3 2635.1) rotate(-45)">pDC</text>
<line x1="711.4" y1="2121.7" x2="1013.4" y2="2121.7" stroke="#3a3a3a" stroke-width="1.2"/>
<text x="799.4" y="2111.6" font-size="26.5">p = 0.0364</text>
<line x1="711.4" y1="2155.3" x2="963.1" y2="2155.3" stroke="#3a3a3a" stroke-width="1.2"/>
<text x="774.4" y="2145.2" font-size="26.5">p &lt; 0.0001</text>
<line x1="761.7" y1="2188.9" x2="963.1" y2="2188.9" stroke="#3a3a3a" stroke-width="1.2"/>
<text x="799.4" y="2178.8" font-size="26.5">p &lt; 0.0001</text>
<line x1="812.1" y1="2222.1" x2="963.1" y2="2222.1" stroke="#3a3a3a" stroke-width="1.2"/>
<text x="824" y="2212" font-size="26.5">p &lt; 0.0001</text>
<line x1="862.4" y1="2257" x2="1013.4" y2="2257" stroke="#3a3a3a" stroke-width="1.2"/>
<text x="875" y="2246.9" font-size="26.5">p = 0.0450</text>
<line x1="862.4" y1="2293.2" x2="963.1" y2="2293.2" stroke="#3a3a3a" stroke-width="1.2"/>
<text x="849.9" y="2283.1" font-size="26.5">p &lt; 0.0001</text>
<rect x="1198.6" y="2592" width="33" height="5" fill="#fff" stroke="#000" stroke-width="1.6"/>
<rect x="1243.1" y="2593" width="33" height="4" fill="#fff" stroke="#000" stroke-width="1.6"/>
<rect x="1287.6" y="2590" width="33" height="7" fill="#fff" stroke="#000" stroke-width="1.6"/>
<rect x="1332" y="2593.5" width="33" height="3.5" fill="#fff" stroke="#000" stroke-width="1.6"/>
<rect x="1376.5" y="2591.5" width="33" height="5.5" fill="#fff" stroke="#000" stroke-width="1.6"/>
<rect x="1420.9" y="2592.5" width="33" height="4.5" fill="#fff" stroke="#000" stroke-width="1.6"/>
<rect x="1465.4" y="2381.9" width="33" height="215.1" fill="#fff" stroke="#000" stroke-width="1.6"/>
<rect x="1509.9" y="2478.5" width="33" height="118.5" fill="#fff" stroke="#000" stroke-width="1.6"/>
<rect x="1554.3" y="2552.3" width="33" height="44.7" fill="#fff" stroke="#000" stroke-width="1.6"/>
<line x1="1481.9" y1="2358" x2="1481.9" y2="2404.7" stroke="#000" stroke-width="1.6"/>
<line x1="1472.4" y1="2358" x2="1491.4" y2="2358" stroke="#000" stroke-width="1.6"/>
<line x1="1472.4" y1="2404.7" x2="1491.4" y2="2404.7" stroke="#000" stroke-width="1.6"/>
<line x1="1526.4" y1="2465.4" x2="1526.4" y2="2478.5" stroke="#000" stroke-width="1.6"/>
<line x1="1516.9" y1="2465.4" x2="1535.9" y2="2465.4" stroke="#000" stroke-width="1.6"/>
<line x1="1188.3" y1="2225.2" x2="1188.3" y2="2597.8" stroke="#000" stroke-width="1.6"/>
<line x1="1174.5" y1="2597" x2="1600" y2="2597" stroke="#000" stroke-width="1.6"/>
<line x1="1175" y1="2226" x2="1188.3" y2="2226" stroke="#000" stroke-width="1.6"/>
<text x="1170" y="2236.9" font-size="31.5" text-anchor="end">60</text>
<line x1="1175" y1="2349.7" x2="1188.3" y2="2349.7" stroke="#000" stroke-width="1.6"/>
<text x="1170" y="2360.6" font-size="31.5" text-anchor="end">40</text>
<line x1="1175" y1="2473.3" x2="1188.3" y2="2473.3" stroke="#000" stroke-width="1.6"/>
<text x="1170" y="2484.2" font-size="31.5" text-anchor="end">20</text>
<line x1="1175" y1="2597" x2="1188.3" y2="2597" stroke="#000" stroke-width="1.6"/>
<text x="1170" y="2607.9" font-size="31.5" text-anchor="end">0</text>
<line x1="1215.1" y1="2597" x2="1215.1" y2="2611" stroke="#000" stroke-width="1.6"/>
<line x1="1259.6" y1="2597" x2="1259.6" y2="2611" stroke="#000" stroke-width="1.6"/>
<line x1="1304.1" y1="2597" x2="1304.1" y2="2611" stroke="#000" stroke-width="1.6"/>
<line x1="1348.5" y1="2597" x2="1348.5" y2="2611" stroke="#000" stroke-width="1.6"/>
<line x1="1393" y1="2597" x2="1393" y2="2611" stroke="#000" stroke-width="1.6"/>
<line x1="1437.4" y1="2597" x2="1437.4" y2="2611" stroke="#000" stroke-width="1.6"/>
<line x1="1481.9" y1="2597" x2="1481.9" y2="2611" stroke="#000" stroke-width="1.6"/>
<line x1="1526.4" y1="2597" x2="1526.4" y2="2611" stroke="#000" stroke-width="1.6"/>
<line x1="1570.8" y1="2597" x2="1570.8" y2="2611" stroke="#000" stroke-width="1.6"/>
<line x1="1175" y1="2590.8" x2="1188.3" y2="2590.8" stroke="#000" stroke-width="1.6"/>
<line x1="1194.1" y1="2590.8" x2="1600" y2="2590.8" stroke="#000" stroke-width="3.7" stroke-linecap="round" stroke-dasharray="0.01 6.66"/>
<g stroke="#000" stroke-width="1.6">
<circle cx="1223.5" cy="2597.7" r="9.9" fill="#cff6f8"/>
<circle cx="1219.1" cy="2591.9" r="9.9" fill="#cff6f8"/>
<circle cx="1207.4" cy="2596" r="9.9" fill="#cff6f8"/>
<circle cx="1210.7" cy="2586.6" r="9.9" fill="#cff6f8"/>
<circle cx="1267.8" cy="2597" r="9.9" fill="#d98ffa"/>
<circle cx="1263.8" cy="2593.3" r="9.9" fill="#d98ffa"/>
<circle cx="1252.7" cy="2595.3" r="9.9" fill="#d98ffa"/>
<circle cx="1256" cy="2592.6" r="9.9" fill="#d98ffa"/>
<circle cx="1312.1" cy="2597" r="9.9" fill="#c633f5"/>
<circle cx="1308.1" cy="2589.3" r="9.9" fill="#c633f5"/>
<circle cx="1295.6" cy="2590.9" r="9.9" fill="#c633f5"/>
<circle cx="1300.3" cy="2586.9" r="9.9" fill="#c633f5"/>
<circle cx="1356.7" cy="2597.7" r="9.9" fill="#6f3a97"/>
<circle cx="1351.7" cy="2595.3" r="9.9" fill="#6f3a97"/>
<circle cx="1340.9" cy="2597" r="9.9" fill="#6f3a97"/>
<circle cx="1345" cy="2591.6" r="9.9" fill="#6f3a97"/>
<circle cx="1385.2" cy="2593.6" r="9.9" fill="#4a1d9e"/>
<circle cx="1388.6" cy="2590.3" r="9.9" fill="#4a1d9e"/>
<circle cx="1395.3" cy="2591.9" r="9.9" fill="#4a1d9e"/>
<circle cx="1400.3" cy="2595.3" r="9.9" fill="#4a1d9e"/>
<circle cx="1445" cy="2596" r="9.9" fill="#3f9a8c"/>
<circle cx="1440.6" cy="2592.6" r="9.9" fill="#3f9a8c"/>
<circle cx="1429.9" cy="2595.3" r="9.9" fill="#3f9a8c"/>
<circle cx="1433.9" cy="2591.6" r="9.9" fill="#3f9a8c"/>
<circle cx="1481.9" cy="2293.3" r="9.9" fill="#4da3f7"/>
<circle cx="1489.3" cy="2417.4" r="9.9" fill="#4da3f7"/>
<circle cx="1474.5" cy="2421.5" r="9.9" fill="#4da3f7"/>
<circle cx="1489.3" cy="2381.2" r="9.9" fill="#4da3f7"/>
<circle cx="1474.5" cy="2394.6" r="9.9" fill="#4da3f7"/>
<circle cx="1526.2" cy="2434.9" r="9.9" fill="#2a22f0"/>
<circle cx="1520.5" cy="2481.5" r="9.9" fill="#2a22f0"/>
<circle cx="1533.9" cy="2482.6" r="9.9" fill="#2a22f0"/>
<circle cx="1519.5" cy="2481.2" r="9.9" fill="#2a22f0"/>
<circle cx="1518.8" cy="2501.3" r="9.9" fill="#2a22f0"/>
<circle cx="1567.1" cy="2533.9" r="9.9" fill="#d4505e"/>
<circle cx="1563.1" cy="2550" r="9.9" fill="#d4505e"/>
<circle cx="1578.2" cy="2554" r="9.9" fill="#d4505e"/>
<circle cx="1569.8" cy="2547.3" r="9.9" fill="#d4505e"/>
<circle cx="1573.8" cy="2546.3" r="9.9" fill="#d4505e"/>
</g>
<text font-size="31.5" text-anchor="end" transform="translate(1222.6 2636.5) rotate(-45)">TCP</text>
<text font-size="31.5" text-anchor="end" transform="translate(1267.1 2636.5) rotate(-45)">TC I</text>
<text font-size="31.5" text-anchor="end" transform="translate(1311.6 2636.5) rotate(-45)">TC II</text>
<text font-size="31.5" text-anchor="end" transform="translate(1356 2636.5) rotate(-45)">TC III</text>
<text font-size="31.5" text-anchor="end" transform="translate(1400.5 2636.5) rotate(-45)">TC IV</text>
<text font-size="31.5" text-anchor="end" transform="translate(1444.9 2636.5) rotate(-45)">LTi cells</text>
<text font-size="31.5" text-anchor="end" transform="translate(1489.4 2636.5) rotate(-45)">cDC1</text>
<text font-size="31.5" text-anchor="end" transform="translate(1533.9 2636.5) rotate(-45)">cDC2</text>
<text font-size="31.5" text-anchor="end" transform="translate(1578.3 2636.5) rotate(-45)">pDC</text>
<line x1="1214.8" y1="1763.4" x2="1570.8" y2="1763.4" stroke="#3a3a3a" stroke-width="1.2"/>
<text x="1330.6" y="1753.3" font-size="26.5">p = 0.0155</text>
<line x1="1214.8" y1="1803.4" x2="1526.2" y2="1803.4" stroke="#3a3a3a" stroke-width="1.2"/>
<text x="1307.9" y="1793.3" font-size="26.5">p &lt; 0.0001</text>
<line x1="1214.8" y1="1842.3" x2="1481.9" y2="1842.3" stroke="#3a3a3a" stroke-width="1.2"/>
<text x="1285.4" y="1832.2" font-size="26.5">p &lt; 0.0001</text>
<line x1="1259.4" y1="1878.5" x2="1570.8" y2="1878.5" stroke="#3a3a3a" stroke-width="1.2"/>
<text x="1352.6" y="1868.4" font-size="26.5">p = 0.0097</text>
<line x1="1259.4" y1="1916.1" x2="1526.2" y2="1916.1" stroke="#3a3a3a" stroke-width="1.2"/>
<text x="1330.6" y="1906" font-size="26.5">p &lt; 0.0001</text>
<line x1="1259.4" y1="1954.4" x2="1481.9" y2="1954.4" stroke="#3a3a3a" stroke-width="1.2"/>
<text x="1307.9" y="1944.3" font-size="26.5">p &lt; 0.0001</text>
<line x1="1303.7" y1="1987.9" x2="1570.8" y2="1987.9" stroke="#3a3a3a" stroke-width="1.2"/>
<text x="1374.4" y="1977.8" font-size="26.5">p = 0.0238</text>
<line x1="1303.7" y1="2023.2" x2="1526.2" y2="2023.2" stroke="#3a3a3a" stroke-width="1.2"/>
<text x="1352.6" y="2013.1" font-size="26.5">p &lt; 0.0001</text>
<line x1="1303.7" y1="2058" x2="1481.9" y2="2058" stroke="#3a3a3a" stroke-width="1.2"/>
<text x="1330.6" y="2047.9" font-size="26.5">p &lt; 0.0001</text>
<line x1="1348.3" y1="2091.9" x2="1570.8" y2="2091.9" stroke="#3a3a3a" stroke-width="1.2"/>
<text x="1397.2" y="2081.8" font-size="26.5">p = 0.0100</text>
<line x1="1348.3" y1="2127.2" x2="1526.2" y2="2127.2" stroke="#3a3a3a" stroke-width="1.2"/>
<text x="1374.4" y="2117.1" font-size="26.5">p &lt; 0.0001</text>
<line x1="1348.3" y1="2161.7" x2="1481.9" y2="2161.7" stroke="#3a3a3a" stroke-width="1.2"/>
<text x="1352.6" y="2151.6" font-size="26.5">p &lt; 0.0001</text>
<line x1="1392.6" y1="2196" x2="1570.8" y2="2196" stroke="#3a3a3a" stroke-width="1.2"/>
<text x="1419" y="2185.9" font-size="26.5">p = 0.0157</text>
<line x1="1392.6" y1="2230.9" x2="1526.2" y2="2230.9" stroke="#3a3a3a" stroke-width="1.2"/>
<text x="1397.2" y="2220.8" font-size="26.5">p &lt; 0.0001</text>
<line x1="1392.6" y1="2265.1" x2="1481.9" y2="2265.1" stroke="#3a3a3a" stroke-width="1.2"/>
<text x="1374.4" y="2255" font-size="26.5">p &lt; 0.0001</text>
<text x="1795.5" y="1067.3" font-size="36" text-anchor="middle">i.p. 4-OHT every 48h</text>
<text x="1799.4" y="1110.8" font-size="35.8" text-anchor="middle">P3 - P11</text>
<line x1="1793.9" y1="1126.9" x2="1797.3" y2="1307" stroke="#000" stroke-width="1.6"/>
<polygon points="1787,1306.3 1807.8,1306.3 1797.6,1323.6" fill="#000"/>
<text x="1817.6" y="1374" font-size="36" text-anchor="middle">Analysis P12</text>
<text x="1795.2" y="2185.6" font-size="36" text-anchor="middle">i.g. Tam 9w</text>
<line x1="1793.9" y1="2212.3" x2="1793.9" y2="2424.5" stroke="#000" stroke-width="1.6"/>
<polygon points="1783.4,2423.8 1804.6,2423.8 1794,2441" fill="#000"/>
<text x="1795.8" y="2493.6" font-size="36" text-anchor="middle">Analysis 11w</text>
</g>
</svg>
</body>
</html>
